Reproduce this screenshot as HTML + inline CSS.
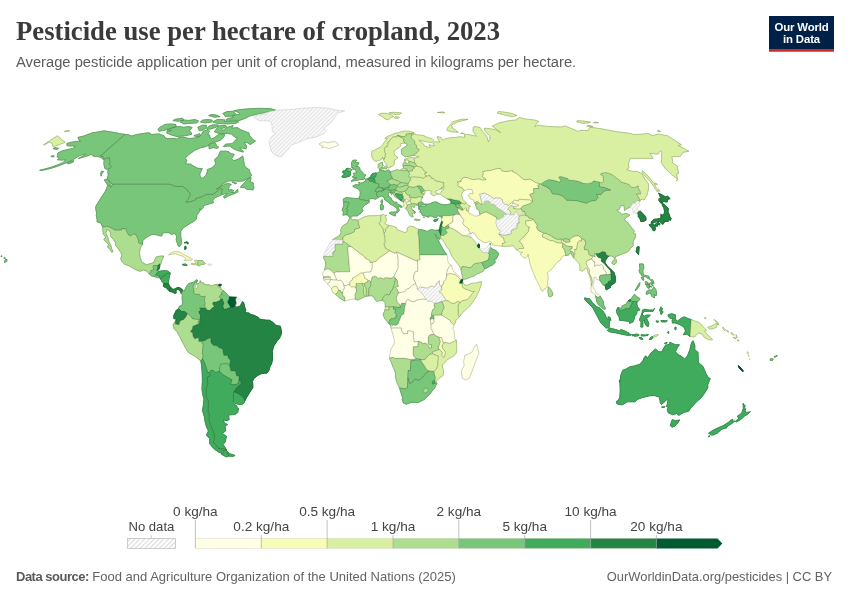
<!DOCTYPE html>
<html><head><meta charset="utf-8"><title>Pesticide use per hectare of cropland, 2023</title>
<style>
html,body{margin:0;padding:0;background:#fff}
body{width:850px;height:600px;position:relative;overflow:hidden;font-family:"Liberation Sans",sans-serif;color:#5b5b5b}
.map{position:absolute;left:0;top:0}
h1{position:absolute;left:16px;top:16px;margin:0;font-family:"Liberation Serif",serif;font-weight:700;font-size:26.7px;line-height:30px;color:#3a3a3a;white-space:nowrap}
.sub{position:absolute;left:16px;top:52.6px;font-size:14.73px;line-height:18px;color:#5b5b5b;white-space:nowrap}
.logo{position:absolute;left:769px;top:16px;width:65px;height:36px;color:#fff;font-weight:700;font-size:11.4px;line-height:12.1px;text-align:center;letter-spacing:-.15px}
.logo span{display:block;padding-top:5.2px}
.foot{position:absolute;top:568.8px;font-size:13px;line-height:16px;color:#636363;white-space:nowrap}.foot b{letter-spacing:-.5px;color:#5a5a5a}
.lg{position:absolute;font-size:13px;line-height:15px;color:#3c3c3c;white-space:nowrap;transform:translateX(-50%)}
</style></head><body>
<svg class="map" width="850" height="600" viewBox="0 0 850 600">
<defs><pattern id="h" patternUnits="userSpaceOnUse" width="2.83" height="2.83" patternTransform="rotate(-45)"><rect width="2.83" height="2.83" fill="#fff"/><rect width="2.83" height="1.3" fill="#e3e3e3"/></pattern></defs>
<g stroke-linejoin="round"><path d="M111.8,184.0L168.5,184.0L172.5,185.1L176.0,186.4L178.9,186.6L182.2,186.1L187.2,189.7L187.4,190.7L189.0,191.8L190.4,194.3L188.3,199.5L185.8,202.1L190.5,201.6L195.3,200.0L195.6,198.5L201.9,196.7L206.3,194.3L213.0,194.3L216.4,192.0L220.0,188.2L222.6,188.9L221.4,192.5L222.3,194.6L218.7,196.1L215.1,197.7L212.8,200.3L213.5,202.7L210.0,203.7L205.3,205.0L203.8,206.0L202.7,208.4L200.4,210.2L199.9,208.4L199.6,211.5L196.8,215.2L196.8,215.5L196.5,218.9L194.1,221.2L190.3,223.4L186.9,225.5L182.9,228.1L180.7,231.5L180.8,236.3L181.5,241.0L181.1,244.7L179.6,246.5L178.3,246.3L177.4,243.6L176.1,239.7L176.8,236.3L174.8,233.6L171.3,234.4L169.0,232.6L164.5,232.8L162.2,233.1L162.0,236.0L159.4,235.7L156.2,234.7L152.2,234.4L149.3,235.7L145.4,238.1L142.8,240.7L142.4,244.4L138.6,243.1L138.2,239.9L136.0,234.7L133.0,234.1L130.7,236.3L128.2,234.7L125.5,228.9L121.7,228.9L121.3,230.2L115.1,230.2L108.1,226.5L102.6,227.0L100.9,223.1L97.0,221.8L97.0,219.1L96.3,215.7L96.5,213.1L95.7,208.6L95.8,206.3L98.4,202.1L101.6,196.9L105.4,191.2L107.6,185.6L110.7,185.8L110.4,187.9L112.3,184.3ZM125.0,134.4L119.4,133.5L114.3,132.5L110.3,131.8L104.4,130.8L98.6,131.8L91.9,132.9L84.4,135.8L77.9,137.4L78.8,139.2L79.0,140.3L80.9,141.4L76.5,141.4L70.9,142.3L66.7,143.5L67.1,145.8L72.1,146.0L75.4,146.2L72.8,148.4L67.7,149.5L62.6,150.7L58.0,152.9L57.5,154.7L57.3,157.1L59.3,157.9L57.5,159.8L62.5,160.1L65.8,159.6L62.8,162.8L56.8,165.2L50.5,167.4L45.0,168.9L39.6,170.4L43.7,170.1L50.1,168.6L56.2,166.7L62.7,164.2L69.1,161.8L73.9,159.1L79.8,155.5L85.4,153.8L83.8,155.5L78.4,158.4L83.5,157.1L87.6,155.9L91.3,154.3L92.5,155.7L94.2,156.6L97.9,156.6L100.9,157.4L103.0,159.1L104.2,160.8L103.8,163.3L104.2,165.9L104.8,168.4L106.9,169.4L109.9,168.2L111.5,166.4L109.6,164.7L110.2,161.5L109.6,159.1L109.4,157.4L104.0,159.1L103.5,156.6L100.6,155.9ZM67.2,163.3L69.8,163.5L73.2,162.0L73.7,160.6L70.3,161.5ZM53.0,148.6L56.8,149.5L58.7,148.4L54.8,147.6ZM50.8,156.6L53.5,156.9L54.2,155.7L51.9,155.9ZM4.5,262.6L7.0,261.3L7.0,259.4L5.1,259.7ZM3.8,258.4L5.5,258.1L4.6,257.3ZM0.9,256.5L2.0,256.5L1.6,255.5ZM-2.1,254.9L-1.2,254.7L-1.4,254.0Z" fill="#78c679" stroke="#78c679" stroke-width="1"/>
<path d="M125.0,134.4L128.1,134.6L131.6,136.0L136.6,134.6L142.9,133.5L149.0,132.7L151.7,134.6L155.8,134.0L159.2,134.0L164.1,135.8L165.3,138.0L167.4,138.5L173.7,138.3L177.1,139.2L178.8,137.4L183.2,137.1L188.9,138.5L194.4,138.0L198.4,137.4L201.5,134.6L203.1,131.4L207.9,129.5L209.4,131.4L207.7,134.2L209.6,135.1L209.9,136.9L211.6,139.2L214.5,137.6L218.5,134.4L224.6,134.2L223.9,136.9L220.3,140.3L215.7,141.9L212.2,141.9L210.1,144.8L205.3,146.7L200.0,147.9L194.5,150.5L189.1,154.3L184.9,158.4L187.0,160.1L185.4,164.0L190.2,164.0L193.0,165.7L197.3,168.2L202.3,168.6L199.8,173.9L200.5,178.2L203.2,178.0L206.0,175.2L207.4,171.4L207.3,169.6L212.2,167.7L215.7,164.0L214.6,159.6L218.1,156.6L220.4,151.2L225.9,151.2L229.1,151.9L230.8,153.8L234.3,154.3L231.7,158.6L233.8,160.8L238.4,159.1L242.7,155.9L243.9,161.5L244.3,165.2L246.1,167.7L249.2,169.6L250.1,172.7L251.7,175.2L249.4,177.7L243.2,181.0L238.1,181.2L233.2,180.7L228.1,181.0L222.9,184.0L218.5,187.9L215.8,189.4L222.4,185.6L227.1,183.5L231.4,184.3L229.2,186.6L228.7,189.2L228.7,191.2L231.4,192.3L234.5,192.5L237.6,189.2L238.1,191.8L234.1,193.8L229.4,195.4L224.4,198.2L223.5,196.4L227.5,193.6L224.7,193.8L222.3,194.6L221.4,192.5L222.6,188.9L220.0,188.2L216.4,192.0L213.0,194.3L206.3,194.3L201.9,196.7L195.6,198.5L195.3,200.0L190.5,201.6L185.8,202.1L188.3,199.5L190.4,194.3L189.0,191.8L187.4,190.7L187.2,189.7L182.2,186.1L178.9,186.6L176.0,186.4L172.5,185.1L168.5,184.0L111.8,184.0L110.4,181.5L107.3,179.0L108.2,175.2L107.8,171.9L108.1,169.6L109.9,168.2L111.5,166.4L109.6,164.7L110.2,161.5L109.6,159.1L109.4,157.4L104.0,159.1L103.5,156.6L100.6,155.9ZM110.0,185.6L107.3,184.8L106.1,182.8L104.1,180.0L106.1,179.2L109.0,180.7L110.3,183.3ZM101.1,176.2L100.7,173.4L101.6,171.2L103.7,171.4L101.7,173.9ZM240.6,187.4L244.3,187.6L247.2,189.4L250.9,189.7L252.9,190.0L254.1,187.6L253.1,185.3L253.3,183.0L250.1,181.7L251.2,177.7L248.6,178.2L246.3,180.7L243.3,184.0L241.0,186.1ZM231.9,182.0L235.6,183.8L236.8,183.3L233.8,182.0ZM229.5,190.0L232.6,191.8L233.8,190.7L230.7,189.4ZM208.8,144.1L209.2,148.8L213.6,147.6L216.7,148.4L218.7,147.2L216.6,145.8L215.1,142.8L212.3,143.0ZM243.6,152.1L238.0,150.7L233.6,148.8L229.8,146.0L223.3,146.5L225.6,144.1L232.1,143.7L234.3,141.4L237.3,138.0L234.6,136.9L231.4,134.0L227.5,133.5L220.8,133.5L217.2,132.9L214.3,131.8L216.2,129.3L218.5,125.9L225.2,125.4L226.7,126.5L221.5,128.8L222.3,130.8L226.7,127.6L233.1,125.6L231.8,128.2L237.2,127.6L241.1,129.9L245.0,131.4L248.9,132.9L249.3,135.1L252.3,138.9L255.5,141.0L250.1,144.6L247.5,142.8L243.9,142.1L246.7,146.0L246.2,148.8L242.4,148.1L239.5,147.9L242.6,150.5ZM166.8,133.1L171.5,135.1L177.0,136.5L184.5,135.8L191.6,134.4L191.5,132.7L189.1,131.0L192.2,127.6L189.0,126.5L183.2,127.3L178.8,126.3L171.2,128.0L167.0,130.1L171.5,130.5L166.9,131.6ZM158.0,129.5L159.2,131.2L164.3,130.3L170.4,128.6L175.9,126.7L176.0,124.6L171.2,123.9L165.1,124.4L159.5,127.6ZM197.8,127.3L199.3,130.8L203.4,129.9L206.4,127.6L206.3,125.2L202.3,125.2ZM206.7,128.6L209.7,129.3L216.5,127.1L218.4,125.0L213.1,124.8L209.4,125.9ZM193.8,135.8L197.3,136.7L200.6,135.8L199.7,133.7ZM180.2,121.9L183.8,123.9L190.8,123.3L196.8,122.9L198.6,120.9L195.0,119.6L188.6,120.4L184.5,120.0ZM200.4,121.9L205.4,122.9L212.1,121.9L212.1,120.0L207.3,119.6L202.9,120.0ZM172.9,120.5L177.9,121.3L183.8,120.0L182.5,118.2L175.7,119.2ZM212.9,121.9L217.4,123.5L226.5,123.9L235.6,123.5L238.6,121.9L235.5,121.1L224.2,121.5L224.6,119.8L217.4,119.4ZM225.7,120.2L233.4,120.2L239.2,120.5L245.1,118.4L249.6,116.1L257.3,114.1L268.0,111.9L275.5,110.0L271.1,108.8L260.5,108.3L248.9,108.8L239.6,109.6L233.7,110.8L238.8,112.4L239.7,114.1L232.4,115.5L233.3,117.4L227.5,118.6ZM222.9,113.5L225.4,116.5L232.5,116.1L235.6,113.9L233.1,111.3L227.0,111.6ZM208.7,115.5L214.0,117.2L219.9,116.7L216.6,115.1L211.5,114.5Z" fill="#78c679" stroke="#78c679" stroke-width="1"/>
<path d="M102.6,227.0L108.1,226.5L115.1,230.2L121.3,230.2L121.7,228.9L125.5,228.9L128.2,234.7L130.7,236.3L133.0,234.1L136.0,234.7L138.2,239.9L138.6,243.1L142.4,244.4L140.3,248.1L139.4,253.4L140.2,257.3L141.6,261.8L144.3,263.6L146.5,264.7L151.3,263.4L153.6,262.6L155.3,258.6L156.2,257.1L160.3,256.0L163.7,256.0L161.9,260.5L160.8,264.4L159.7,263.9L157.7,265.5L153.5,265.7L153.0,267.3L154.1,270.0L151.3,270.2L149.5,274.2L146.2,270.7L143.5,270.0L139.9,271.3L135.5,269.7L132.3,267.8L128.5,265.5L124.7,264.4L121.7,261.3L120.7,258.6L121.9,255.7L120.9,252.6L118.2,248.6L115.5,245.2L115.3,242.3L113.3,239.4L110.5,236.3L110.1,231.5L107.2,229.1L105.8,233.1L107.5,236.5L108.9,241.5L110.9,245.5L111.7,248.9L113.1,251.5L111.8,252.3L110.1,249.4L107.7,247.3L108.5,244.2L105.2,241.3L103.9,239.4L105.8,237.0L103.2,234.1L103.0,231.0Z" fill="#addd8e" stroke="#addd8e" stroke-width="1"/>
<path d="M159.7,263.9L157.7,265.5L156.8,270.7L157.5,270.7L159.0,269.2L159.8,266.5Z" fill="#238443" stroke="#238443" stroke-width="1"/>
<path d="M149.5,274.2L151.3,270.2L154.1,270.0L153.0,267.3L153.5,265.7L157.7,265.5L156.8,270.7L157.5,270.7L159.0,271.3L156.5,273.4L156.0,274.7L154.1,276.4L151.6,276.0Z" fill="#78c679" stroke="#78c679" stroke-width="1"/>
<path d="M154.1,276.4L156.0,274.7L157.9,275.7L159.5,276.0L159.3,277.6L157.7,277.8L155.9,277.1Z" fill="#78c679" stroke="#78c679" stroke-width="1"/>
<path d="M159.0,271.3L156.5,273.4L156.0,274.7L157.9,275.7L159.5,276.0L159.3,277.6L160.2,278.4L161.1,278.4L162.0,276.3L164.3,276.0L166.4,273.6L170.3,273.1L169.1,272.1L167.6,270.9L164.2,270.7L160.7,271.0Z" fill="#41ab5d" stroke="#41ab5d" stroke-width="1"/>
<path d="M160.2,278.4L161.1,278.4L162.0,276.3L164.3,276.0L166.4,273.6L170.3,273.1L169.3,277.1L168.8,280.2L168.3,283.6L166.0,283.6L163.7,283.4L162.0,281.5Z" fill="#41ab5d" stroke="#41ab5d" stroke-width="1"/>
<path d="M163.7,283.4L166.0,283.6L168.3,283.6L169.8,286.3L170.7,287.5L169.8,289.4L169.7,291.4L168.2,290.0L165.8,287.3L164.8,287.3L163.3,286.3Z" fill="#238443" stroke="#238443" stroke-width="1"/>
<path d="M170.7,287.5L173.1,289.4L175.5,288.6L177.8,287.3L180.1,287.9L182.6,289.7L182.3,291.8L181.3,293.6L180.0,290.7L177.8,289.2L175.8,290.7L176.4,292.9L174.3,293.6L173.0,292.3L169.7,291.4L169.8,289.4Z" fill="#238443" stroke="#238443" stroke-width="1"/>
<path d="M168.6,254.9L171.0,252.8L174.6,251.7L179.1,251.8L182.3,253.6L185.5,255.5L188.7,257.1L192.5,259.4L190.6,260.2L184.4,260.3L185.8,258.4L183.1,256.3L178.7,254.9L175.4,253.6L171.9,254.3Z" fill="#f7fcb9" stroke="#f7fcb9" stroke-width="1"/>
<path d="M182.4,264.4L185.6,263.9L187.3,265.2L185.0,265.7L182.5,264.9Z" fill="#41ab5d" stroke="#41ab5d" stroke-width="1"/>
<path d="M191.3,264.4L195.9,264.8L197.6,265.1L198.1,260.7L195.2,260.2L194.2,260.7L195.5,261.8L196.2,263.6L193.7,263.6L191.4,263.5Z" fill="#d9f0a3" stroke="#d9f0a3" stroke-width="1"/>
<path d="M197.6,265.1L198.1,260.7L202.0,260.5L203.8,261.8L205.4,263.6L204.0,264.2L201.2,264.4L199.2,266.0Z" fill="#addd8e" stroke="#addd8e" stroke-width="1"/>
<path d="M184.8,246.5L186.0,246.3L186.1,248.9L184.7,249.4ZM184.1,242.8L186.8,241.8L188.4,242.8L187.7,244.2L187.3,242.8Z" fill="#238443" stroke="#238443" stroke-width="1"/>
<path d="M218.8,286.1L218.9,284.4L221.2,284.2L220.9,286.0Z" fill="#005a32" stroke="#005a32" stroke-width="1"/>
<path d="M182.6,289.7L183.9,291.5L185.5,288.4L187.3,285.0L189.0,283.4L190.9,282.9L193.3,282.3L195.2,280.7L196.4,279.8L197.6,280.2L197.2,281.5L194.6,283.4L193.0,286.8L194.0,290.2L194.1,293.1L195.4,294.2L199.4,294.2L200.9,296.5L205.4,296.3L204.6,298.6L204.5,301.5L205.6,303.6L204.4,305.2L206.0,308.1L206.5,309.4L204.2,308.1L199.7,308.1L201.1,310.0L199.2,311.2L199.2,313.1L200.6,315.2L199.6,323.7L197.7,322.6L199.1,319.7L192.5,318.9L190.6,316.0L186.8,313.0L184.5,311.5L181.7,311.5L178.7,308.9L179.5,306.0L181.8,305.8L182.6,302.3L182.0,298.1L182.4,295.0L181.3,293.6L182.3,291.8Z" fill="#78c679" stroke="#78c679" stroke-width="1"/>
<path d="M197.2,281.5L196.6,282.3L196.4,283.9L197.8,283.6L199.7,282.6L200.3,280.5L200.9,282.3L203.9,283.1L204.2,284.7L208.9,284.7L211.6,286.0L213.2,285.2L216.3,284.4L218.9,284.4L216.9,285.5L217.8,286.8L220.8,287.6L221.2,290.0L223.5,290.7L221.3,292.9L222.2,294.2L220.1,295.2L219.5,296.9L221.1,298.9L219.2,301.0L216.2,302.1L213.4,302.3L212.6,303.9L214.7,306.5L213.0,307.6L209.7,310.5L207.9,310.6L206.5,309.4L206.0,308.1L204.4,305.2L205.6,303.6L204.5,301.5L204.6,298.6L205.4,296.3L200.9,296.5L199.4,294.2L195.4,294.2L194.1,293.1L194.0,290.2L193.0,286.8L194.6,283.4L197.2,281.5Z" fill="#addd8e" stroke="#addd8e" stroke-width="1"/>
<path d="M223.5,290.7L226.4,293.4L228.7,296.0L229.4,296.9L229.0,299.4L227.6,302.1L228.9,303.9L230.8,307.6L228.4,308.1L226.1,309.2L223.7,308.9L222.8,306.3L223.6,303.6L223.6,302.1L222.5,300.5L222.7,299.2L221.1,298.9L219.5,296.9L220.1,295.2L222.2,294.2L221.3,292.9L223.5,290.7Z" fill="#78c679" stroke="#78c679" stroke-width="1"/>
<path d="M229.4,296.9L232.3,297.1L236.8,297.3L235.8,299.7L236.6,303.1L235.3,306.4L232.2,307.6L230.8,307.6L228.9,303.9L227.6,302.1L229.0,299.4L229.4,296.9Z" fill="#005a32" stroke="#005a32" stroke-width="1"/>
<path d="M242.1,301.7L243.6,302.3L244.8,307.3L245.9,310.2L244.9,312.6L249.4,313.1L250.5,314.4L254.0,315.2L258.7,317.6L259.2,319.2L263.4,319.7L266.9,320.2L269.3,320.1L272.8,322.3L275.8,325.2L280.4,326.3L281.5,331.3L281.4,333.9L279.6,338.1L276.7,341.6L273.4,346.8L272.4,351.6L272.6,359.2L271.5,364.2L270.2,366.0L268.9,370.5L266.8,373.2L264.1,373.2L260.7,373.9L257.2,375.8L253.6,378.9L252.5,381.6L252.9,385.3L252.8,387.9L250.5,391.1L248.7,394.2L246.7,397.4L244.5,401.5L243.8,398.2L240.9,395.5L238.4,393.9L235.4,392.4L233.6,392.1L236.6,387.6L238.6,385.8L241.1,384.1L241.1,381.6L238.8,380.0L239.0,376.0L236.5,375.8L235.4,371.3L230.6,370.8L230.0,367.1L229.3,365.6L230.4,360.5L228.1,358.1L227.9,355.5L223.7,355.5L222.6,348.9L219.5,348.1L216.6,345.8L213.4,345.5L211.1,342.9L210.6,338.1L207.8,338.7L204.7,340.8L201.3,341.4L198.7,341.6L198.5,337.6L194.8,338.9L193.1,336.6L192.2,332.1L190.4,332.3L191.0,330.8L192.3,328.7L192.7,326.3L197.3,324.2L199.6,323.7L200.6,315.2L199.2,313.1L199.2,311.2L201.1,310.0L199.7,308.1L204.2,308.1L206.5,309.4L207.9,310.6L209.7,310.5L213.0,307.6L214.7,306.5L212.6,303.9L213.4,302.3L216.2,302.1L219.2,301.0L221.1,298.9L222.7,299.2L222.5,300.5L223.6,302.1L223.6,303.6L222.8,306.3L223.7,308.9L226.1,309.2L228.4,308.1L230.8,307.6L232.2,307.6L235.3,306.4L237.1,306.8L239.9,306.0Z" fill="#238443" stroke="#238443" stroke-width="1"/>
<path d="M186.8,313.0L187.1,315.1L186.2,316.5L183.9,319.4L181.1,320.5L179.8,321.6L179.1,324.7L177.3,324.4L175.2,324.2L175.3,321.6L176.5,319.2L173.9,318.7L173.8,315.2L175.6,311.8L175.9,310.5L178.7,308.9L181.7,311.5L184.5,311.5Z" fill="#238443" stroke="#238443" stroke-width="1"/>
<path d="M175.3,321.6L173.1,324.4L173.9,328.4L176.9,331.6L179.9,337.1L183.6,344.2L186.0,348.9L188.9,352.9L195.5,356.6L198.3,358.9L200.8,360.9L202.6,358.7L203.2,355.2L202.4,353.7L202.6,351.0L203.0,346.3L203.4,345.5L201.3,341.4L198.7,341.6L198.5,337.6L194.8,338.9L193.1,336.6L192.2,332.1L190.4,332.3L191.0,330.8L192.3,328.7L192.7,326.3L197.3,324.2L199.6,323.7L197.7,322.6L199.1,319.7L192.5,318.9L190.6,316.0L186.8,313.0L187.1,315.1L186.2,316.5L183.9,319.4L181.1,320.5L179.8,321.6L179.1,324.7L177.3,324.4L175.2,324.2Z" fill="#addd8e" stroke="#addd8e" stroke-width="1"/>
<path d="M202.6,358.7L204.4,362.6L205.7,366.3L206.7,369.2L207.7,372.6L209.3,372.6L211.1,370.0L213.7,370.8L215.7,372.6L219.4,371.2L219.9,366.6L220.8,364.2L226.9,363.4L229.3,365.6L230.4,360.5L228.1,358.1L227.9,355.5L223.7,355.5L222.6,348.9L219.5,348.1L216.6,345.8L213.4,345.5L211.1,342.9L210.6,338.1L207.8,338.7L204.7,340.8L201.3,341.4L203.4,345.5L203.0,346.3L202.6,351.0L202.4,353.7L203.2,355.2Z" fill="#78c679" stroke="#78c679" stroke-width="1"/>
<path d="M219.4,371.2L223.7,375.3L228.5,377.9L231.9,379.7L230.3,384.3L233.9,384.7L236.2,384.5L238.6,382.6L238.8,380.0L239.0,376.0L236.5,375.8L235.4,371.3L230.6,370.8L230.0,367.1L229.3,365.6L226.9,363.4L220.8,364.2L219.9,366.6Z" fill="#78c679" stroke="#78c679" stroke-width="1"/>
<path d="M233.6,392.1L233.3,395.5L233.3,398.2L233.5,401.8L235.1,403.3L238.9,404.5L241.7,404.6L243.9,403.2L244.5,401.5L243.8,398.2L240.9,395.5L238.4,393.9L235.4,392.4Z" fill="#41ab5d" stroke="#41ab5d" stroke-width="1"/>
<path d="M209.3,372.6L210.1,375.8L207.1,377.1L207.8,383.7L206.2,387.6L206.0,392.9L206.0,396.8L208.0,400.3L208.3,403.4L208.1,407.4L207.9,411.3L209.4,415.2L208.8,419.2L210.3,424.4L211.7,428.3L214.0,433.4L214.2,438.6L213.2,442.4L216.6,445.7L218.9,448.8L222.9,448.8L226.4,449.5L223.1,444.5L225.2,441.9L226.5,436.3L222.3,433.4L225.6,430.9L225.6,429.6L225.1,425.7L227.7,424.6L224.3,423.1L223.4,419.9L227.9,420.7L229.2,419.4L228.5,415.0L234.9,414.5L237.7,412.6L238.6,408.4L237.2,408.2L237.0,406.1L233.9,403.7L233.5,401.8L233.3,398.2L233.3,395.5L233.6,392.1L236.6,387.6L238.6,385.8L241.1,384.1L241.1,381.6L238.8,380.0L238.6,382.6L236.2,384.5L233.9,384.7L230.3,384.3L231.9,379.7L228.5,377.9L223.7,375.3L219.4,371.2L215.7,372.6L213.7,370.8L211.1,370.0ZM226.4,450.4L227.7,452.0L230.0,453.8L235.1,455.4L233.0,456.4L228.8,456.1Z" fill="#41ab5d" stroke="#41ab5d" stroke-width="1"/>
<path d="M200.8,360.9L201.6,365.3L202.2,374.5L202.4,381.0L201.9,388.9L202.7,394.2L203.9,399.5L203.2,406.1L202.4,410.5L204.3,416.6L205.1,421.8L206.3,426.5L208.4,430.9L206.3,435.2L209.7,438.6L209.6,443.7L213.9,448.8L218.4,452.0L222.4,453.5L222.0,450.8L224.4,450.0L226.4,449.5L222.9,448.8L218.9,448.8L216.6,445.7L213.2,442.4L214.2,438.6L214.0,433.4L211.7,428.3L210.3,424.4L208.8,419.2L209.4,415.2L207.9,411.3L208.1,407.4L208.3,403.4L208.0,400.3L206.0,396.8L206.0,392.9L206.2,387.6L207.8,383.7L207.1,377.1L210.1,375.8L209.3,372.6L207.7,372.6L206.7,369.2L205.7,366.3L204.4,362.6L202.6,358.7ZM226.4,450.4L228.8,456.1L226.5,457.0L222.7,455.1L221.2,454.0L223.6,452.8L223.5,451.0L224.9,450.3Z" fill="#41ab5d" stroke="#41ab5d" stroke-width="1"/>
<path d="M319.3,143.7L324.1,141.6L327.4,142.6L334.6,141.4L337.0,143.0L338.6,144.8L335.7,146.5L329.2,148.6L324.8,147.6L321.8,147.6L323.3,146.2L319.9,145.0Z" fill="#ffffe5" stroke="#ffffe5" stroke-width="1"/>
<path d="M342.5,177.4L345.5,177.4L350.0,175.9L350.5,173.2L350.3,171.3L348.2,171.2L346.7,170.1L348.3,168.8L348.1,168.2L345.9,168.9L345.7,170.6L342.9,170.9L342.8,172.9L344.7,173.7L343.2,175.2L341.8,176.2Z" fill="#41ab5d" stroke="#41ab5d" stroke-width="1"/>
<path d="M350.3,171.3L351.7,170.4L351.2,169.1L350.4,168.4L348.3,168.8L346.7,170.1L348.2,171.2ZM351.0,181.2L355.4,180.7L359.5,179.7L363.1,179.5L365.3,178.5L363.9,177.7L365.9,174.9L363.1,173.9L362.7,172.4L360.2,169.9L359.4,167.4L358.6,166.7L356.1,166.4L357.7,165.2L359.1,162.8L354.9,162.5L356.7,160.1L353.1,160.1L351.4,162.8L351.7,165.2L351.8,167.9L353.2,167.4L352.7,169.4L355.7,169.1L355.8,170.9L356.6,172.9L353.6,173.2L353.8,174.4L354.3,175.7L352.1,176.9L355.5,178.0L357.1,177.7L353.9,178.7Z" fill="#78c679" stroke="#78c679" stroke-width="1"/>
<path d="M358.7,198.5L360.0,195.4L360.2,192.8L360.0,191.2L358.0,188.7L353.3,186.9L352.9,185.6L356.4,184.6L359.2,185.1L358.8,182.2L360.3,183.0L362.7,182.8L365.5,181.0L365.7,179.2L367.6,178.7L369.0,180.5L371.0,181.5L372.2,181.2L374.3,182.6L375.4,182.9L379.2,184.0L378.1,187.6L376.9,188.2L375.1,190.7L375.2,191.4L376.6,191.5L377.1,192.0L376.5,194.1L377.2,196.1L378.3,197.4L375.6,199.3L373.0,198.5L370.9,198.2L369.1,199.3L369.1,201.0L366.1,200.8L364.0,200.0L361.4,200.0ZM380.7,201.1L382.4,199.5L382.7,201.9L382.1,203.7L381.3,203.2Z" fill="#78c679" stroke="#78c679" stroke-width="1"/>
<path d="M358.7,198.5L354.5,198.4L350.3,198.0L345.9,197.6L343.1,199.3L343.6,202.4L345.1,202.0L348.5,202.3L349.3,203.2L347.7,204.7L347.7,206.8L347.4,208.1L346.3,208.4L347.4,210.2L346.7,211.8L347.3,212.6L346.4,214.7L348.5,215.7L349.4,217.3L350.2,217.8L352.7,216.0L357.7,215.9L359.0,214.2L361.0,213.5L362.9,210.6L361.9,208.6L364.4,205.3L367.2,203.7L369.3,202.4L369.1,201.0L366.1,200.8L364.0,200.0L361.4,200.0Z" fill="#78c679" stroke="#78c679" stroke-width="1"/>
<path d="M346.4,214.7L347.3,212.6L346.7,211.8L347.4,210.2L346.3,208.4L347.4,208.1L347.7,206.8L347.7,204.7L349.3,203.2L348.5,202.3L345.1,202.0L343.6,202.4L343.9,205.0L342.0,210.6L343.4,211.5L343.4,212.8L342.9,215.2Z" fill="#78c679" stroke="#78c679" stroke-width="1"/>
<path d="M374.3,182.6L372.2,181.2L371.0,181.5L369.0,180.5L367.6,178.7L369.2,178.0L371.1,178.0L372.5,177.7L374.2,178.6L373.9,179.5L374.6,179.6L375.4,180.6L374.9,181.1L374.2,181.9Z" fill="#41ab5d" stroke="#41ab5d" stroke-width="1"/>
<path d="M374.3,182.6L374.2,181.9L374.9,181.1L375.7,182.0L375.4,182.9Z" fill="#78c679" stroke="#78c679" stroke-width="1"/>
<path d="M369.2,178.0L370.5,176.6L371.8,174.0L373.2,173.4L376.1,172.8L376.7,173.3L376.5,174.8L375.8,175.2L376.5,175.8L375.9,176.7L374.5,176.8L374.9,178.0L374.5,179.0L374.6,179.6L373.9,179.5L374.2,178.6L372.5,177.7L371.1,178.0Z" fill="#41ab5d" stroke="#41ab5d" stroke-width="1"/>
<path d="M376.7,173.3L378.5,172.4L379.4,171.7L380.0,171.2L379.4,169.1L380.9,169.4L382.3,170.4L384.0,170.4L383.9,171.5L386.2,170.9L388.7,169.8L390.4,171.7L390.9,173.4L390.5,174.3L391.8,176.2L392.5,178.5L392.3,179.3L391.2,178.8L388.7,180.3L386.9,180.7L387.8,181.7L388.9,183.3L390.7,184.6L389.9,185.6L388.7,186.2L389.3,187.9L387.6,187.5L385.2,188.2L383.5,188.4L382.1,187.8L380.2,187.3L378.1,187.6L379.2,184.0L375.4,182.9L375.7,182.0L374.9,181.1L375.4,180.6L374.6,179.6L374.5,179.0L374.9,178.0L374.5,176.8L375.9,176.7L376.5,175.8L375.8,175.2L376.5,174.8Z" fill="#78c679" stroke="#78c679" stroke-width="1"/>
<path d="M378.1,187.6L380.2,187.3L382.1,187.8L382.3,189.1L384.1,189.4L383.5,191.1L381.8,190.7L381.2,192.1L380.0,190.6L378.8,191.9L377.1,192.0L376.6,191.5L375.2,191.4L375.1,190.7L376.9,188.2Z" fill="#78c679" stroke="#78c679" stroke-width="1"/>
<path d="M382.1,187.8L383.5,188.4L385.2,188.2L387.6,187.5L389.3,187.9L388.7,186.2L389.9,185.6L390.7,184.6L392.5,185.1L393.1,184.0L395.4,184.7L397.1,185.1L397.7,186.6L396.5,188.2L395.8,189.5L393.5,190.2L390.9,190.4L388.1,190.0L387.6,189.1L385.5,189.3L384.1,189.4L382.3,189.1Z" fill="#78c679" stroke="#78c679" stroke-width="1"/>
<path d="M378.3,197.4L381.2,195.9L384.0,197.2L384.7,199.8L387.4,201.6L388.7,202.9L390.3,204.2L392.7,205.3L394.7,206.8L396.3,207.6L397.3,210.0L396.5,212.6L397.4,212.7L398.5,211.5L399.5,210.0L398.0,208.1L398.7,206.2L401.2,207.5L402.3,207.1L401.1,205.6L396.6,203.6L397.0,202.4L394.4,202.1L392.2,200.3L391.1,198.0L388.9,196.8L388.2,194.6L388.2,193.3L389.8,192.4L391.2,192.8L390.8,191.8L390.9,190.4L388.1,190.0L387.6,189.1L385.5,189.3L384.1,189.4L383.5,191.1L381.8,190.7L381.2,192.1L380.0,190.6L378.8,191.9L377.1,192.0L376.5,194.1L377.2,196.1ZM389.5,212.7L391.3,212.1L396.3,211.9L395.4,214.4L395.6,216.0L393.7,215.6L389.6,213.6ZM380.0,205.0L382.1,204.1L383.5,206.0L383.2,209.4L381.9,210.0L380.6,209.7L380.5,206.6Z" fill="#78c679" stroke="#78c679" stroke-width="1"/>
<path d="M379.4,169.1L378.2,167.5L378.1,165.0L378.9,163.7L382.7,162.1L382.3,165.0L383.5,165.5L382.2,166.7L381.1,167.9L380.9,169.4ZM384.0,167.2L385.7,166.2L386.9,167.2L386.3,169.1L384.3,168.4ZM381.5,167.7L383.3,167.7L383.3,168.8L382.0,168.6Z" fill="#addd8e" stroke="#addd8e" stroke-width="1"/>
<path d="M383.4,158.8L382.3,156.9L381.9,159.1L379.5,160.3L375.8,161.5L373.0,159.6L371.8,156.2L371.7,153.1L371.8,151.4L375.2,149.8L377.8,148.4L380.4,147.2L382.5,145.0L384.1,142.6L385.4,140.5L387.4,138.7L384.8,138.3L388.0,136.2L390.4,135.3L394.4,133.5L398.4,132.7L401.4,131.6L405.1,131.1L408.8,131.2L414.2,132.7L411.1,133.3L414.3,134.0L413.1,134.6L411.6,135.7L411.5,134.2L409.4,133.4L406.2,134.2L406.0,135.3L404.7,136.7L401.6,136.5L398.0,135.3L397.3,135.6L396.8,137.1L393.4,136.9L392.1,137.8L390.8,139.2L389.4,141.4L387.9,142.3L388.3,144.1L386.9,145.8L387.7,146.7L385.2,147.2L384.3,148.6L384.8,151.9L385.7,154.0L385.1,155.5L385.8,156.4L384.5,157.4L384.5,159.1ZM378.6,114.5L382.7,117.0L385.3,119.0L388.5,119.8L390.4,118.0L393.8,116.5L390.4,114.5L385.7,113.3L381.4,113.3ZM389.2,112.8L394.8,114.5L399.1,114.3L401.6,113.0L395.6,112.4L391.3,112.4ZM394.2,118.0L398.1,118.4L399.3,117.2L395.3,116.7Z" fill="#d9f0a3" stroke="#d9f0a3" stroke-width="1"/>
<path d="M383.4,158.8L383.9,160.8L385.1,162.3L386.4,164.2L387.0,166.2L387.7,167.9L390.2,167.7L389.9,166.7L392.6,166.1L394.0,164.7L394.2,161.8L394.4,160.1L396.2,159.3L397.6,157.1L394.5,155.0L394.0,152.6L394.3,151.0L396.8,148.8L399.3,147.6L400.8,145.8L400.0,144.1L401.8,143.5L404.9,143.0L403.7,141.4L403.7,139.2L402.6,138.0L400.0,136.9L397.3,135.6L396.8,137.1L393.4,136.9L392.1,137.8L390.8,139.2L389.4,141.4L387.9,142.3L388.3,144.1L386.9,145.8L387.7,146.7L385.2,147.2L384.3,148.6L384.8,151.9L385.7,154.0L385.1,155.5L385.8,156.4L384.5,157.4L384.5,159.1Z" fill="#d9f0a3" stroke="#d9f0a3" stroke-width="1"/>
<path d="M404.9,143.0L407.5,144.8L406.4,146.2L403.8,147.6L401.3,149.3L401.4,152.1L402.1,154.7L403.7,155.7L405.4,157.0L409.0,156.2L414.0,155.3L416.7,153.1L419.5,149.8L416.3,147.6L416.7,145.3L414.7,143.2L415.0,141.4L412.4,138.7L411.3,137.6L411.6,135.7L411.5,134.2L409.4,133.4L406.2,134.2L406.0,135.3L404.7,136.7L401.6,136.5L398.0,135.3L397.3,135.6L400.0,136.9L402.6,138.0L403.7,139.2L403.7,141.4Z" fill="#addd8e" stroke="#addd8e" stroke-width="1"/>
<path d="M415.1,158.0L410.7,157.6L408.7,157.9L406.6,158.6L406.8,159.8L408.9,160.8L408.7,161.9L410.5,161.4L413.0,162.6L414.6,162.6L414.4,160.3L414.1,159.3ZM403.9,160.8L405.1,160.1L406.3,160.2L405.8,160.9L404.6,161.5ZM404.3,159.3L405.6,159.1L405.5,159.7Z" fill="#d9f0a3" stroke="#d9f0a3" stroke-width="1"/>
<path d="M408.7,161.9L409.1,163.4L408.6,163.9L406.9,164.0L405.5,162.1L403.7,162.8L402.8,164.5L403.1,166.3L404.8,165.5L408.7,165.7L410.7,165.9L414.0,167.2L416.8,166.1L415.3,163.0L414.6,162.6L413.0,162.6L410.5,161.4Z" fill="#addd8e" stroke="#addd8e" stroke-width="1"/>
<path d="M403.1,166.3L403.4,167.4L403.8,168.3L406.5,168.8L407.1,170.5L408.7,171.5L412.5,170.9L412.8,169.1L414.6,168.2L414.0,167.2L410.7,165.9L408.7,165.7L404.8,165.5Z" fill="#addd8e" stroke="#addd8e" stroke-width="1"/>
<path d="M400.9,170.3L401.5,169.0L403.8,168.3L406.5,168.8L407.1,170.5Z" fill="#d9f0a3" stroke="#d9f0a3" stroke-width="1"/>
<path d="M390.4,171.7L393.9,170.8L397.6,169.4L398.9,170.3L400.9,170.3L407.1,170.5L408.7,171.5L409.9,174.4L408.7,175.8L409.8,177.4L411.0,179.5L409.1,182.0L408.4,183.8L405.2,183.0L403.4,183.5L402.1,182.5L400.8,182.7L398.9,181.5L396.6,180.5L395.2,180.0L392.6,179.0L392.3,179.3L392.5,178.5L391.8,176.2L390.5,174.3L390.9,173.4Z" fill="#addd8e" stroke="#addd8e" stroke-width="1"/>
<path d="M392.3,179.3L391.2,178.8L388.7,180.3L386.9,180.7L387.8,181.7L388.9,183.3L390.7,184.6L392.5,185.1L393.1,184.0L395.4,184.7L397.1,185.1L399.0,184.2L400.8,182.7L398.9,181.5L396.6,180.5L395.2,180.0L392.6,179.0Z" fill="#addd8e" stroke="#addd8e" stroke-width="1"/>
<path d="M397.1,185.1L397.7,186.6L399.2,187.3L401.1,187.1L403.3,186.2L406.2,185.2L407.8,185.6L408.4,183.8L405.2,183.0L403.4,183.5L402.1,182.5L400.8,182.7L399.0,184.2Z" fill="#addd8e" stroke="#addd8e" stroke-width="1"/>
<path d="M397.7,186.6L396.5,188.2L395.8,189.5L396.8,190.5L398.5,191.9L401.7,192.0L404.5,191.4L406.6,190.2L407.8,187.9L409.5,186.7L407.8,185.6L406.2,185.2L403.3,186.2L401.1,187.1L399.2,187.3Z" fill="#addd8e" stroke="#addd8e" stroke-width="1"/>
<path d="M391.2,192.8L390.8,191.8L390.9,190.4L393.5,190.2L395.8,189.5L396.8,190.5L395.0,191.2L394.4,193.2L392.9,193.0L390.9,193.1Z" fill="#78c679" stroke="#78c679" stroke-width="1"/>
<path d="M390.9,193.1L390.9,194.1L391.6,194.8L392.3,193.6L393.7,194.3L394.4,196.4L397.1,198.2L399.7,199.8L401.6,201.0L401.6,200.7L399.8,199.5L398.9,198.4L397.7,197.4L396.5,196.4L395.5,194.8L395.5,193.8L397.8,193.7L399.8,194.2L402.3,194.7L403.0,193.8L402.1,193.0L401.7,192.0L398.5,191.9L396.8,190.5L395.0,191.2L394.4,193.2L392.9,193.0Z" fill="#addd8e" stroke="#addd8e" stroke-width="1"/>
<path d="M401.6,200.7L399.8,199.5L398.9,198.4L397.7,197.4L396.5,196.4L395.5,194.8L395.5,193.8L397.8,193.7L399.8,194.2L402.3,194.7L403.1,196.1L403.7,197.1L403.0,198.2L402.0,199.0Z" fill="#41ab5d" stroke="#41ab5d" stroke-width="1"/>
<path d="M401.6,201.0L403.7,202.5L404.1,200.8L405.0,200.7L405.6,199.9L403.9,199.0L403.0,198.2L402.0,199.0L401.6,200.7Z" fill="#78c679" stroke="#78c679" stroke-width="1"/>
<path d="M401.7,192.0L404.5,191.4L406.3,193.6L407.3,194.8L409.5,195.1L410.1,196.4L409.5,197.4L411.1,199.0L409.9,201.3L408.3,201.5L408.6,200.3L406.4,198.9L405.6,199.9L403.9,199.0L403.0,198.2L403.7,197.1L403.1,196.1L402.3,194.7L403.0,193.8L402.1,193.0Z" fill="#d9f0a3" stroke="#d9f0a3" stroke-width="1"/>
<path d="M403.7,202.5L403.9,204.0L403.9,206.3L405.6,208.1L406.8,207.1L407.4,205.1L406.3,204.0L406.3,202.5L405.0,200.7L404.1,200.8Z" fill="#f7fcb9" stroke="#f7fcb9" stroke-width="1"/>
<path d="M406.3,202.5L408.3,201.5L409.9,201.3L411.5,202.8L411.5,203.8L409.5,204.3L407.4,205.1L406.3,204.0Z" fill="#f7fcb9" stroke="#f7fcb9" stroke-width="1"/>
<path d="M405.6,208.1L407.2,210.2L408.2,211.7L408.8,213.4L409.8,215.6L411.7,216.8L413.2,216.7L412.1,213.9L412.9,212.7L414.7,213.5L414.5,211.5L412.2,210.2L411.9,208.9L411.1,207.3L411.4,206.0L412.7,206.7L413.5,207.5L414.9,206.9L413.9,205.5L414.7,204.9L418.2,205.3L418.3,205.4L418.6,202.9L416.5,204.1L414.3,203.3L411.5,203.8L409.5,204.3L407.4,205.1L406.8,207.1ZM414.1,219.7L415.6,219.0L419.2,219.7L420.3,219.9L417.1,220.6ZM412.8,210.2L415.0,212.1L415.9,212.6L413.5,210.5ZM423.3,217.0L424.1,216.8L424.1,218.1ZM418.6,209.4L419.7,209.4L419.1,210.1Z" fill="#addd8e" stroke="#addd8e" stroke-width="1"/>
<path d="M422.0,202.1L421.2,200.3L421.4,199.0L422.7,197.6L419.2,196.5L416.0,197.8L410.9,197.4L410.1,196.4L409.5,197.4L411.1,199.0L409.9,201.3L411.5,202.8L411.5,203.8L414.3,203.3L416.5,204.1L418.6,202.9L419.9,201.9Z" fill="#d9f0a3" stroke="#d9f0a3" stroke-width="1"/>
<path d="M422.7,197.6L422.6,196.1L424.4,193.8L421.3,193.2L420.7,190.2L418.6,187.6L417.0,186.0L413.9,187.3L410.1,186.6L409.5,186.7L407.8,187.9L406.6,190.2L404.5,191.4L406.3,193.6L407.3,194.8L409.5,195.1L410.1,196.4L410.9,197.4L416.0,197.8L419.2,196.5Z" fill="#addd8e" stroke="#addd8e" stroke-width="1"/>
<path d="M421.3,193.2L422.8,191.8L424.9,190.7L422.6,188.0L422.2,186.7L419.4,185.5L417.0,186.0L418.6,187.6L420.7,190.2Z" fill="#78c679" stroke="#78c679" stroke-width="1"/>
<path d="M424.4,193.8L426.1,190.5L428.3,190.2L432.1,191.5L430.3,193.4L432.7,195.4L434.2,195.8L436.5,194.3L438.7,194.1L435.8,192.8L435.2,191.5L438.0,190.0L441.3,188.9L441.3,187.6L444.2,187.0L443.7,182.5L439.5,181.6L435.2,180.5L433.7,178.5L431.3,178.2L430.5,175.7L428.5,175.6L425.9,176.2L423.8,178.2L420.5,177.4L416.4,176.9L412.4,176.7L409.8,177.4L411.0,179.5L409.1,182.0L408.4,183.8L407.8,185.6L409.5,186.7L410.1,186.6L413.9,187.3L417.0,186.0L419.4,185.5L422.2,186.7L422.6,188.0L424.9,190.7L422.8,191.8L421.3,193.2Z" fill="#d9f0a3" stroke="#d9f0a3" stroke-width="1"/>
<path d="M425.9,176.2L424.7,173.4L427.0,172.8L423.1,169.9L422.2,167.4L416.8,166.1L414.0,167.2L414.6,168.2L412.8,169.1L412.5,170.9L408.7,171.5L409.9,174.4L408.7,175.8L409.8,177.4L412.4,176.7L416.4,176.9L420.5,177.4L423.8,178.2Z" fill="#d9f0a3" stroke="#d9f0a3" stroke-width="1"/>
<path d="M418.3,205.4L418.8,207.2L421.3,205.0L424.3,204.7L424.6,204.1L422.0,202.1L419.9,201.9L418.6,202.9Z" fill="#78c679" stroke="#78c679" stroke-width="1"/>
<path d="M357.7,220.2L355.9,219.7L352.6,219.9L350.7,218.1L349.6,218.4L347.5,223.1L345.7,224.1L343.5,225.2L341.9,227.0L340.7,229.7L341.0,232.6L339.8,235.2L337.6,236.8L333.4,239.0L332.7,239.8L343.0,239.8L343.0,237.0L346.6,234.7L350.2,233.9L354.5,231.8L354.5,229.4L359.6,228.1L359.8,227.0L358.7,224.4L358.5,222.0Z" fill="#addd8e" stroke="#addd8e" stroke-width="1"/>
<path d="M323.5,257.8L325.3,261.3L325.7,265.2L324.5,270.3L327.9,268.8L330.7,270.2L332.7,272.1L334.2,273.8L336.0,271.5L337.8,272.1L340.8,271.8L349.8,271.8L347.7,246.8L351.5,246.8L342.9,240.7L342.9,244.2L335.3,244.2L335.2,250.9L332.9,252.0L332.8,256.4L323.8,256.4Z" fill="#addd8e" stroke="#addd8e" stroke-width="1"/>
<path d="M334.2,273.8L336.0,271.5L337.8,272.1L340.8,271.8L349.8,271.8L347.7,246.8L351.5,246.8L365.1,257.1L365.2,258.1L369.8,260.5L370.1,262.6L372.3,262.2L372.3,268.1L370.6,272.1L365.5,272.3L363.0,273.2L360.9,273.0L357.9,275.2L355.6,276.8L352.5,278.1L352.3,280.2L350.2,281.5L349.7,285.1L348.1,284.7L346.5,285.5L343.9,285.7L343.0,282.9L341.0,280.2L338.6,280.5L336.1,280.0L336.1,278.5L334.5,274.8Z" fill="#ffffe5" stroke="#ffffe5" stroke-width="1"/>
<path d="M324.5,270.3L322.1,273.9L323.6,276.3L323.7,278.2L323.8,280.1L327.8,279.3L330.8,279.3L334.0,280.2L336.1,280.0L336.1,278.5L334.5,274.8L334.2,273.8L332.7,272.1L330.7,270.2L327.9,268.8Z" fill="#ffffe5" stroke="#ffffe5" stroke-width="1"/>
<path d="M323.6,276.8L327.8,276.3L330.6,277.1L330.6,277.8L327.8,277.6L323.6,278.1Z" fill="#addd8e" stroke="#addd8e" stroke-width="1"/>
<path d="M323.8,280.1L325.4,281.5L327.7,283.8L330.0,281.9L330.8,279.3L327.8,279.3Z" fill="#ffffe5" stroke="#ffffe5" stroke-width="1"/>
<path d="M327.7,283.8L328.8,285.5L330.7,287.6L331.6,288.8L333.5,286.7L336.5,286.3L337.9,288.6L338.6,290.2L340.4,290.5L340.9,292.3L342.7,292.6L343.4,290.2L344.6,287.9L343.9,285.7L343.0,282.9L341.0,280.2L338.6,280.5L336.1,280.0L334.0,280.2L330.8,279.3L330.0,281.9Z" fill="#ffffe5" stroke="#ffffe5" stroke-width="1"/>
<path d="M331.6,288.8L331.8,290.2L333.4,293.1L335.7,294.4L337.8,292.1L338.6,290.2L337.9,288.6L336.5,286.3L333.5,286.7Z" fill="#f7fcb9" stroke="#f7fcb9" stroke-width="1"/>
<path d="M335.7,294.4L337.4,296.0L341.5,299.4L345.0,301.1L344.8,297.1L342.9,295.5L342.7,292.6L340.9,292.3L340.4,290.5L338.6,290.2L337.8,292.1Z" fill="#addd8e" stroke="#addd8e" stroke-width="1"/>
<path d="M345.0,301.1L348.5,300.0L353.2,298.8L355.3,299.2L355.1,294.7L356.7,291.0L356.0,287.6L353.7,286.5L351.6,287.1L349.7,285.1L348.1,284.7L346.5,285.5L343.9,285.7L344.6,287.9L343.4,290.2L342.7,292.6L342.9,295.5L344.8,297.1Z" fill="#ffffe5" stroke="#ffffe5" stroke-width="1"/>
<path d="M355.3,299.2L357.8,300.1L362.0,298.1L365.3,296.5L363.9,294.2L363.7,290.2L363.4,286.3L362.3,283.4L356.0,283.6L356.0,287.6L356.7,291.0L355.1,294.7Z" fill="#addd8e" stroke="#addd8e" stroke-width="1"/>
<path d="M349.7,285.1L350.2,281.5L352.3,280.2L352.5,278.1L355.6,276.8L357.9,275.2L360.9,273.0L363.0,273.2L364.7,276.8L364.8,278.4L367.4,279.2L368.1,281.3L364.6,283.6L362.3,283.4L356.0,283.6L356.0,287.6L353.7,286.5L351.6,287.1Z" fill="#f7fcb9" stroke="#f7fcb9" stroke-width="1"/>
<path d="M365.3,296.5L366.3,296.2L366.2,288.9L364.4,285.2L364.6,283.6L362.3,283.4L363.4,286.3L363.7,290.2L363.9,294.2Z" fill="#d9f0a3" stroke="#d9f0a3" stroke-width="1"/>
<path d="M366.3,296.2L368.8,295.9L368.9,288.9L370.9,285.7L370.8,281.8L369.0,280.0L368.1,281.3L364.6,283.6L364.4,285.2L366.2,288.9Z" fill="#addd8e" stroke="#addd8e" stroke-width="1"/>
<path d="M368.8,295.9L370.4,295.8L373.0,296.0L374.1,297.9L375.3,300.0L376.7,301.3L379.3,300.9L382.3,300.5L383.2,297.3L385.3,295.2L387.2,294.2L388.8,295.2L390.0,294.2L390.9,291.0L392.3,290.0L394.5,283.6L395.4,280.0L395.1,278.2L394.0,276.5L391.4,278.1L385.6,277.6L383.3,278.8L380.5,277.6L378.5,278.4L375.2,276.0L372.0,277.1L370.8,281.8L370.9,285.7L368.9,288.9Z" fill="#addd8e" stroke="#addd8e" stroke-width="1"/>
<path d="M363.0,273.2L365.5,272.3L370.6,272.1L372.3,268.1L372.3,262.2L375.8,261.4L379.7,257.6L389.7,250.7L394.9,253.1L396.7,252.0L398.2,258.6L398.2,268.1L394.0,276.5L391.4,278.1L385.6,277.6L383.3,278.8L380.5,277.6L378.5,278.4L375.2,276.0L372.0,277.1L370.8,281.8L369.0,280.0L368.1,281.3L367.4,279.2L364.8,278.4L364.7,276.8Z" fill="#ffffe5" stroke="#ffffe5" stroke-width="1"/>
<path d="M394.0,276.5L398.2,268.1L398.2,258.6L396.7,252.0L417.5,261.3L417.9,271.3L415.3,271.8L414.0,275.0L413.4,278.4L415.6,282.6L415.6,283.8L412.9,284.7L409.0,288.6L406.7,289.2L404.4,291.8L398.6,292.9L397.4,289.7L395.0,287.3L398.3,286.3L397.3,282.3L397.4,280.7L396.3,279.2L395.1,278.2Z" fill="#ffffe5" stroke="#ffffe5" stroke-width="1"/>
<path d="M382.3,300.5L385.1,302.1L385.3,306.5L385.3,306.8L389.0,306.8L393.5,306.8L396.3,307.1L400.3,308.1L400.3,306.8L400.0,304.7L397.5,302.3L396.5,299.4L396.7,296.8L398.6,292.9L397.4,289.7L395.0,287.3L398.3,286.3L397.3,282.3L397.4,280.7L396.3,279.2L395.1,278.2L395.4,280.0L394.5,283.6L392.3,290.0L390.9,291.0L390.0,294.2L388.8,295.2L387.2,294.2L385.3,295.2L383.2,297.3Z" fill="#addd8e" stroke="#addd8e" stroke-width="1"/>
<path d="M385.3,306.8L384.9,310.0L389.0,310.0L389.0,306.8Z" fill="#d9f0a3" stroke="#d9f0a3" stroke-width="1"/>
<path d="M384.9,310.0L384.4,311.5L383.0,314.4L384.9,318.9L388.4,322.9L390.2,321.8L389.5,320.0L391.6,318.7L392.8,318.9L396.1,317.6L396.3,314.2L394.9,312.6L395.9,309.4L393.5,309.2L393.5,306.8L389.0,306.8L389.0,310.0Z" fill="#addd8e" stroke="#addd8e" stroke-width="1"/>
<path d="M388.4,322.9L390.0,324.7L390.5,325.8L391.9,324.2L393.0,324.7L396.0,325.5L398.2,323.9L400.3,318.4L401.2,315.8L403.8,313.9L404.3,311.3L404.7,307.3L405.9,303.4L403.3,303.1L401.2,303.4L400.3,306.8L400.3,308.1L396.3,307.1L393.5,306.8L393.5,309.2L395.9,309.4L394.9,312.6L396.3,314.2L396.1,317.6L392.8,318.9L391.6,318.7L389.5,320.0L390.2,321.8Z" fill="#78c679" stroke="#78c679" stroke-width="1"/>
<path d="M390.5,325.8L391.9,324.2L393.0,324.7L392.6,325.8L391.6,326.0L390.9,327.7Z" fill="#ffffe5" stroke="#ffffe5" stroke-width="1"/>
<path d="M390.9,327.7L391.6,326.0L392.6,325.8L393.0,324.7L396.0,325.5L398.2,323.9L400.3,318.4L401.2,315.8L403.8,313.9L404.3,311.3L404.7,307.3L405.9,303.4L405.8,301.3L407.7,299.2L410.3,300.8L414.7,301.8L415.9,300.2L418.4,299.7L421.9,298.9L426.3,299.3L427.7,301.0L431.2,301.0L434.5,303.4L434.2,306.3L435.5,306.9L432.9,309.4L432.2,311.3L431.5,313.9L431.5,316.3L430.6,317.1L430.1,319.7L430.7,321.3L431.0,324.3L431.2,328.4L434.0,334.2L429.7,335.0L428.5,337.1L428.3,343.7L429.7,345.2L431.5,344.6L431.4,348.0L429.6,347.9L428.3,345.8L425.6,343.1L422.8,343.9L421.4,342.3L418.2,341.3L414.2,342.1L413.4,337.6L413.2,331.8L410.2,331.0L407.6,331.0L407.6,333.7L403.4,333.9L401.8,331.6L401.2,328.1L392.8,328.1L391.1,328.5Z" fill="#ffffe5" stroke="#ffffe5" stroke-width="1"/>
<path d="M400.3,306.8L400.0,304.7L397.5,302.3L396.5,299.4L396.7,296.8L398.6,292.9L404.4,291.8L406.7,289.2L409.0,288.6L412.9,284.7L415.6,283.8L417.3,286.5L417.3,289.4L418.8,290.2L420.9,292.1L424.0,296.0L426.3,299.3L421.9,298.9L418.4,299.7L415.9,300.2L414.7,301.8L410.3,300.8L407.7,299.2L405.8,301.3L405.9,303.4L403.3,303.1L401.2,303.4Z" fill="#ffffe5" stroke="#ffffe5" stroke-width="1"/>
<path d="M446.7,254.7L447.6,257.3L447.8,261.0L448.6,263.4L451.2,265.2L448.6,267.8L447.6,269.7L446.8,272.8L446.8,275.0L446.1,279.2L443.9,281.5L443.5,283.9L442.1,284.7L441.7,287.7L439.5,284.2L439.4,280.5L437.6,281.8L434.5,286.9L431.0,286.0L427.5,287.9L424.1,287.6L420.1,286.8L417.3,289.4L417.3,286.5L415.6,283.8L415.6,282.6L413.4,278.4L414.0,275.0L415.3,271.8L417.9,271.3L417.5,261.3L417.5,259.9L419.8,259.9L419.6,254.7Z" fill="#ffffe5" stroke="#ffffe5" stroke-width="1"/>
<path d="M418.5,229.3L423.3,230.1L427.3,231.4L429.4,230.2L431.5,229.5L434.5,230.2L438.7,230.2L440.8,234.9L440.0,238.9L439.6,239.5L437.1,237.3L435.5,233.8L435.0,234.7L437.0,238.0L438.8,240.9L439.2,242.2L440.1,243.9L441.7,246.6L443.3,249.7L446.7,254.7L419.6,254.7L418.6,235.7L417.8,233.6L418.5,229.3Z" fill="#78c679" stroke="#78c679" stroke-width="1"/>
<path d="M388.1,225.3L391.8,226.0L396.2,227.3L397.5,229.9L401.6,231.3L405.0,232.8L407.3,231.3L407.0,228.1L410.6,226.0L414.0,226.8L415.8,228.1L418.5,229.3L417.8,233.6L418.6,235.7L419.6,254.7L419.8,259.9L417.5,259.9L417.5,261.3L396.7,252.0L394.9,253.1L389.7,250.7L385.2,248.1L383.8,243.9L384.9,242.8L384.8,238.1L383.9,233.0L385.5,231.3L385.4,228.9L388.0,227.0Z" fill="#d9f0a3" stroke="#d9f0a3" stroke-width="1"/>
<path d="M388.1,225.3L384.8,223.4L386.2,221.1L386.3,218.4L385.4,216.8L386.7,215.1L385.0,215.6L383.9,214.3L381.2,215.3L380.5,217.8L380.8,220.5L379.0,222.8L379.1,223.6L380.4,225.5L382.6,228.1L383.9,233.0L385.5,231.3L385.4,228.9L388.0,227.0Z" fill="#d9f0a3" stroke="#d9f0a3" stroke-width="1"/>
<path d="M357.7,220.2L361.2,218.5L364.7,216.7L369.2,215.7L373.6,215.7L377.5,215.5L379.4,215.5L381.2,215.3L380.5,217.8L380.8,220.5L379.0,222.8L379.1,223.6L380.4,225.5L382.6,228.1L383.9,233.0L384.8,238.1L384.9,242.8L383.8,243.9L385.2,248.1L389.7,250.7L379.7,257.6L375.8,261.4L372.3,262.2L370.1,262.6L369.8,260.5L365.2,258.1L365.1,257.1L351.5,246.8L342.9,240.7L343.0,239.8L343.0,237.0L346.6,234.7L350.2,233.9L354.5,231.8L354.5,229.4L359.6,228.1L359.8,227.0L358.7,224.4L358.5,222.0Z" fill="#d9f0a3" stroke="#d9f0a3" stroke-width="1"/>
<path d="M451.2,265.2L453.6,271.5L456.8,273.9L460.6,277.8L462.3,279.2L460.7,279.8L457.3,276.3L454.9,274.4L452.6,274.2L450.0,273.4L446.8,275.0L446.8,272.8L447.6,269.7L448.6,267.8Z" fill="#ffffe5" stroke="#ffffe5" stroke-width="1"/>
<path d="M462.3,279.2L462.8,281.1L461.3,282.2L462.8,282.4L462.1,283.7L459.5,283.6L459.3,282.3L460.7,279.8Z" fill="#005a32" stroke="#005a32" stroke-width="1"/>
<path d="M462.8,282.4L464.6,285.1L467.0,285.2L471.5,283.4L476.1,282.9L481.4,281.5L481.1,285.2L478.8,291.5L475.5,298.1L469.7,306.3L468.2,307.3L464.0,311.3L461.8,313.4L459.4,316.9L458.1,314.8L458.1,305.2L460.1,302.2L462.7,300.5L467.3,299.4L474.1,291.5L471.8,291.5L464.7,288.9L462.4,287.3L462.1,283.7Z" fill="#d9f0a3" stroke="#d9f0a3" stroke-width="1"/>
<path d="M446.8,275.0L450.0,273.4L452.6,274.2L454.9,274.4L457.3,276.3L460.7,279.8L459.3,282.3L459.5,283.6L462.1,283.7L462.4,287.3L464.7,288.9L471.8,291.5L474.1,291.5L467.3,299.4L462.7,300.5L460.1,302.2L457.6,301.5L454.8,303.4L451.3,303.1L448.5,301.0L446.1,300.5L444.0,296.8L441.6,293.4L439.2,291.8L441.8,290.0L441.7,287.7L442.1,284.7L443.5,283.9L443.9,281.5L446.1,279.2Z" fill="#f7fcb9" stroke="#f7fcb9" stroke-width="1"/>
<path d="M459.4,316.9L456.2,319.7L455.0,323.3L453.8,324.9L450.4,321.8L450.1,320.5L441.6,315.2L441.8,312.1L443.0,309.7L444.1,307.6L442.7,303.4L441.7,301.5L446.1,300.5L448.5,301.0L451.3,303.1L454.8,303.4L457.6,301.5L460.1,302.2L458.1,305.2L458.1,314.8Z" fill="#d9f0a3" stroke="#d9f0a3" stroke-width="1"/>
<path d="M441.7,301.5L442.7,303.4L444.1,307.6L443.0,309.7L441.8,312.1L441.6,315.2L433.6,315.2L431.5,316.3L431.5,313.9L432.2,311.3L432.9,309.4L435.5,306.9L434.2,306.3L434.5,303.4L437.1,303.1L439.4,302.6Z" fill="#addd8e" stroke="#addd8e" stroke-width="1"/>
<path d="M431.5,316.3L433.6,315.2L434.4,318.7L433.6,318.9L432.2,318.8L430.1,319.7L430.6,317.1Z" fill="#78c679" stroke="#78c679" stroke-width="1"/>
<path d="M430.1,319.7L432.2,318.8L433.6,318.9L434.4,321.3L432.4,323.9L431.0,324.3L430.7,321.3Z" fill="#ffffe5" stroke="#ffffe5" stroke-width="1"/>
<path d="M453.8,324.9L452.8,328.4L454.0,330.5L454.3,333.7L454.9,338.9L456.4,340.2L451.8,342.6L449.4,343.4L445.5,342.6L443.5,343.0L442.8,341.6L441.5,337.6L439.0,337.3L434.6,335.2L434.0,334.2L431.2,328.4L431.0,324.3L432.4,323.9L434.4,321.3L433.6,318.9L434.4,318.7L433.6,315.2L441.6,315.2L450.1,320.5L450.4,321.8Z" fill="#ffffe5" stroke="#ffffe5" stroke-width="1"/>
<path d="M443.5,343.0L442.4,345.5L442.5,348.1L445.4,351.8L445.1,354.7L443.8,357.6L441.8,355.5L442.2,352.1L439.3,349.5L438.1,348.4L438.9,345.5L440.2,341.6L439.1,338.9L439.0,337.3L441.5,337.6L442.8,341.6Z" fill="#f7fcb9" stroke="#f7fcb9" stroke-width="1"/>
<path d="M391.1,328.5L393.2,335.8L394.5,341.6L393.5,345.2L391.4,348.1L390.2,352.6L389.5,358.0L393.6,357.4L394.7,358.4L405.1,358.4L410.8,359.7L416.3,358.9L413.2,355.2L413.4,346.8L418.1,346.8L418.2,341.3L414.2,342.1L413.4,337.6L413.2,331.8L410.2,331.0L407.6,331.0L407.6,333.7L403.4,333.9L401.8,331.6L401.2,328.1L392.8,328.1Z" fill="#ffffe5" stroke="#ffffe5" stroke-width="1"/>
<path d="M418.2,341.3L421.4,342.3L422.8,343.9L425.6,343.1L428.3,345.8L429.6,347.9L431.4,348.0L431.5,344.6L429.7,345.2L428.3,343.7L428.5,337.1L429.7,335.0L434.0,334.2L434.6,335.2L439.0,337.3L439.1,338.9L440.2,341.6L438.9,345.5L438.1,348.4L439.3,349.5L432.3,352.1L432.6,353.8L429.1,354.7L424.6,359.9L420.6,359.5L417.7,358.7L416.3,358.9L413.2,355.2L413.4,346.8L418.1,346.8Z" fill="#addd8e" stroke="#addd8e" stroke-width="1"/>
<path d="M389.5,358.0L391.2,362.1L393.2,367.4L395.5,372.9L395.4,377.1L396.9,382.6L399.5,387.9L401.6,388.2L402.9,388.7L405.2,388.8L407.5,387.4L407.9,377.8L408.2,370.5L410.4,370.5L410.8,360.8L416.1,360.0L418.4,360.0L420.6,359.5L417.7,358.7L416.3,358.9L410.8,359.7L405.1,358.4L394.7,358.4L393.6,357.4Z" fill="#addd8e" stroke="#addd8e" stroke-width="1"/>
<path d="M407.9,377.8L408.2,370.5L410.4,370.5L410.8,360.8L416.1,360.0L418.4,360.0L420.6,359.5L422.2,362.6L425.0,366.6L426.5,369.5L429.5,371.0L426.3,372.9L423.7,376.3L421.1,378.4L419.1,380.4L414.7,379.2L411.3,383.3L409.3,383.3Z" fill="#78c679" stroke="#78c679" stroke-width="1"/>
<path d="M420.6,359.5L424.6,359.9L429.1,354.7L432.6,353.8L438.3,356.0L438.4,358.7L437.8,362.6L437.9,365.3L436.6,368.7L433.9,371.6L429.5,371.0L426.5,369.5L425.0,366.6L422.2,362.6Z" fill="#d9f0a3" stroke="#d9f0a3" stroke-width="1"/>
<path d="M456.4,340.2L456.5,345.5L456.8,350.8L456.0,353.4L453.5,356.0L449.9,358.1L447.3,359.7L443.5,363.9L442.4,364.9L442.6,367.9L443.5,370.5L443.3,375.3L438.5,378.9L436.3,380.9L436.8,383.3L435.0,383.3L434.8,380.9L435.2,377.1L434.2,374.5L433.9,371.6L436.6,368.7L437.9,365.3L437.8,362.6L438.4,358.7L438.3,356.0L432.6,353.8L432.3,352.1L439.3,349.5L442.2,352.1L441.8,355.5L443.8,357.6L445.1,354.7L445.4,351.8L442.5,348.1L442.4,345.5L443.5,343.0L445.5,342.6L449.4,343.4L451.8,342.6Z" fill="#d9f0a3" stroke="#d9f0a3" stroke-width="1"/>
<path d="M399.5,387.9L401.6,388.2L402.9,388.7L405.2,388.8L407.5,387.4L407.9,377.8L409.3,383.3L411.3,383.3L414.7,379.2L419.1,380.4L421.1,378.4L423.7,376.3L426.3,372.9L429.5,371.0L433.9,371.6L434.2,374.5L435.2,377.1L434.8,380.9L435.0,383.3L436.8,383.3L434.4,388.4L431.9,391.3L429.4,394.7L424.3,399.5L419.2,402.1L417.2,402.6L411.0,402.4L406.5,404.2L405.0,403.7L403.3,403.0L403.1,402.1L402.2,399.5L402.5,397.6L401.0,392.9L399.5,387.9Z" fill="#78c679" stroke="#78c679" stroke-width="1"/>
<path d="M434.8,380.9L435.0,383.3L432.5,384.2L432.1,382.4L433.2,380.5Z" fill="#41ab5d" stroke="#41ab5d" stroke-width="1"/>
<path d="M423.0,390.5L425.4,388.2L427.4,388.4L428.4,390.3L426.2,392.9L424.0,392.6Z" fill="#addd8e" stroke="#addd8e" stroke-width="1"/>
<path d="M476.7,344.2L479.0,353.4L477.2,357.4L476.1,360.0L473.4,367.9L469.2,378.4L465.6,379.9L462.4,378.4L461.3,371.3L464.2,365.3L463.6,361.3L464.9,355.2L469.3,353.9L473.2,350.8L473.5,348.1L475.8,345.2Z" fill="#ffffe5" stroke="#ffffe5" stroke-width="1"/>
<path d="M424.7,204.2L429.5,204.0L433.3,202.1L436.9,202.0L440.0,204.0L443.8,204.7L448.0,204.7L451.1,203.4L453.8,203.4L455.4,204.5L456.4,207.1L459.0,208.1L458.2,208.9L457.5,210.0L458.4,211.5L460.1,214.7L456.1,214.3L454.8,214.9L449.8,215.7L445.4,215.7L442.5,215.7L442.5,217.3L442.2,218.0L441.2,218.0L441.5,216.3L440.0,216.3L438.0,215.7L436.2,217.4L434.3,217.7L432.4,216.5L429.5,215.6L429.0,217.2L426.0,216.3L424.0,215.7L422.2,215.2L421.5,212.8L419.5,211.8L420.7,211.3L420.1,209.2L418.6,208.6L418.8,207.3L421.1,206.3L424.7,206.3L426.5,205.4L424.7,204.7Z" fill="#78c679" stroke="#78c679" stroke-width="1"/>
<path d="M433.5,220.3L435.0,219.5L438.3,218.8L437.0,220.2L437.4,220.5L435.2,221.5L433.8,221.1Z" fill="#41ab5d" stroke="#41ab5d" stroke-width="1"/>
<path d="M451.1,203.4L451.0,201.7L449.2,199.5L446.9,198.5L451.2,199.0L454.6,199.9L456.8,200.3L459.4,200.8L461.3,202.4L461.2,204.2L458.6,204.0L455.4,204.5L453.8,203.4Z" fill="#41ab5d" stroke="#41ab5d" stroke-width="1"/>
<path d="M455.4,204.5L458.6,204.0L460.1,205.3L461.1,206.8L462.7,208.6L463.0,210.3L461.9,210.3L460.6,208.6L459.0,208.1L456.4,207.1Z" fill="#78c679" stroke="#78c679" stroke-width="1"/>
<path d="M461.3,202.4L462.7,203.3L464.6,204.2L465.9,202.5L467.5,204.7L470.5,206.4L468.8,206.8L468.8,209.2L468.4,211.4L466.3,210.5L466.6,208.9L465.4,208.1L463.0,210.3L462.7,208.6L461.1,206.8L460.1,205.3L458.6,204.0L461.2,204.2ZM459.0,208.1L460.6,208.6L461.9,210.3L460.6,210.0Z" fill="#d9f0a3" stroke="#d9f0a3" stroke-width="1"/>
<path d="M441.2,218.0L441.6,221.4L442.7,221.8L442.1,224.1L441.7,224.9L441.8,226.4L444.2,227.6L448.3,224.7L452.9,222.0L452.9,218.9L452.9,216.5L454.8,214.9L449.8,215.7L445.4,215.7L442.5,215.7L442.5,217.3L442.2,218.0Z" fill="#f7fcb9" stroke="#f7fcb9" stroke-width="1"/>
<path d="M441.6,221.4L440.9,223.4L440.2,225.5L441.7,224.9L442.1,224.1L442.7,221.8Z" fill="#238443" stroke="#238443" stroke-width="1"/>
<path d="M440.2,225.5L439.8,228.2L438.7,230.2L440.8,234.9L440.9,234.9L441.5,231.0L441.6,229.7L441.4,227.3L441.8,226.4L441.7,224.9Z" fill="#238443" stroke="#238443" stroke-width="1"/>
<path d="M441.8,226.4L444.2,227.6L448.3,224.7L449.6,228.0L444.9,229.7L447.5,232.3L446.5,233.6L443.3,235.7L440.9,235.3L441.5,231.0L441.6,229.7L441.4,227.3Z" fill="#78c679" stroke="#78c679" stroke-width="1"/>
<path d="M448.3,224.7L452.9,222.0L452.9,218.9L452.9,216.5L454.8,214.9L456.1,214.3L460.1,214.7L461.9,217.8L464.1,220.2L462.7,223.1L464.4,225.7L469.0,228.9L468.9,231.0L471.3,233.8L470.0,233.8L468.7,233.6L467.0,236.0L462.8,235.7L456.2,230.7L452.4,228.6L449.6,228.0Z" fill="#ffffe5" stroke="#ffffe5" stroke-width="1"/>
<path d="M440.9,235.3L443.3,235.7L446.5,233.6L447.5,232.3L444.9,229.7L449.6,228.0L452.4,228.6L456.2,230.7L462.8,235.7L467.0,236.0L469.1,236.3L469.8,237.6L471.3,237.4L474.2,240.7L476.0,242.6L476.0,244.4L477.9,247.4L479.0,248.0L479.8,248.8L482.4,252.2L488.2,252.8L489.5,254.7L488.5,259.9L481.8,262.6L475.3,263.6L473.3,264.7L470.7,267.8L464.7,266.8L462.3,266.5L461.1,269.4L459.1,265.7L457.1,263.1L454.1,259.2L451.8,256.0L450.2,252.0L449.0,249.2L447.0,247.6L445.0,243.5L441.8,238.9L440.4,238.6Z" fill="#d9f0a3" stroke="#d9f0a3" stroke-width="1"/>
<path d="M479.0,248.0L477.9,247.4L477.7,245.5L478.4,243.8L479.4,244.4L479.6,246.8Z" fill="#005a32" stroke="#005a32" stroke-width="1"/>
<path d="M461.1,269.4L461.6,273.4L462.7,277.6L463.2,279.3L466.7,278.9L470.1,277.3L474.6,275.7L476.0,274.4L480.3,272.6L483.0,271.5L484.8,268.8L481.8,262.6L475.3,263.6L473.3,264.7L470.7,267.8L464.7,266.8L462.3,266.5Z" fill="#addd8e" stroke="#addd8e" stroke-width="1"/>
<path d="M484.8,268.8L487.1,267.8L489.7,266.3L492.1,265.2L495.2,262.6L494.6,259.2L496.4,258.9L498.9,253.4L495.9,250.5L491.4,248.4L490.5,246.9L489.4,248.9L488.2,252.8L489.5,254.7L488.5,259.9L481.8,262.6ZM489.5,244.2L490.1,243.2L490.4,245.2Z" fill="#78c679" stroke="#78c679" stroke-width="1"/>
<path d="M468.4,211.4L469.0,213.6L471.7,214.2L475.0,216.3L478.1,215.6L480.2,215.2L479.8,214.3L484.0,212.3L486.5,211.9L489.6,213.5L492.1,214.8L494.6,216.3L495.9,216.1L496.7,218.9L496.1,222.3L496.2,224.0L498.2,229.7L500.0,229.9L500.5,231.4L498.9,234.0L500.8,236.3L503.8,238.2L504.2,240.9L505.6,242.4L502.4,243.5L502.3,246.3L497.4,245.7L492.3,244.8L491.3,242.0L489.6,241.1L486.4,242.8L483.4,242.2L481.1,240.5L478.3,239.1L476.6,236.5L474.7,233.4L472.1,232.6L471.3,233.8L468.9,231.0L469.0,228.9L464.4,225.7L462.7,223.1L464.1,220.2L461.9,217.8L460.1,214.7L458.4,211.5L457.5,210.0L458.2,208.9L459.0,208.1L460.6,210.0L461.9,210.3L463.0,210.3L465.4,208.1L466.6,208.9L466.3,210.5Z" fill="#f7fcb9" stroke="#f7fcb9" stroke-width="1"/>
<path d="M479.8,214.3L479.0,210.2L476.8,208.9L476.3,207.3L475.3,204.2L477.7,203.7L474.3,202.8L477.1,201.2L480.9,204.0L482.0,204.0L484.3,204.0L483.8,202.4L486.4,200.4L489.9,201.6L490.7,203.7L494.8,204.5L496.7,207.3L501.2,210.1L507.3,214.3L505.3,214.4L503.7,214.9L503.5,217.0L500.7,218.2L499.4,219.8L496.7,218.9L495.9,216.1L494.6,216.3L492.1,214.8L489.6,213.5L486.5,211.9L484.0,212.3Z" fill="#addd8e" stroke="#addd8e" stroke-width="1"/>
<path d="M474.3,202.8L473.6,200.0L470.6,199.0L469.2,196.4L467.9,195.4L469.6,193.6L473.1,193.6L472.0,189.4L467.8,189.2L464.0,190.7L462.0,187.6L459.2,186.9L457.6,185.6L458.2,183.5L457.3,181.7L461.0,181.7L460.7,180.0L464.0,177.2L467.6,177.7L473.3,179.7L478.0,178.7L482.6,180.0L486.1,179.5L482.1,176.4L483.3,174.2L482.7,171.4L487.9,170.6L490.2,170.5L495.4,168.9L500.3,168.2L501.9,170.9L506.7,171.5L512.8,170.4L512.8,171.7L516.3,173.2L523.7,179.5L526.6,179.6L530.1,179.0L535.7,182.5L540.4,183.8L537.8,185.6L539.1,188.4L533.6,188.7L534.0,193.0L529.7,194.6L532.0,198.7L532.8,201.6L529.7,200.0L522.8,199.7L519.2,199.0L518.4,201.1L514.5,200.0L513.3,201.5L512.4,202.0L509.8,203.8L508.4,205.5L507.8,204.5L504.7,204.2L502.8,202.1L502.3,199.5L499.2,197.7L493.2,198.2L490.5,196.0L484.5,192.9L479.6,194.3L482.0,204.0L480.9,204.0L477.1,201.2Z" fill="#f7fcb9" stroke="#f7fcb9" stroke-width="1"/>
<path d="M513.3,201.5L514.5,200.0L518.4,201.1L519.2,199.0L522.8,199.7L529.7,200.0L532.8,201.6L529.8,203.7L526.9,204.7L522.9,206.0L521.3,207.9L521.3,208.8L517.4,209.2L513.3,208.4L513.9,206.8L514.9,206.7L517.0,206.6L518.9,205.1L516.8,204.6L515.2,203.6L512.4,203.4Z" fill="#f7fcb9" stroke="#f7fcb9" stroke-width="1"/>
<path d="M513.9,206.8L513.3,208.4L517.4,209.2L521.3,208.8L522.5,211.3L524.7,211.4L525.6,214.6L521.9,214.0L518.8,216.0L517.2,212.6L515.8,211.4L514.9,212.8L513.6,214.7L510.7,215.2L510.1,214.7L510.8,212.1L507.7,208.6L509.8,206.8L510.9,205.4Z" fill="#d9f0a3" stroke="#d9f0a3" stroke-width="1"/>
<path d="M502.3,246.3L508.8,246.3L513.3,245.6L514.6,247.3L516.0,249.7L517.7,250.2L518.9,248.6L523.9,248.4L522.5,244.9L521.0,242.8L519.4,241.5L521.3,238.9L524.3,236.8L526.0,233.9L527.8,232.6L528.9,230.7L528.4,228.4L530.0,227.6L526.3,225.2L525.4,221.2L531.4,220.5L533.2,219.1L528.9,217.8L528.2,216.3L525.0,215.1L520.7,215.7L518.9,216.7L518.9,220.7L519.4,223.0L517.0,223.1L517.3,225.5L516.6,228.6L513.9,229.3L511.7,230.3L511.1,233.9L506.1,235.1L502.7,235.2L498.9,234.0L500.8,236.3L503.8,238.2L504.2,240.9L505.6,242.4L502.4,243.5Z" fill="#d9f0a3" stroke="#d9f0a3" stroke-width="1"/>
<path d="M517.7,250.2L519.3,252.0L522.7,252.3L520.0,254.2L523.8,257.8L525.0,258.1L527.3,256.5L528.2,254.2L528.4,256.0L529.3,259.9L529.7,262.6L531.3,267.8L533.1,272.1L535.7,278.6L538.3,283.1L539.7,286.5L541.5,290.7L542.8,291.3L544.1,289.2L546.3,288.1L547.8,285.5L547.6,281.5L548.3,278.1L547.4,272.3L549.3,271.0L552.1,268.9L554.1,266.0L557.5,261.8L560.5,260.1L561.5,257.3L563.5,255.7L565.9,255.6L565.0,251.5L563.9,248.6L562.6,247.6L562.7,244.4L562.4,243.1L564.7,244.2L566.2,246.0L572.2,246.5L572.1,248.6L569.9,249.2L570.1,250.7L571.0,252.3L571.5,251.0L572.8,252.0L573.9,254.7L575.1,253.9L574.7,249.4L576.7,249.4L577.2,245.5L577.7,242.6L579.5,240.7L581.5,241.3L581.6,238.4L578.6,235.7L575.7,235.7L572.6,237.0L569.8,239.5L569.0,239.4L570.3,241.9L565.4,242.3L563.1,240.7L562.4,238.8L560.9,239.1L561.7,243.1L559.2,242.8L556.4,242.6L553.4,240.7L550.4,240.6L546.9,238.9L542.5,236.8L542.7,234.1L543.8,233.1L538.7,230.7L537.8,229.7L536.5,227.0L537.5,225.7L533.2,219.1L531.4,220.5L525.4,221.2L526.3,225.2L530.0,227.6L528.4,228.4L528.9,230.7L527.8,232.6L526.0,233.9L524.3,236.8L521.3,238.9L519.4,241.5L521.0,242.8L522.5,244.9L523.9,248.4L518.9,248.6Z" fill="#f7fcb9" stroke="#f7fcb9" stroke-width="1"/>
<path d="M560.9,239.1L561.7,243.1L559.2,242.8L556.4,242.6L553.4,240.7L550.4,240.6L546.9,238.9L542.5,236.8L542.7,234.1L543.8,233.1L546.6,233.5L550.8,235.5L554.4,238.1L556.2,238.9L558.9,239.3Z" fill="#d9f0a3" stroke="#d9f0a3" stroke-width="1"/>
<path d="M569.0,239.4L570.3,241.9L565.4,242.3L563.1,240.7L564.4,238.4L567.4,238.9Z" fill="#addd8e" stroke="#addd8e" stroke-width="1"/>
<path d="M565.9,255.6L568.7,255.1L569.2,253.6L570.9,253.1L572.5,256.0L573.7,258.1L574.2,256.5L573.9,254.7L572.8,252.0L571.5,251.0L571.0,252.3L570.1,250.7L569.9,249.2L572.1,248.6L572.2,246.5L566.2,246.0L564.7,244.2L562.4,243.1L562.7,244.4L562.6,247.6L563.9,248.6L565.0,251.5Z" fill="#addd8e" stroke="#addd8e" stroke-width="1"/>
<path d="M548.3,286.8L550.5,289.0L551.2,290.2L552.9,293.4L552.4,295.8L550.2,296.9L548.7,296.3L548.3,294.2L547.9,291.3L548.2,288.9Z" fill="#addd8e" stroke="#addd8e" stroke-width="1"/>
<path d="M573.7,258.1L577.2,261.3L579.0,263.1L580.1,267.1L579.8,270.5L582.6,271.1L584.2,269.4L585.9,268.1L587.4,269.2L588.2,273.1L589.6,275.7L591.0,281.0L591.4,286.3L592.5,282.1L591.9,278.1L589.3,273.1L589.8,270.2L586.2,263.9L586.7,261.0L589.4,259.9L591.7,259.0L592.6,257.3L593.6,255.9L591.0,255.7L588.9,254.4L588.9,251.8L587.0,249.4L584.5,249.7L584.3,246.8L585.9,244.2L585.1,240.2L581.6,238.4L581.5,241.3L579.5,240.7L577.7,242.6L577.2,245.5L576.7,249.4L574.7,249.4L575.1,253.9L573.9,254.7L574.2,256.5Z" fill="#d9f0a3" stroke="#d9f0a3" stroke-width="1"/>
<path d="M591.7,259.0L593.0,261.3L594.6,261.3L594.8,266.3L597.1,264.7L599.1,265.3L601.5,264.4L603.5,266.8L603.9,269.4L606.3,272.3L606.3,274.7L605.6,274.8L600.6,275.1L599.4,276.8L599.7,279.7L601.0,281.9L599.4,280.2L596.4,279.3L595.9,277.2L593.9,277.3L594.1,281.0L592.8,285.2L593.2,288.1L594.9,290.2L596.2,293.6L598.8,294.6L600.2,296.1L597.9,297.6L595.5,295.6L594.2,293.6L591.1,292.1L590.9,288.9L591.4,286.3L592.5,282.1L591.9,278.1L589.3,273.1L589.8,270.2L586.2,263.9L586.7,261.0L589.4,259.9Z" fill="#ffffe5" stroke="#ffffe5" stroke-width="1"/>
<path d="M591.7,259.0L592.6,257.3L593.6,255.9L595.2,256.8L594.6,253.5L595.5,253.6L598.1,257.3L601.7,258.6L601.0,261.0L604.1,263.6L608.0,268.1L610.4,270.5L611.1,273.9L610.9,274.0L607.5,274.8L605.6,274.8L606.3,274.7L606.3,272.3L603.9,269.4L603.5,266.8L601.5,264.4L599.1,265.3L597.1,264.7L594.8,266.3L594.6,261.3L593.0,261.3Z" fill="#ffffe5" stroke="#ffffe5" stroke-width="1"/>
<path d="M601.0,281.9L603.0,285.0L605.0,285.2L606.3,283.8L608.9,283.6L607.9,282.1L611.5,280.1L610.9,274.0L607.5,274.8L605.6,274.8L600.6,275.1L599.4,276.8L599.7,279.7Z" fill="#78c679" stroke="#78c679" stroke-width="1"/>
<path d="M605.0,285.2L606.1,290.0L610.4,287.6L610.4,285.2L611.6,285.2L615.2,282.6L615.5,278.6L615.3,276.3L613.9,272.3L612.0,270.2L608.8,267.6L607.1,265.5L605.1,262.8L605.2,260.2L606.6,259.2L606.9,257.8L609.3,255.9L606.1,254.7L605.7,252.3L602.5,251.3L599.7,253.1L597.4,253.4L595.5,253.6L598.1,257.3L601.7,258.6L601.0,261.0L604.1,263.6L608.0,268.1L610.4,270.5L611.1,273.9L610.9,274.0L611.5,280.1L607.9,282.1L608.9,283.6L606.3,283.8Z" fill="#238443" stroke="#238443" stroke-width="1"/>
<path d="M595.5,295.6L597.9,297.6L600.2,296.1L603.4,301.5L603.7,305.0L605.6,308.9L603.9,309.2L600.8,306.8L598.6,305.0L596.9,302.1L596.2,298.4ZM618.1,307.3L621.4,308.7L622.2,305.8L625.9,304.2L628.1,300.8L630.7,299.4L632.6,296.8L634.3,294.2L636.5,296.0L637.5,297.3L640.1,298.6L638.8,300.8L637.2,301.6L631.9,301.5L631.9,303.6L630.6,306.0L629.5,308.8L625.6,308.7L623.3,310.0L620.2,310.4L618.8,309.2Z" fill="#78c679" stroke="#78c679" stroke-width="1"/>
<path d="M628.1,300.8L630.7,299.4L631.2,301.0L629.6,302.1Z" fill="#238443" stroke="#238443" stroke-width="1"/>
<path d="M618.1,307.3L618.8,309.2L620.2,310.4L623.3,310.0L625.6,308.7L629.5,308.8L630.6,306.0L631.9,303.6L631.9,301.5L637.2,301.6L636.8,303.9L637.6,306.8L640.0,310.0L637.3,310.5L636.6,313.9L634.9,316.0L634.1,319.2L632.9,322.1L629.6,323.4L629.4,321.6L625.9,321.0L622.9,320.5L619.4,320.2L619.2,317.1L617.0,313.7L616.5,310.0ZM584.4,297.9L589.6,298.8L592.5,302.6L596.6,306.8L599.2,307.6L602.8,311.0L604.6,313.4L606.2,317.6L609.6,320.5L609.1,327.9L606.0,328.1L600.9,323.1L596.7,315.2L592.9,308.1L589.1,303.9L585.0,300.0ZM607.3,330.5L609.5,328.1L614.6,329.2L619.4,330.8L620.9,329.4L624.5,330.8L628.8,332.9L628.4,335.5L622.9,334.5L616.0,332.9L610.2,332.1ZM628.7,333.9L631.5,334.5L630.2,335.8L628.9,334.7ZM632.2,334.5L633.8,334.7L633.2,336.0L632.1,335.8ZM634.0,334.7L636.9,333.9L639.3,335.0L637.9,336.0L634.4,336.3ZM641.0,334.7L644.9,335.0L648.4,334.5L647.9,335.5L643.7,336.0L641.2,335.8ZM638.9,337.6L641.3,337.3L643.0,339.2L641.1,339.5ZM649.2,339.7L650.6,337.3L653.0,336.3L652.9,337.6L651.6,339.2ZM642.4,310.2L644.5,309.2L649.1,310.0L652.6,310.0L654.5,308.4L652.9,311.5L649.4,311.3L644.8,311.4L642.7,312.9L642.4,315.0L644.9,316.3L646.1,315.0L650.3,315.1L648.9,316.8L646.5,317.9L647.6,320.5L648.9,323.4L648.1,326.8L645.8,325.2L644.3,322.1L644.6,319.7L642.9,321.0L642.9,327.1L640.8,327.1L641.0,321.8L639.4,320.0L640.7,316.5L642.0,312.9ZM659.6,310.0L660.9,306.8L662.6,308.7L661.5,311.3L663.2,311.8L661.1,314.7L660.4,312.1ZM660.9,320.5L667.4,320.8L665.5,322.1L661.3,321.8ZM656.2,320.8L659.0,321.3L657.8,322.6L656.2,321.8ZM668.1,314.7L671.6,313.7L675.3,314.7L675.6,319.2L677.2,321.3L680.8,318.4L684.3,316.8L688.4,318.7L691.2,319.4L690.1,336.6L686.8,334.2L683.3,334.7L685.5,331.0L683.9,327.1L679.4,324.4L674.8,322.9L672.4,323.1L672.1,320.0L673.7,318.9L670.3,318.4L668.0,316.3ZM675.0,327.1L676.2,327.3L675.8,330.0L674.7,329.2ZM667.2,332.3L668.9,331.6L668.5,333.7ZM607.8,316.8L610.1,317.3L611.0,320.5L609.2,319.4Z" fill="#41ab5d" stroke="#41ab5d" stroke-width="1"/>
<path d="M653.0,336.3L655.4,335.0L658.4,334.7L656.5,336.3L652.9,337.6Z" fill="#d9f0a3" stroke="#d9f0a3" stroke-width="1"/>
<path d="M691.2,319.4L694.7,321.0L699.3,322.6L702.2,325.8L704.7,328.4L706.5,330.2L704.6,330.8L706.6,333.7L709.4,336.3L712.6,339.7L709.5,340.0L704.4,337.6L702.0,333.9L698.6,332.9L696.1,335.0L694.8,336.8L692.4,336.8L690.1,336.6ZM707.9,327.3L712.0,325.8L715.5,323.7L717.4,323.9L716.5,327.1L712.9,328.9L709.4,328.9ZM714.1,319.4L717.9,322.6L719.0,325.0L718.1,324.4L715.2,320.8ZM722.8,327.1L725.4,329.7L724.6,330.8L722.9,328.4ZM704.3,317.9L706.2,317.9L705.2,318.7Z" fill="#d9f0a3" stroke="#d9f0a3" stroke-width="1"/>
<path d="M726.7,330.2L728.9,331.8L728.2,332.1L726.6,331.0ZM731.2,332.3L734.2,334.7L733.7,335.2L731.1,333.4ZM733.3,337.1L736.0,338.4L734.8,338.7L733.5,337.9ZM736.1,334.7L737.2,337.6L736.5,337.9L736.0,336.0ZM737.2,339.7L739.1,340.8L737.9,341.0Z" fill="#d9f0a3" stroke="#d9f0a3" stroke-width="1"/>
<path d="M747.4,351.6L748.6,352.6L748.0,353.9L747.2,353.4ZM748.3,354.7L749.2,355.8L748.4,356.3ZM749.4,358.9L750.0,359.2L749.5,359.6Z" fill="#f7fcb9" stroke="#f7fcb9" stroke-width="1"/>
<path d="M738.2,365.5L741.0,367.9L743.5,371.3L742.2,371.3L738.8,367.6Z" fill="#005a32" stroke="#005a32" stroke-width="1"/>
<path d="M770.4,358.7L773.3,358.9L772.5,360.5L770.0,360.3ZM774.1,356.8L777.2,355.2L777.0,356.3L774.4,357.4Z" fill="#78c679" stroke="#78c679" stroke-width="1"/>
<path d="M639.5,263.9L643.2,263.9L643.9,267.8L642.9,270.5L643.1,273.1L643.8,275.2L646.4,275.5L649.0,276.3L649.9,279.4L647.9,278.4L645.9,276.8L642.4,276.5L641.2,274.7L641.9,274.2L640.0,273.6L638.9,270.0L639.9,268.9L639.5,266.5ZM646.1,294.2L646.6,291.5L649.3,289.7L652.1,290.2L654.0,286.8L656.1,290.2L656.8,294.2L656.0,296.0L654.5,294.4L654.5,297.9L651.6,296.3L651.0,293.6L649.5,293.1L646.8,294.4ZM650.4,279.7L652.7,279.7L654.1,283.6L652.4,282.9L651.5,281.3ZM650.7,282.6L652.4,283.1L653.2,286.3L652.3,285.7ZM647.6,283.9L649.0,284.2L649.0,288.6L647.0,287.3L646.6,285.2ZM645.3,281.5L647.9,282.3L647.1,285.0L645.4,284.7ZM648.8,283.6L650.1,283.1L649.6,287.6ZM641.1,277.3L643.4,277.6L643.9,280.2L642.5,280.0ZM635.0,290.7L637.0,289.4L639.7,285.5L639.8,282.6L638.8,283.9L636.4,288.1ZM650.0,286.5L651.6,286.3L651.5,287.3Z" fill="#78c679" stroke="#78c679" stroke-width="1"/>
<path d="M637.2,246.8L639.2,246.8L639.1,249.4L638.5,254.7L636.2,252.0L636.6,248.4Z" fill="#238443" stroke="#238443" stroke-width="1"/>
<path d="M609.3,255.9L611.8,256.0L613.4,257.1L614.9,259.2L615.4,256.8L617.9,255.7L621.5,254.2L623.2,253.6L625.8,252.8L628.3,251.3L630.8,248.1L633.4,245.5L632.9,242.8L634.2,239.4L635.7,236.8L635.6,233.9L633.0,232.8L634.6,231.3L632.2,228.4L630.6,226.5L627.9,222.6L624.8,220.7L624.8,218.9L625.9,217.8L629.6,215.5L629.4,214.4L626.4,213.6L621.5,214.4L620.7,213.1L617.1,210.7L616.7,210.0L619.3,209.4L620.1,207.3L621.5,205.3L624.2,205.8L624.5,210.5L627.4,208.4L629.9,207.3L631.9,204.7L632.7,202.8L635.7,203.6L634.9,202.1L637.6,201.0L639.7,201.1L639.7,199.5L638.6,196.9L636.4,194.3L640.6,194.1L640.2,191.0L638.4,188.2L638.3,185.7L634.8,187.4L631.7,187.4L628.8,184.3L624.7,183.0L621.0,182.0L620.1,180.7L612.6,174.9L609.5,173.4L605.8,172.5L601.4,173.2L600.3,174.4L603.2,176.4L603.5,181.5L601.8,182.8L599.0,181.9L599.6,186.9L604.0,187.4L610.5,190.0L606.7,190.2L604.1,191.0L601.0,194.6L596.5,194.3L598.2,197.7L595.6,200.4L590.5,201.0L586.3,203.2L576.5,200.6L567.9,200.2L566.7,200.3L562.8,196.1L558.0,194.3L552.5,193.8L550.3,189.4L546.1,186.6L542.3,185.1L541.3,183.7L540.4,183.8L537.8,185.6L539.1,188.4L533.6,188.7L534.0,193.0L529.7,194.6L532.0,198.7L532.8,201.6L529.8,203.7L526.9,204.7L522.9,206.0L521.3,207.9L521.3,208.8L522.5,211.3L524.7,211.4L525.6,214.6L525.0,215.1L528.2,216.3L528.9,217.8L533.2,219.1L537.5,225.7L536.5,227.0L537.8,229.7L538.7,230.7L543.8,233.1L546.6,233.5L550.8,235.5L554.4,238.1L556.2,238.9L558.9,239.3L560.9,239.1L562.4,238.8L563.1,240.7L564.4,238.4L567.4,238.9L569.0,239.4L569.8,239.5L572.6,237.0L575.7,235.7L578.6,235.7L581.6,238.4L585.1,240.2L585.9,244.2L584.3,246.8L584.5,249.7L587.0,249.4L588.9,251.8L588.9,254.4L591.0,255.7L593.6,255.9L595.2,256.8L594.6,253.5L595.5,253.6L597.4,253.4L599.7,253.1L602.5,251.3L605.7,252.3L606.1,254.7ZM611.9,262.1L613.6,259.9L616.6,259.9L616.2,263.1L614.1,264.7L612.1,263.6Z" fill="#addd8e" stroke="#addd8e" stroke-width="1"/>
<path d="M541.3,183.7L544.2,181.7L548.3,179.5L552.6,180.1L559.8,182.1L560.8,180.2L558.7,177.7L559.8,176.2L567.4,178.2L568.7,180.0L574.5,180.5L579.2,181.5L583.2,183.3L587.9,183.7L591.6,182.8L593.5,180.8L599.0,181.9L599.6,186.9L604.0,187.4L610.5,190.0L606.7,190.2L604.1,191.0L601.0,194.6L596.5,194.3L598.2,197.7L595.6,200.4L590.5,201.0L586.3,203.2L576.5,200.6L567.9,200.2L566.7,200.3L562.8,196.1L558.0,194.3L552.5,193.8L550.3,189.4L546.1,186.6L542.3,185.1Z" fill="#78c679" stroke="#78c679" stroke-width="1"/>
<path d="M637.6,213.2L638.4,215.2L637.9,216.0L640.0,218.9L640.7,221.5L643.3,221.5L646.1,220.2L646.0,217.8L644.5,215.2L640.2,211.0L638.1,211.8Z" fill="#238443" stroke="#238443" stroke-width="1"/>
<path d="M662.9,203.4L665.9,206.0L668.5,208.6L668.0,211.8L669.7,215.5L669.9,217.0L671.3,218.6L670.2,220.7L669.1,219.1L668.2,221.5L666.9,221.5L664.2,221.5L663.6,220.5L664.4,222.3L662.9,224.5L660.4,222.3L660.4,221.4L657.6,221.5L654.7,222.3L651.5,223.2L651.2,222.0L653.8,219.3L656.9,219.0L659.1,218.6L660.7,218.6L660.9,216.0L661.1,213.9L661.4,215.7L664.0,214.2L664.2,212.8L664.7,212.1L663.8,207.9L662.5,205.8L662.2,204.2ZM661.0,203.4L663.1,202.7L660.5,201.3L661.7,201.2L667.2,202.1L667.8,199.5L670.2,198.6L667.5,196.1L665.9,196.9L658.5,193.0L659.8,195.9L660.9,199.0L658.9,198.7L658.8,200.6ZM654.9,225.7L655.4,224.1L657.9,222.2L660.1,223.6L659.5,225.1L657.7,224.4L657.2,226.4ZM651.6,223.4L653.6,224.1L655.2,226.2L655.3,229.9L654.2,231.0L652.7,230.2L651.7,227.6L650.2,226.5L649.2,224.7L650.8,224.1Z" fill="#238443" stroke="#238443" stroke-width="1"/>
<path d="M414.3,134.0L418.2,134.9L423.5,135.5L427.4,137.4L432.2,138.7L434.1,140.7L432.5,142.1L429.0,142.3L423.5,141.2L418.8,140.1L423.3,143.7L424.5,146.0L427.9,147.2L430.6,147.4L429.0,144.8L433.3,145.8L434.6,145.8L432.9,143.5L435.8,141.6L439.6,142.3L438.8,140.3L437.1,136.7L441.1,137.4L443.1,140.3L445.1,138.7L453.1,137.4L454.9,137.6L459.6,136.7L465.0,137.4L464.2,134.0L470.7,135.1L476.4,136.2L473.1,131.4L473.1,127.3L475.0,126.5L480.2,127.6L482.5,131.4L487.0,136.9L488.3,141.9L490.1,139.2L489.7,135.8L485.0,131.4L484.3,128.2L489.5,128.6L495.2,129.7L500.8,132.5L492.3,126.1L499.1,122.9L507.9,120.9L515.9,120.0L519.5,117.6L525.4,119.0L534.3,120.0L538.6,121.3L536.4,123.9L534.6,126.7L538.6,125.2L544.4,126.1L552.3,126.7L560.9,127.1L564.9,125.9L573.3,129.3L577.7,131.4L581.2,130.3L588.1,130.5L589.7,127.3L600.2,128.6L609.2,130.3L616.1,131.6L630.7,133.5L634.0,134.6L643.1,134.0L648.0,133.3L652.5,135.8L658.2,134.0L667.7,135.8L681.5,144.8L678.1,145.5L688.9,151.2L682.8,152.4L680.2,156.6L671.8,156.6L672.7,161.5L672.2,162.8L677.3,165.9L677.7,168.9L678.6,173.4L676.5,173.9L677.6,179.2L672.4,175.2L665.6,168.9L661.3,162.8L661.6,157.9L661.8,152.4L660.6,150.7L657.7,154.3L649.8,153.1L653.1,158.4L645.6,158.4L636.3,158.4L630.6,158.4L628.8,162.3L628.3,165.3L629.2,167.7L626.7,169.6L632.5,171.4L637.4,171.4L642.1,173.9L644.8,179.0L648.6,184.0L648.4,189.2L647.2,194.8L644.0,200.0L641.2,199.3L640.0,201.3L639.7,201.1L639.7,199.5L638.6,196.9L636.4,194.3L640.6,194.1L640.2,191.0L638.4,188.2L638.3,185.7L634.8,187.4L631.7,187.4L628.8,184.3L624.7,183.0L621.0,182.0L620.1,180.7L612.6,174.9L609.5,173.4L605.8,172.5L601.4,173.2L600.3,174.4L603.2,176.4L603.5,181.5L601.8,182.8L599.0,181.9L593.5,180.8L591.6,182.8L587.9,183.7L583.2,183.3L579.2,181.5L574.5,180.5L568.7,180.0L567.4,178.2L559.8,176.2L558.7,177.7L560.8,180.2L559.8,182.1L552.6,180.1L548.3,179.5L544.2,181.7L541.3,183.7L540.4,183.8L535.7,182.5L530.1,179.0L526.6,179.6L523.7,179.5L516.3,173.2L512.8,171.7L512.8,170.4L506.7,171.5L501.9,170.9L500.3,168.2L495.4,168.9L490.2,170.5L487.9,170.6L482.7,171.4L483.3,174.2L482.1,176.4L486.1,179.5L482.6,180.0L478.0,178.7L473.3,179.7L467.6,177.7L464.0,177.2L460.7,180.0L461.0,181.7L457.3,181.7L458.2,183.5L457.6,185.6L459.2,186.9L462.0,187.6L464.0,190.7L462.4,192.5L461.5,194.8L462.9,199.5L465.9,202.5L464.6,204.2L462.7,203.3L461.3,202.4L459.4,200.8L456.8,200.3L454.6,199.9L451.2,199.0L446.9,198.5L442.2,195.9L441.7,195.1L439.3,193.8L441.4,191.8L443.6,188.9L441.3,188.9L441.3,187.6L444.2,187.0L443.7,182.5L439.5,181.6L435.2,180.5L433.7,178.5L431.3,178.2L430.5,175.7L428.5,175.6L425.9,176.2L424.7,173.4L427.0,172.8L423.1,169.9L422.2,167.4L416.8,166.1L415.3,163.0L414.6,162.6L414.4,160.3L414.1,159.3L415.1,158.0L419.0,156.9L416.4,156.2L414.0,155.3L416.7,153.1L419.5,149.8L416.3,147.6L416.7,145.3L414.7,143.2L415.0,141.4L412.4,138.7L411.3,137.6L411.6,135.7L413.1,134.6ZM657.7,192.0L658.1,190.2L660.1,191.2L656.7,188.4L654.3,184.0L657.4,184.3L653.4,182.8L649.4,177.7L646.1,173.9L642.2,170.6L642.4,172.7L645.3,176.4L650.2,181.5L653.8,186.6L656.2,190.2ZM447.2,130.3L451.3,131.8L458.2,132.2L452.6,128.2L451.6,125.0L457.6,121.9L467.9,119.4L461.6,119.2L452.8,121.7L450.0,125.0L447.1,128.6ZM497.3,113.2L503.5,114.7L511.8,116.7L517.0,115.5L512.3,113.5L502.8,111.9L498.0,111.6ZM437.4,112.5L444.9,112.8L442.6,111.9ZM576.8,121.9L583.0,123.3L588.7,122.9L590.4,122.1L582.1,120.9L577.1,120.7ZM586.8,126.1L593.0,126.5L589.1,125.4ZM593.4,122.9L598.5,122.7L595.1,122.1ZM657.2,131.0L658.5,130.3L660.8,131.6L659.2,131.6ZM66.5,130.3L69.8,130.8L67.5,131.6L64.2,131.6ZM57.3,135.8L59.7,137.6L62.5,140.3L65.3,142.3L55.2,146.0L52.8,146.5L52.3,143.7L49.7,141.9L44.4,144.8L43.5,144.8ZM676.6,180.7L677.1,179.7L676.7,181.2ZM460.6,133.5L463.7,133.7L461.7,132.7Z" fill="#d9f0a3" stroke="#d9f0a3" stroke-width="1"/>
<path d="M693.2,340.8L694.8,345.5L694.9,350.2L698.0,352.1L698.2,357.1L698.4,362.1L699.3,363.3L703.1,366.6L703.7,368.1L706.0,373.7L708.6,377.9L710.3,378.4L707.8,384.7L707.8,387.9L703.9,394.2L701.1,397.9L696.7,401.6L691.4,407.4L688.5,411.3L683.8,412.4L678.6,415.5L676.7,413.4L672.7,414.7L668.3,412.9L667.2,410.0L668.2,406.8L666.3,406.3L667.3,404.2L668.0,399.5L668.3,398.2L665.2,401.3L661.5,404.5L660.4,403.4L659.8,399.5L659.2,397.1L654.3,395.5L649.8,395.8L642.4,397.6L637.2,399.5L635.2,401.8L631.7,401.8L627.5,401.8L622.0,404.9L617.8,404.2L616.3,402.9L616.7,401.1L618.5,400.3L619.8,396.8L620.1,391.6L620.1,388.2L619.9,383.7L619.2,381.0L619.8,379.7L620.3,382.1L620.6,375.8L622.0,372.1L623.1,370.0L625.2,369.5L629.8,366.8L634.1,366.0L639.9,364.2L643.4,360.0L644.1,357.4L646.0,355.8L646.9,358.4L649.2,355.5L651.7,352.1L655.7,348.9L658.6,351.8L661.6,351.8L665.5,345.2L669.8,344.2L669.8,342.3L675.3,344.7L679.4,344.7L677.1,348.1L675.5,351.8L678.0,354.5L682.6,357.1L684.5,359.2L687.4,356.0L689.9,349.5L690.7,345.5L692.1,341.6ZM672.4,419.7L675.6,420.7L679.7,419.9L677.8,423.1L674.9,426.2L671.9,427.2L670.3,425.4L670.9,423.6L671.6,421.0ZM661.8,406.8L665.1,406.8L663.4,407.6L661.8,407.4ZM664.8,342.9L667.4,342.6L666.1,343.9L664.7,343.7Z" fill="#41ab5d" stroke="#41ab5d" stroke-width="1"/>
<path d="M743.2,403.2L743.6,404.7L745.3,405.5L743.8,409.5L745.7,408.7L745.0,411.3L746.7,412.4L750.4,411.7L747.5,414.5L744.3,416.0L743.4,417.3L739.3,420.5L736.1,422.0L735.4,421.2L738.8,418.4L737.5,416.6L737.4,416.0L740.0,414.7L741.8,412.6L742.8,410.0L743.4,408.2L743.0,404.7ZM732.8,419.2L732.0,421.0L734.8,421.0L732.5,423.1L728.3,425.7L726.7,427.2L726.9,427.8L722.1,429.1L717.2,433.2L713.3,435.0L710.8,435.0L710.1,434.0L708.6,433.2L713.3,430.1L717.6,428.0L723.0,425.7L725.7,424.1L728.4,422.3L730.7,420.2ZM708.5,436.0L710.0,435.8L708.7,436.8Z" fill="#41ab5d" stroke="#41ab5d" stroke-width="1"/></g>
<g stroke="#2c3a2e" stroke-opacity=".42" stroke-width=".55" stroke-linejoin="round"><path d="M111.8,184.0L168.5,184.0L172.5,185.1L176.0,186.4L178.9,186.6L182.2,186.1L187.2,189.7L187.4,190.7L189.0,191.8L190.4,194.3L188.3,199.5L185.8,202.1L190.5,201.6L195.3,200.0L195.6,198.5L201.9,196.7L206.3,194.3L213.0,194.3L216.4,192.0L220.0,188.2L222.6,188.9L221.4,192.5L222.3,194.6L218.7,196.1L215.1,197.7L212.8,200.3L213.5,202.7L210.0,203.7L205.3,205.0L203.8,206.0L202.7,208.4L200.4,210.2L199.9,208.4L199.6,211.5L196.8,215.2L196.8,215.5L196.5,218.9L194.1,221.2L190.3,223.4L186.9,225.5L182.9,228.1L180.7,231.5L180.8,236.3L181.5,241.0L181.1,244.7L179.6,246.5L178.3,246.3L177.4,243.6L176.1,239.7L176.8,236.3L174.8,233.6L171.3,234.4L169.0,232.6L164.5,232.8L162.2,233.1L162.0,236.0L159.4,235.7L156.2,234.7L152.2,234.4L149.3,235.7L145.4,238.1L142.8,240.7L142.4,244.4L138.6,243.1L138.2,239.9L136.0,234.7L133.0,234.1L130.7,236.3L128.2,234.7L125.5,228.9L121.7,228.9L121.3,230.2L115.1,230.2L108.1,226.5L102.6,227.0L100.9,223.1L97.0,221.8L97.0,219.1L96.3,215.7L96.5,213.1L95.7,208.6L95.8,206.3L98.4,202.1L101.6,196.9L105.4,191.2L107.6,185.6L110.7,185.8L110.4,187.9L112.3,184.3ZM125.0,134.4L119.4,133.5L114.3,132.5L110.3,131.8L104.4,130.8L98.6,131.8L91.9,132.9L84.4,135.8L77.9,137.4L78.8,139.2L79.0,140.3L80.9,141.4L76.5,141.4L70.9,142.3L66.7,143.5L67.1,145.8L72.1,146.0L75.4,146.2L72.8,148.4L67.7,149.5L62.6,150.7L58.0,152.9L57.5,154.7L57.3,157.1L59.3,157.9L57.5,159.8L62.5,160.1L65.8,159.6L62.8,162.8L56.8,165.2L50.5,167.4L45.0,168.9L39.6,170.4L43.7,170.1L50.1,168.6L56.2,166.7L62.7,164.2L69.1,161.8L73.9,159.1L79.8,155.5L85.4,153.8L83.8,155.5L78.4,158.4L83.5,157.1L87.6,155.9L91.3,154.3L92.5,155.7L94.2,156.6L97.9,156.6L100.9,157.4L103.0,159.1L104.2,160.8L103.8,163.3L104.2,165.9L104.8,168.4L106.9,169.4L109.9,168.2L111.5,166.4L109.6,164.7L110.2,161.5L109.6,159.1L109.4,157.4L104.0,159.1L103.5,156.6L100.6,155.9ZM67.2,163.3L69.8,163.5L73.2,162.0L73.7,160.6L70.3,161.5ZM53.0,148.6L56.8,149.5L58.7,148.4L54.8,147.6ZM50.8,156.6L53.5,156.9L54.2,155.7L51.9,155.9ZM4.5,262.6L7.0,261.3L7.0,259.4L5.1,259.7ZM3.8,258.4L5.5,258.1L4.6,257.3ZM0.9,256.5L2.0,256.5L1.6,255.5ZM-2.1,254.9L-1.2,254.7L-1.4,254.0Z" fill="#78c679"/>
<path d="M125.0,134.4L128.1,134.6L131.6,136.0L136.6,134.6L142.9,133.5L149.0,132.7L151.7,134.6L155.8,134.0L159.2,134.0L164.1,135.8L165.3,138.0L167.4,138.5L173.7,138.3L177.1,139.2L178.8,137.4L183.2,137.1L188.9,138.5L194.4,138.0L198.4,137.4L201.5,134.6L203.1,131.4L207.9,129.5L209.4,131.4L207.7,134.2L209.6,135.1L209.9,136.9L211.6,139.2L214.5,137.6L218.5,134.4L224.6,134.2L223.9,136.9L220.3,140.3L215.7,141.9L212.2,141.9L210.1,144.8L205.3,146.7L200.0,147.9L194.5,150.5L189.1,154.3L184.9,158.4L187.0,160.1L185.4,164.0L190.2,164.0L193.0,165.7L197.3,168.2L202.3,168.6L199.8,173.9L200.5,178.2L203.2,178.0L206.0,175.2L207.4,171.4L207.3,169.6L212.2,167.7L215.7,164.0L214.6,159.6L218.1,156.6L220.4,151.2L225.9,151.2L229.1,151.9L230.8,153.8L234.3,154.3L231.7,158.6L233.8,160.8L238.4,159.1L242.7,155.9L243.9,161.5L244.3,165.2L246.1,167.7L249.2,169.6L250.1,172.7L251.7,175.2L249.4,177.7L243.2,181.0L238.1,181.2L233.2,180.7L228.1,181.0L222.9,184.0L218.5,187.9L215.8,189.4L222.4,185.6L227.1,183.5L231.4,184.3L229.2,186.6L228.7,189.2L228.7,191.2L231.4,192.3L234.5,192.5L237.6,189.2L238.1,191.8L234.1,193.8L229.4,195.4L224.4,198.2L223.5,196.4L227.5,193.6L224.7,193.8L222.3,194.6L221.4,192.5L222.6,188.9L220.0,188.2L216.4,192.0L213.0,194.3L206.3,194.3L201.9,196.7L195.6,198.5L195.3,200.0L190.5,201.6L185.8,202.1L188.3,199.5L190.4,194.3L189.0,191.8L187.4,190.7L187.2,189.7L182.2,186.1L178.9,186.6L176.0,186.4L172.5,185.1L168.5,184.0L111.8,184.0L110.4,181.5L107.3,179.0L108.2,175.2L107.8,171.9L108.1,169.6L109.9,168.2L111.5,166.4L109.6,164.7L110.2,161.5L109.6,159.1L109.4,157.4L104.0,159.1L103.5,156.6L100.6,155.9ZM110.0,185.6L107.3,184.8L106.1,182.8L104.1,180.0L106.1,179.2L109.0,180.7L110.3,183.3ZM101.1,176.2L100.7,173.4L101.6,171.2L103.7,171.4L101.7,173.9ZM240.6,187.4L244.3,187.6L247.2,189.4L250.9,189.7L252.9,190.0L254.1,187.6L253.1,185.3L253.3,183.0L250.1,181.7L251.2,177.7L248.6,178.2L246.3,180.7L243.3,184.0L241.0,186.1ZM231.9,182.0L235.6,183.8L236.8,183.3L233.8,182.0ZM229.5,190.0L232.6,191.8L233.8,190.7L230.7,189.4ZM208.8,144.1L209.2,148.8L213.6,147.6L216.7,148.4L218.7,147.2L216.6,145.8L215.1,142.8L212.3,143.0ZM243.6,152.1L238.0,150.7L233.6,148.8L229.8,146.0L223.3,146.5L225.6,144.1L232.1,143.7L234.3,141.4L237.3,138.0L234.6,136.9L231.4,134.0L227.5,133.5L220.8,133.5L217.2,132.9L214.3,131.8L216.2,129.3L218.5,125.9L225.2,125.4L226.7,126.5L221.5,128.8L222.3,130.8L226.7,127.6L233.1,125.6L231.8,128.2L237.2,127.6L241.1,129.9L245.0,131.4L248.9,132.9L249.3,135.1L252.3,138.9L255.5,141.0L250.1,144.6L247.5,142.8L243.9,142.1L246.7,146.0L246.2,148.8L242.4,148.1L239.5,147.9L242.6,150.5ZM166.8,133.1L171.5,135.1L177.0,136.5L184.5,135.8L191.6,134.4L191.5,132.7L189.1,131.0L192.2,127.6L189.0,126.5L183.2,127.3L178.8,126.3L171.2,128.0L167.0,130.1L171.5,130.5L166.9,131.6ZM158.0,129.5L159.2,131.2L164.3,130.3L170.4,128.6L175.9,126.7L176.0,124.6L171.2,123.9L165.1,124.4L159.5,127.6ZM197.8,127.3L199.3,130.8L203.4,129.9L206.4,127.6L206.3,125.2L202.3,125.2ZM206.7,128.6L209.7,129.3L216.5,127.1L218.4,125.0L213.1,124.8L209.4,125.9ZM193.8,135.8L197.3,136.7L200.6,135.8L199.7,133.7ZM180.2,121.9L183.8,123.9L190.8,123.3L196.8,122.9L198.6,120.9L195.0,119.6L188.6,120.4L184.5,120.0ZM200.4,121.9L205.4,122.9L212.1,121.9L212.1,120.0L207.3,119.6L202.9,120.0ZM172.9,120.5L177.9,121.3L183.8,120.0L182.5,118.2L175.7,119.2ZM212.9,121.9L217.4,123.5L226.5,123.9L235.6,123.5L238.6,121.9L235.5,121.1L224.2,121.5L224.6,119.8L217.4,119.4ZM225.7,120.2L233.4,120.2L239.2,120.5L245.1,118.4L249.6,116.1L257.3,114.1L268.0,111.9L275.5,110.0L271.1,108.8L260.5,108.3L248.9,108.8L239.6,109.6L233.7,110.8L238.8,112.4L239.7,114.1L232.4,115.5L233.3,117.4L227.5,118.6ZM222.9,113.5L225.4,116.5L232.5,116.1L235.6,113.9L233.1,111.3L227.0,111.6ZM208.7,115.5L214.0,117.2L219.9,116.7L216.6,115.1L211.5,114.5Z" fill="#78c679"/>
<path d="M253.5,116.7L257.1,119.4L260.4,120.9L269.7,120.9L271.4,122.9L272.2,127.1L272.3,131.4L275.1,134.0L271.3,136.9L269.2,141.4L269.9,146.0L271.4,151.2L273.9,154.3L277.9,156.2L281.5,156.6L284.5,153.1L288.5,149.1L291.6,144.8L297.5,143.0L305.6,139.2L316.5,136.9L323.9,133.5L326.3,130.3L323.5,128.2L328.3,125.0L332.3,120.9L334.8,117.0L337.9,113.2L344.8,110.8L335.8,110.0L326.8,108.0L316.0,107.5L301.9,108.2L289.9,109.6L278.3,110.0L271.5,111.3L265.8,112.7L266.0,114.1L256.0,115.5Z" fill="url(#h)" stroke="#c8c8c8" stroke-opacity="1"/>
<path d="M102.6,227.0L108.1,226.5L115.1,230.2L121.3,230.2L121.7,228.9L125.5,228.9L128.2,234.7L130.7,236.3L133.0,234.1L136.0,234.7L138.2,239.9L138.6,243.1L142.4,244.4L140.3,248.1L139.4,253.4L140.2,257.3L141.6,261.8L144.3,263.6L146.5,264.7L151.3,263.4L153.6,262.6L155.3,258.6L156.2,257.1L160.3,256.0L163.7,256.0L161.9,260.5L160.8,264.4L159.7,263.9L157.7,265.5L153.5,265.7L153.0,267.3L154.1,270.0L151.3,270.2L149.5,274.2L146.2,270.7L143.5,270.0L139.9,271.3L135.5,269.7L132.3,267.8L128.5,265.5L124.7,264.4L121.7,261.3L120.7,258.6L121.9,255.7L120.9,252.6L118.2,248.6L115.5,245.2L115.3,242.3L113.3,239.4L110.5,236.3L110.1,231.5L107.2,229.1L105.8,233.1L107.5,236.5L108.9,241.5L110.9,245.5L111.7,248.9L113.1,251.5L111.8,252.3L110.1,249.4L107.7,247.3L108.5,244.2L105.2,241.3L103.9,239.4L105.8,237.0L103.2,234.1L103.0,231.0Z" fill="#addd8e"/>
<path d="M159.7,263.9L157.7,265.5L156.8,270.7L157.5,270.7L159.0,269.2L159.8,266.5Z" fill="#238443"/>
<path d="M149.5,274.2L151.3,270.2L154.1,270.0L153.0,267.3L153.5,265.7L157.7,265.5L156.8,270.7L157.5,270.7L159.0,271.3L156.5,273.4L156.0,274.7L154.1,276.4L151.6,276.0Z" fill="#78c679"/>
<path d="M154.1,276.4L156.0,274.7L157.9,275.7L159.5,276.0L159.3,277.6L157.7,277.8L155.9,277.1Z" fill="#78c679"/>
<path d="M159.0,271.3L156.5,273.4L156.0,274.7L157.9,275.7L159.5,276.0L159.3,277.6L160.2,278.4L161.1,278.4L162.0,276.3L164.3,276.0L166.4,273.6L170.3,273.1L169.1,272.1L167.6,270.9L164.2,270.7L160.7,271.0Z" fill="#41ab5d"/>
<path d="M160.2,278.4L161.1,278.4L162.0,276.3L164.3,276.0L166.4,273.6L170.3,273.1L169.3,277.1L168.8,280.2L168.3,283.6L166.0,283.6L163.7,283.4L162.0,281.5Z" fill="#41ab5d"/>
<path d="M163.7,283.4L166.0,283.6L168.3,283.6L169.8,286.3L170.7,287.5L169.8,289.4L169.7,291.4L168.2,290.0L165.8,287.3L164.8,287.3L163.3,286.3Z" fill="#238443"/>
<path d="M170.7,287.5L173.1,289.4L175.5,288.6L177.8,287.3L180.1,287.9L182.6,289.7L182.3,291.8L181.3,293.6L180.0,290.7L177.8,289.2L175.8,290.7L176.4,292.9L174.3,293.6L173.0,292.3L169.7,291.4L169.8,289.4Z" fill="#238443"/>
<path d="M168.6,254.9L171.0,252.8L174.6,251.7L179.1,251.8L182.3,253.6L185.5,255.5L188.7,257.1L192.5,259.4L190.6,260.2L184.4,260.3L185.8,258.4L183.1,256.3L178.7,254.9L175.4,253.6L171.9,254.3Z" fill="#f7fcb9"/>
<path d="M182.4,264.4L185.6,263.9L187.3,265.2L185.0,265.7L182.5,264.9Z" fill="#41ab5d"/>
<path d="M191.3,264.4L195.9,264.8L197.6,265.1L198.1,260.7L195.2,260.2L194.2,260.7L195.5,261.8L196.2,263.6L193.7,263.6L191.4,263.5Z" fill="#d9f0a3"/>
<path d="M197.6,265.1L198.1,260.7L202.0,260.5L203.8,261.8L205.4,263.6L204.0,264.2L201.2,264.4L199.2,266.0Z" fill="#addd8e"/>
<path d="M208.0,265.2L208.1,263.9L211.8,264.2L211.5,265.2Z" fill="url(#h)" stroke="#c8c8c8" stroke-opacity="1"/>
<path d="M184.8,246.5L186.0,246.3L186.1,248.9L184.7,249.4ZM184.1,242.8L186.8,241.8L188.4,242.8L187.7,244.2L187.3,242.8Z" fill="#238443"/>
<path d="M218.8,286.1L218.9,284.4L221.2,284.2L220.9,286.0Z" fill="#005a32"/>
<path d="M182.6,289.7L183.9,291.5L185.5,288.4L187.3,285.0L189.0,283.4L190.9,282.9L193.3,282.3L195.2,280.7L196.4,279.8L197.6,280.2L197.2,281.5L194.6,283.4L193.0,286.8L194.0,290.2L194.1,293.1L195.4,294.2L199.4,294.2L200.9,296.5L205.4,296.3L204.6,298.6L204.5,301.5L205.6,303.6L204.4,305.2L206.0,308.1L206.5,309.4L204.2,308.1L199.7,308.1L201.1,310.0L199.2,311.2L199.2,313.1L200.6,315.2L199.6,323.7L197.7,322.6L199.1,319.7L192.5,318.9L190.6,316.0L186.8,313.0L184.5,311.5L181.7,311.5L178.7,308.9L179.5,306.0L181.8,305.8L182.6,302.3L182.0,298.1L182.4,295.0L181.3,293.6L182.3,291.8Z" fill="#78c679"/>
<path d="M197.2,281.5L196.6,282.3L196.4,283.9L197.8,283.6L199.7,282.6L200.3,280.5L200.9,282.3L203.9,283.1L204.2,284.7L208.9,284.7L211.6,286.0L213.2,285.2L216.3,284.4L218.9,284.4L216.9,285.5L217.8,286.8L220.8,287.6L221.2,290.0L223.5,290.7L221.3,292.9L222.2,294.2L220.1,295.2L219.5,296.9L221.1,298.9L219.2,301.0L216.2,302.1L213.4,302.3L212.6,303.9L214.7,306.5L213.0,307.6L209.7,310.5L207.9,310.6L206.5,309.4L206.0,308.1L204.4,305.2L205.6,303.6L204.5,301.5L204.6,298.6L205.4,296.3L200.9,296.5L199.4,294.2L195.4,294.2L194.1,293.1L194.0,290.2L193.0,286.8L194.6,283.4L197.2,281.5Z" fill="#addd8e"/>
<path d="M196.4,284.2L197.5,284.7L197.6,287.1L196.4,288.6L195.2,287.6L195.6,285.5Z" fill="#fff"/>
<path d="M223.5,290.7L226.4,293.4L228.7,296.0L229.4,296.9L229.0,299.4L227.6,302.1L228.9,303.9L230.8,307.6L228.4,308.1L226.1,309.2L223.7,308.9L222.8,306.3L223.6,303.6L223.6,302.1L222.5,300.5L222.7,299.2L221.1,298.9L219.5,296.9L220.1,295.2L222.2,294.2L221.3,292.9L223.5,290.7Z" fill="#78c679"/>
<path d="M229.4,296.9L232.3,297.1L236.8,297.3L235.8,299.7L236.6,303.1L235.3,306.4L232.2,307.6L230.8,307.6L228.9,303.9L227.6,302.1L229.0,299.4L229.4,296.9Z" fill="#005a32"/>
<path d="M236.8,297.3L239.3,298.4L242.1,301.7L239.9,306.0L237.1,306.8L235.3,306.4L236.6,303.1L235.8,299.7L236.8,297.3Z" fill="url(#h)" stroke="#c8c8c8" stroke-opacity="1"/>
<path d="M242.1,301.7L243.6,302.3L244.8,307.3L245.9,310.2L244.9,312.6L249.4,313.1L250.5,314.4L254.0,315.2L258.7,317.6L259.2,319.2L263.4,319.7L266.9,320.2L269.3,320.1L272.8,322.3L275.8,325.2L280.4,326.3L281.5,331.3L281.4,333.9L279.6,338.1L276.7,341.6L273.4,346.8L272.4,351.6L272.6,359.2L271.5,364.2L270.2,366.0L268.9,370.5L266.8,373.2L264.1,373.2L260.7,373.9L257.2,375.8L253.6,378.9L252.5,381.6L252.9,385.3L252.8,387.9L250.5,391.1L248.7,394.2L246.7,397.4L244.5,401.5L243.8,398.2L240.9,395.5L238.4,393.9L235.4,392.4L233.6,392.1L236.6,387.6L238.6,385.8L241.1,384.1L241.1,381.6L238.8,380.0L239.0,376.0L236.5,375.8L235.4,371.3L230.6,370.8L230.0,367.1L229.3,365.6L230.4,360.5L228.1,358.1L227.9,355.5L223.7,355.5L222.6,348.9L219.5,348.1L216.6,345.8L213.4,345.5L211.1,342.9L210.6,338.1L207.8,338.7L204.7,340.8L201.3,341.4L198.7,341.6L198.5,337.6L194.8,338.9L193.1,336.6L192.2,332.1L190.4,332.3L191.0,330.8L192.3,328.7L192.7,326.3L197.3,324.2L199.6,323.7L200.6,315.2L199.2,313.1L199.2,311.2L201.1,310.0L199.7,308.1L204.2,308.1L206.5,309.4L207.9,310.6L209.7,310.5L213.0,307.6L214.7,306.5L212.6,303.9L213.4,302.3L216.2,302.1L219.2,301.0L221.1,298.9L222.7,299.2L222.5,300.5L223.6,302.1L223.6,303.6L222.8,306.3L223.7,308.9L226.1,309.2L228.4,308.1L230.8,307.6L232.2,307.6L235.3,306.4L237.1,306.8L239.9,306.0Z" fill="#238443"/>
<path d="M186.8,313.0L187.1,315.1L186.2,316.5L183.9,319.4L181.1,320.5L179.8,321.6L179.1,324.7L177.3,324.4L175.2,324.2L175.3,321.6L176.5,319.2L173.9,318.7L173.8,315.2L175.6,311.8L175.9,310.5L178.7,308.9L181.7,311.5L184.5,311.5Z" fill="#238443"/>
<path d="M175.3,321.6L173.1,324.4L173.9,328.4L176.9,331.6L179.9,337.1L183.6,344.2L186.0,348.9L188.9,352.9L195.5,356.6L198.3,358.9L200.8,360.9L202.6,358.7L203.2,355.2L202.4,353.7L202.6,351.0L203.0,346.3L203.4,345.5L201.3,341.4L198.7,341.6L198.5,337.6L194.8,338.9L193.1,336.6L192.2,332.1L190.4,332.3L191.0,330.8L192.3,328.7L192.7,326.3L197.3,324.2L199.6,323.7L197.7,322.6L199.1,319.7L192.5,318.9L190.6,316.0L186.8,313.0L187.1,315.1L186.2,316.5L183.9,319.4L181.1,320.5L179.8,321.6L179.1,324.7L177.3,324.4L175.2,324.2Z" fill="#addd8e"/>
<path d="M202.6,358.7L204.4,362.6L205.7,366.3L206.7,369.2L207.7,372.6L209.3,372.6L211.1,370.0L213.7,370.8L215.7,372.6L219.4,371.2L219.9,366.6L220.8,364.2L226.9,363.4L229.3,365.6L230.4,360.5L228.1,358.1L227.9,355.5L223.7,355.5L222.6,348.9L219.5,348.1L216.6,345.8L213.4,345.5L211.1,342.9L210.6,338.1L207.8,338.7L204.7,340.8L201.3,341.4L203.4,345.5L203.0,346.3L202.6,351.0L202.4,353.7L203.2,355.2Z" fill="#78c679"/>
<path d="M219.4,371.2L223.7,375.3L228.5,377.9L231.9,379.7L230.3,384.3L233.9,384.7L236.2,384.5L238.6,382.6L238.8,380.0L239.0,376.0L236.5,375.8L235.4,371.3L230.6,370.8L230.0,367.1L229.3,365.6L226.9,363.4L220.8,364.2L219.9,366.6Z" fill="#78c679"/>
<path d="M233.6,392.1L233.3,395.5L233.3,398.2L233.5,401.8L235.1,403.3L238.9,404.5L241.7,404.6L243.9,403.2L244.5,401.5L243.8,398.2L240.9,395.5L238.4,393.9L235.4,392.4Z" fill="#41ab5d"/>
<path d="M209.3,372.6L210.1,375.8L207.1,377.1L207.8,383.7L206.2,387.6L206.0,392.9L206.0,396.8L208.0,400.3L208.3,403.4L208.1,407.4L207.9,411.3L209.4,415.2L208.8,419.2L210.3,424.4L211.7,428.3L214.0,433.4L214.2,438.6L213.2,442.4L216.6,445.7L218.9,448.8L222.9,448.8L226.4,449.5L223.1,444.5L225.2,441.9L226.5,436.3L222.3,433.4L225.6,430.9L225.6,429.6L225.1,425.7L227.7,424.6L224.3,423.1L223.4,419.9L227.9,420.7L229.2,419.4L228.5,415.0L234.9,414.5L237.7,412.6L238.6,408.4L237.2,408.2L237.0,406.1L233.9,403.7L233.5,401.8L233.3,398.2L233.3,395.5L233.6,392.1L236.6,387.6L238.6,385.8L241.1,384.1L241.1,381.6L238.8,380.0L238.6,382.6L236.2,384.5L233.9,384.7L230.3,384.3L231.9,379.7L228.5,377.9L223.7,375.3L219.4,371.2L215.7,372.6L213.7,370.8L211.1,370.0ZM226.4,450.4L227.7,452.0L230.0,453.8L235.1,455.4L233.0,456.4L228.8,456.1Z" fill="#41ab5d"/>
<path d="M200.8,360.9L201.6,365.3L202.2,374.5L202.4,381.0L201.9,388.9L202.7,394.2L203.9,399.5L203.2,406.1L202.4,410.5L204.3,416.6L205.1,421.8L206.3,426.5L208.4,430.9L206.3,435.2L209.7,438.6L209.6,443.7L213.9,448.8L218.4,452.0L222.4,453.5L222.0,450.8L224.4,450.0L226.4,449.5L222.9,448.8L218.9,448.8L216.6,445.7L213.2,442.4L214.2,438.6L214.0,433.4L211.7,428.3L210.3,424.4L208.8,419.2L209.4,415.2L207.9,411.3L208.1,407.4L208.3,403.4L208.0,400.3L206.0,396.8L206.0,392.9L206.2,387.6L207.8,383.7L207.1,377.1L210.1,375.8L209.3,372.6L207.7,372.6L206.7,369.2L205.7,366.3L204.4,362.6L202.6,358.7ZM226.4,450.4L228.8,456.1L226.5,457.0L222.7,455.1L221.2,454.0L223.6,452.8L223.5,451.0L224.9,450.3Z" fill="#41ab5d"/>
<path d="M319.3,143.7L324.1,141.6L327.4,142.6L334.6,141.4L337.0,143.0L338.6,144.8L335.7,146.5L329.2,148.6L324.8,147.6L321.8,147.6L323.3,146.2L319.9,145.0Z" fill="#ffffe5"/>
<path d="M342.5,177.4L345.5,177.4L350.0,175.9L350.5,173.2L350.3,171.3L348.2,171.2L346.7,170.1L348.3,168.8L348.1,168.2L345.9,168.9L345.7,170.6L342.9,170.9L342.8,172.9L344.7,173.7L343.2,175.2L341.8,176.2Z" fill="#41ab5d"/>
<path d="M350.3,171.3L351.7,170.4L351.2,169.1L350.4,168.4L348.3,168.8L346.7,170.1L348.2,171.2ZM351.0,181.2L355.4,180.7L359.5,179.7L363.1,179.5L365.3,178.5L363.9,177.7L365.9,174.9L363.1,173.9L362.7,172.4L360.2,169.9L359.4,167.4L358.6,166.7L356.1,166.4L357.7,165.2L359.1,162.8L354.9,162.5L356.7,160.1L353.1,160.1L351.4,162.8L351.7,165.2L351.8,167.9L353.2,167.4L352.7,169.4L355.7,169.1L355.8,170.9L356.6,172.9L353.6,173.2L353.8,174.4L354.3,175.7L352.1,176.9L355.5,178.0L357.1,177.7L353.9,178.7Z" fill="#78c679"/>
<path d="M358.7,198.5L360.0,195.4L360.2,192.8L360.0,191.2L358.0,188.7L353.3,186.9L352.9,185.6L356.4,184.6L359.2,185.1L358.8,182.2L360.3,183.0L362.7,182.8L365.5,181.0L365.7,179.2L367.6,178.7L369.0,180.5L371.0,181.5L372.2,181.2L374.3,182.6L375.4,182.9L379.2,184.0L378.1,187.6L376.9,188.2L375.1,190.7L375.2,191.4L376.6,191.5L377.1,192.0L376.5,194.1L377.2,196.1L378.3,197.4L375.6,199.3L373.0,198.5L370.9,198.2L369.1,199.3L369.1,201.0L366.1,200.8L364.0,200.0L361.4,200.0ZM380.7,201.1L382.4,199.5L382.7,201.9L382.1,203.7L381.3,203.2Z" fill="#78c679"/>
<path d="M358.7,198.5L354.5,198.4L350.3,198.0L345.9,197.6L343.1,199.3L343.6,202.4L345.1,202.0L348.5,202.3L349.3,203.2L347.7,204.7L347.7,206.8L347.4,208.1L346.3,208.4L347.4,210.2L346.7,211.8L347.3,212.6L346.4,214.7L348.5,215.7L349.4,217.3L350.2,217.8L352.7,216.0L357.7,215.9L359.0,214.2L361.0,213.5L362.9,210.6L361.9,208.6L364.4,205.3L367.2,203.7L369.3,202.4L369.1,201.0L366.1,200.8L364.0,200.0L361.4,200.0Z" fill="#78c679"/>
<path d="M346.4,214.7L347.3,212.6L346.7,211.8L347.4,210.2L346.3,208.4L347.4,208.1L347.7,206.8L347.7,204.7L349.3,203.2L348.5,202.3L345.1,202.0L343.6,202.4L343.9,205.0L342.0,210.6L343.4,211.5L343.4,212.8L342.9,215.2Z" fill="#78c679"/>
<path d="M374.3,182.6L372.2,181.2L371.0,181.5L369.0,180.5L367.6,178.7L369.2,178.0L371.1,178.0L372.5,177.7L374.2,178.6L373.9,179.5L374.6,179.6L375.4,180.6L374.9,181.1L374.2,181.9Z" fill="#41ab5d"/>
<path d="M374.3,182.6L374.2,181.9L374.9,181.1L375.7,182.0L375.4,182.9Z" fill="#78c679"/>
<path d="M369.2,178.0L370.5,176.6L371.8,174.0L373.2,173.4L376.1,172.8L376.7,173.3L376.5,174.8L375.8,175.2L376.5,175.8L375.9,176.7L374.5,176.8L374.9,178.0L374.5,179.0L374.6,179.6L373.9,179.5L374.2,178.6L372.5,177.7L371.1,178.0Z" fill="#41ab5d"/>
<path d="M376.7,173.3L378.5,172.4L379.4,171.7L380.0,171.2L379.4,169.1L380.9,169.4L382.3,170.4L384.0,170.4L383.9,171.5L386.2,170.9L388.7,169.8L390.4,171.7L390.9,173.4L390.5,174.3L391.8,176.2L392.5,178.5L392.3,179.3L391.2,178.8L388.7,180.3L386.9,180.7L387.8,181.7L388.9,183.3L390.7,184.6L389.9,185.6L388.7,186.2L389.3,187.9L387.6,187.5L385.2,188.2L383.5,188.4L382.1,187.8L380.2,187.3L378.1,187.6L379.2,184.0L375.4,182.9L375.7,182.0L374.9,181.1L375.4,180.6L374.6,179.6L374.5,179.0L374.9,178.0L374.5,176.8L375.9,176.7L376.5,175.8L375.8,175.2L376.5,174.8Z" fill="#78c679"/>
<path d="M378.1,187.6L380.2,187.3L382.1,187.8L382.3,189.1L384.1,189.4L383.5,191.1L381.8,190.7L381.2,192.1L380.0,190.6L378.8,191.9L377.1,192.0L376.6,191.5L375.2,191.4L375.1,190.7L376.9,188.2Z" fill="#78c679"/>
<path d="M382.1,187.8L383.5,188.4L385.2,188.2L387.6,187.5L389.3,187.9L388.7,186.2L389.9,185.6L390.7,184.6L392.5,185.1L393.1,184.0L395.4,184.7L397.1,185.1L397.7,186.6L396.5,188.2L395.8,189.5L393.5,190.2L390.9,190.4L388.1,190.0L387.6,189.1L385.5,189.3L384.1,189.4L382.3,189.1Z" fill="#78c679"/>
<path d="M378.3,197.4L381.2,195.9L384.0,197.2L384.7,199.8L387.4,201.6L388.7,202.9L390.3,204.2L392.7,205.3L394.7,206.8L396.3,207.6L397.3,210.0L396.5,212.6L397.4,212.7L398.5,211.5L399.5,210.0L398.0,208.1L398.7,206.2L401.2,207.5L402.3,207.1L401.1,205.6L396.6,203.6L397.0,202.4L394.4,202.1L392.2,200.3L391.1,198.0L388.9,196.8L388.2,194.6L388.2,193.3L389.8,192.4L391.2,192.8L390.8,191.8L390.9,190.4L388.1,190.0L387.6,189.1L385.5,189.3L384.1,189.4L383.5,191.1L381.8,190.7L381.2,192.1L380.0,190.6L378.8,191.9L377.1,192.0L376.5,194.1L377.2,196.1ZM389.5,212.7L391.3,212.1L396.3,211.9L395.4,214.4L395.6,216.0L393.7,215.6L389.6,213.6ZM380.0,205.0L382.1,204.1L383.5,206.0L383.2,209.4L381.9,210.0L380.6,209.7L380.5,206.6Z" fill="#78c679"/>
<path d="M379.4,169.1L378.2,167.5L378.1,165.0L378.9,163.7L382.7,162.1L382.3,165.0L383.5,165.5L382.2,166.7L381.1,167.9L380.9,169.4ZM384.0,167.2L385.7,166.2L386.9,167.2L386.3,169.1L384.3,168.4ZM381.5,167.7L383.3,167.7L383.3,168.8L382.0,168.6Z" fill="#addd8e"/>
<path d="M383.4,158.8L382.3,156.9L381.9,159.1L379.5,160.3L375.8,161.5L373.0,159.6L371.8,156.2L371.7,153.1L371.8,151.4L375.2,149.8L377.8,148.4L380.4,147.2L382.5,145.0L384.1,142.6L385.4,140.5L387.4,138.7L384.8,138.3L388.0,136.2L390.4,135.3L394.4,133.5L398.4,132.7L401.4,131.6L405.1,131.1L408.8,131.2L414.2,132.7L411.1,133.3L414.3,134.0L413.1,134.6L411.6,135.7L411.5,134.2L409.4,133.4L406.2,134.2L406.0,135.3L404.7,136.7L401.6,136.5L398.0,135.3L397.3,135.6L396.8,137.1L393.4,136.9L392.1,137.8L390.8,139.2L389.4,141.4L387.9,142.3L388.3,144.1L386.9,145.8L387.7,146.7L385.2,147.2L384.3,148.6L384.8,151.9L385.7,154.0L385.1,155.5L385.8,156.4L384.5,157.4L384.5,159.1ZM378.6,114.5L382.7,117.0L385.3,119.0L388.5,119.8L390.4,118.0L393.8,116.5L390.4,114.5L385.7,113.3L381.4,113.3ZM389.2,112.8L394.8,114.5L399.1,114.3L401.6,113.0L395.6,112.4L391.3,112.4ZM394.2,118.0L398.1,118.4L399.3,117.2L395.3,116.7Z" fill="#d9f0a3"/>
<path d="M383.4,158.8L383.9,160.8L385.1,162.3L386.4,164.2L387.0,166.2L387.7,167.9L390.2,167.7L389.9,166.7L392.6,166.1L394.0,164.7L394.2,161.8L394.4,160.1L396.2,159.3L397.6,157.1L394.5,155.0L394.0,152.6L394.3,151.0L396.8,148.8L399.3,147.6L400.8,145.8L400.0,144.1L401.8,143.5L404.9,143.0L403.7,141.4L403.7,139.2L402.6,138.0L400.0,136.9L397.3,135.6L396.8,137.1L393.4,136.9L392.1,137.8L390.8,139.2L389.4,141.4L387.9,142.3L388.3,144.1L386.9,145.8L387.7,146.7L385.2,147.2L384.3,148.6L384.8,151.9L385.7,154.0L385.1,155.5L385.8,156.4L384.5,157.4L384.5,159.1Z" fill="#d9f0a3"/>
<path d="M404.9,143.0L407.5,144.8L406.4,146.2L403.8,147.6L401.3,149.3L401.4,152.1L402.1,154.7L403.7,155.7L405.4,157.0L409.0,156.2L414.0,155.3L416.7,153.1L419.5,149.8L416.3,147.6L416.7,145.3L414.7,143.2L415.0,141.4L412.4,138.7L411.3,137.6L411.6,135.7L411.5,134.2L409.4,133.4L406.2,134.2L406.0,135.3L404.7,136.7L401.6,136.5L398.0,135.3L397.3,135.6L400.0,136.9L402.6,138.0L403.7,139.2L403.7,141.4Z" fill="#addd8e"/>
<path d="M415.1,158.0L410.7,157.6L408.7,157.9L406.6,158.6L406.8,159.8L408.9,160.8L408.7,161.9L410.5,161.4L413.0,162.6L414.6,162.6L414.4,160.3L414.1,159.3ZM403.9,160.8L405.1,160.1L406.3,160.2L405.8,160.9L404.6,161.5ZM404.3,159.3L405.6,159.1L405.5,159.7Z" fill="#d9f0a3"/>
<path d="M408.7,161.9L409.1,163.4L408.6,163.9L406.9,164.0L405.5,162.1L403.7,162.8L402.8,164.5L403.1,166.3L404.8,165.5L408.7,165.7L410.7,165.9L414.0,167.2L416.8,166.1L415.3,163.0L414.6,162.6L413.0,162.6L410.5,161.4Z" fill="#addd8e"/>
<path d="M403.1,166.3L403.4,167.4L403.8,168.3L406.5,168.8L407.1,170.5L408.7,171.5L412.5,170.9L412.8,169.1L414.6,168.2L414.0,167.2L410.7,165.9L408.7,165.7L404.8,165.5Z" fill="#addd8e"/>
<path d="M400.9,170.3L401.5,169.0L403.8,168.3L406.5,168.8L407.1,170.5Z" fill="#d9f0a3"/>
<path d="M390.4,171.7L393.9,170.8L397.6,169.4L398.9,170.3L400.9,170.3L407.1,170.5L408.7,171.5L409.9,174.4L408.7,175.8L409.8,177.4L411.0,179.5L409.1,182.0L408.4,183.8L405.2,183.0L403.4,183.5L402.1,182.5L400.8,182.7L398.9,181.5L396.6,180.5L395.2,180.0L392.6,179.0L392.3,179.3L392.5,178.5L391.8,176.2L390.5,174.3L390.9,173.4Z" fill="#addd8e"/>
<path d="M392.3,179.3L391.2,178.8L388.7,180.3L386.9,180.7L387.8,181.7L388.9,183.3L390.7,184.6L392.5,185.1L393.1,184.0L395.4,184.7L397.1,185.1L399.0,184.2L400.8,182.7L398.9,181.5L396.6,180.5L395.2,180.0L392.6,179.0Z" fill="#addd8e"/>
<path d="M397.1,185.1L397.7,186.6L399.2,187.3L401.1,187.1L403.3,186.2L406.2,185.2L407.8,185.6L408.4,183.8L405.2,183.0L403.4,183.5L402.1,182.5L400.8,182.7L399.0,184.2Z" fill="#addd8e"/>
<path d="M397.7,186.6L396.5,188.2L395.8,189.5L396.8,190.5L398.5,191.9L401.7,192.0L404.5,191.4L406.6,190.2L407.8,187.9L409.5,186.7L407.8,185.6L406.2,185.2L403.3,186.2L401.1,187.1L399.2,187.3Z" fill="#addd8e"/>
<path d="M391.2,192.8L390.8,191.8L390.9,190.4L393.5,190.2L395.8,189.5L396.8,190.5L395.0,191.2L394.4,193.2L392.9,193.0L390.9,193.1Z" fill="#78c679"/>
<path d="M390.9,193.1L390.9,194.1L391.6,194.8L392.3,193.6L393.7,194.3L394.4,196.4L397.1,198.2L399.7,199.8L401.6,201.0L401.6,200.7L399.8,199.5L398.9,198.4L397.7,197.4L396.5,196.4L395.5,194.8L395.5,193.8L397.8,193.7L399.8,194.2L402.3,194.7L403.0,193.8L402.1,193.0L401.7,192.0L398.5,191.9L396.8,190.5L395.0,191.2L394.4,193.2L392.9,193.0Z" fill="#addd8e"/>
<path d="M401.6,200.7L399.8,199.5L398.9,198.4L397.7,197.4L396.5,196.4L395.5,194.8L395.5,193.8L397.8,193.7L399.8,194.2L402.3,194.7L403.1,196.1L403.7,197.1L403.0,198.2L402.0,199.0Z" fill="#41ab5d"/>
<path d="M401.6,201.0L403.7,202.5L404.1,200.8L405.0,200.7L405.6,199.9L403.9,199.0L403.0,198.2L402.0,199.0L401.6,200.7Z" fill="#78c679"/>
<path d="M401.7,192.0L404.5,191.4L406.3,193.6L407.3,194.8L409.5,195.1L410.1,196.4L409.5,197.4L411.1,199.0L409.9,201.3L408.3,201.5L408.6,200.3L406.4,198.9L405.6,199.9L403.9,199.0L403.0,198.2L403.7,197.1L403.1,196.1L402.3,194.7L403.0,193.8L402.1,193.0Z" fill="#d9f0a3"/>
<path d="M405.0,200.7L405.6,199.9L406.4,198.9L408.6,200.3L408.3,201.5L406.3,202.5Z" fill="url(#h)" stroke="#c8c8c8" stroke-opacity="1"/>
<path d="M403.7,202.5L403.9,204.0L403.9,206.3L405.6,208.1L406.8,207.1L407.4,205.1L406.3,204.0L406.3,202.5L405.0,200.7L404.1,200.8Z" fill="#f7fcb9"/>
<path d="M406.3,202.5L408.3,201.5L409.9,201.3L411.5,202.8L411.5,203.8L409.5,204.3L407.4,205.1L406.3,204.0Z" fill="#f7fcb9"/>
<path d="M405.6,208.1L407.2,210.2L408.2,211.7L408.8,213.4L409.8,215.6L411.7,216.8L413.2,216.7L412.1,213.9L412.9,212.7L414.7,213.5L414.5,211.5L412.2,210.2L411.9,208.9L411.1,207.3L411.4,206.0L412.7,206.7L413.5,207.5L414.9,206.9L413.9,205.5L414.7,204.9L418.2,205.3L418.3,205.4L418.6,202.9L416.5,204.1L414.3,203.3L411.5,203.8L409.5,204.3L407.4,205.1L406.8,207.1ZM414.1,219.7L415.6,219.0L419.2,219.7L420.3,219.9L417.1,220.6ZM412.8,210.2L415.0,212.1L415.9,212.6L413.5,210.5ZM423.3,217.0L424.1,216.8L424.1,218.1ZM418.6,209.4L419.7,209.4L419.1,210.1Z" fill="#addd8e"/>
<path d="M422.0,202.1L421.2,200.3L421.4,199.0L422.7,197.6L419.2,196.5L416.0,197.8L410.9,197.4L410.1,196.4L409.5,197.4L411.1,199.0L409.9,201.3L411.5,202.8L411.5,203.8L414.3,203.3L416.5,204.1L418.6,202.9L419.9,201.9Z" fill="#d9f0a3"/>
<path d="M422.7,197.6L422.6,196.1L424.4,193.8L421.3,193.2L420.7,190.2L418.6,187.6L417.0,186.0L413.9,187.3L410.1,186.6L409.5,186.7L407.8,187.9L406.6,190.2L404.5,191.4L406.3,193.6L407.3,194.8L409.5,195.1L410.1,196.4L410.9,197.4L416.0,197.8L419.2,196.5Z" fill="#addd8e"/>
<path d="M421.3,193.2L422.8,191.8L424.9,190.7L422.6,188.0L422.2,186.7L419.4,185.5L417.0,186.0L418.6,187.6L420.7,190.2Z" fill="#78c679"/>
<path d="M424.4,193.8L426.1,190.5L428.3,190.2L432.1,191.5L430.3,193.4L432.7,195.4L434.2,195.8L436.5,194.3L438.7,194.1L435.8,192.8L435.2,191.5L438.0,190.0L441.3,188.9L441.3,187.6L444.2,187.0L443.7,182.5L439.5,181.6L435.2,180.5L433.7,178.5L431.3,178.2L430.5,175.7L428.5,175.6L425.9,176.2L423.8,178.2L420.5,177.4L416.4,176.9L412.4,176.7L409.8,177.4L411.0,179.5L409.1,182.0L408.4,183.8L407.8,185.6L409.5,186.7L410.1,186.6L413.9,187.3L417.0,186.0L419.4,185.5L422.2,186.7L422.6,188.0L424.9,190.7L422.8,191.8L421.3,193.2Z" fill="#d9f0a3"/>
<path d="M425.9,176.2L424.7,173.4L427.0,172.8L423.1,169.9L422.2,167.4L416.8,166.1L414.0,167.2L414.6,168.2L412.8,169.1L412.5,170.9L408.7,171.5L409.9,174.4L408.7,175.8L409.8,177.4L412.4,176.7L416.4,176.9L420.5,177.4L423.8,178.2Z" fill="#d9f0a3"/>
<path d="M418.3,205.4L418.8,207.2L421.3,205.0L424.3,204.7L424.6,204.1L422.0,202.1L419.9,201.9L418.6,202.9Z" fill="#78c679"/>
<path d="M357.7,220.2L355.9,219.7L352.6,219.9L350.7,218.1L349.6,218.4L347.5,223.1L345.7,224.1L343.5,225.2L341.9,227.0L340.7,229.7L341.0,232.6L339.8,235.2L337.6,236.8L333.4,239.0L332.7,239.8L343.0,239.8L343.0,237.0L346.6,234.7L350.2,233.9L354.5,231.8L354.5,229.4L359.6,228.1L359.8,227.0L358.7,224.4L358.5,222.0Z" fill="#addd8e"/>
<path d="M332.7,239.8L329.7,243.4L326.1,250.2L323.9,254.7L323.5,257.8L323.8,256.4L332.8,256.4L332.9,252.0L335.2,250.9L335.3,244.2L342.9,244.2L342.9,240.7L343.0,239.8Z" fill="url(#h)" stroke="#c8c8c8" stroke-opacity="1"/>
<path d="M323.5,257.8L325.3,261.3L325.7,265.2L324.5,270.3L327.9,268.8L330.7,270.2L332.7,272.1L334.2,273.8L336.0,271.5L337.8,272.1L340.8,271.8L349.8,271.8L347.7,246.8L351.5,246.8L342.9,240.7L342.9,244.2L335.3,244.2L335.2,250.9L332.9,252.0L332.8,256.4L323.8,256.4Z" fill="#addd8e"/>
<path d="M334.2,273.8L336.0,271.5L337.8,272.1L340.8,271.8L349.8,271.8L347.7,246.8L351.5,246.8L365.1,257.1L365.2,258.1L369.8,260.5L370.1,262.6L372.3,262.2L372.3,268.1L370.6,272.1L365.5,272.3L363.0,273.2L360.9,273.0L357.9,275.2L355.6,276.8L352.5,278.1L352.3,280.2L350.2,281.5L349.7,285.1L348.1,284.7L346.5,285.5L343.9,285.7L343.0,282.9L341.0,280.2L338.6,280.5L336.1,280.0L336.1,278.5L334.5,274.8Z" fill="#ffffe5"/>
<path d="M324.5,270.3L322.1,273.9L323.6,276.3L323.7,278.2L323.8,280.1L327.8,279.3L330.8,279.3L334.0,280.2L336.1,280.0L336.1,278.5L334.5,274.8L334.2,273.8L332.7,272.1L330.7,270.2L327.9,268.8Z" fill="#ffffe5"/>
<path d="M323.6,276.8L327.8,276.3L330.6,277.1L330.6,277.8L327.8,277.6L323.6,278.1Z" fill="#addd8e"/>
<path d="M323.8,280.1L325.4,281.5L327.7,283.8L330.0,281.9L330.8,279.3L327.8,279.3Z" fill="#ffffe5"/>
<path d="M327.7,283.8L328.8,285.5L330.7,287.6L331.6,288.8L333.5,286.7L336.5,286.3L337.9,288.6L338.6,290.2L340.4,290.5L340.9,292.3L342.7,292.6L343.4,290.2L344.6,287.9L343.9,285.7L343.0,282.9L341.0,280.2L338.6,280.5L336.1,280.0L334.0,280.2L330.8,279.3L330.0,281.9Z" fill="#ffffe5"/>
<path d="M331.6,288.8L331.8,290.2L333.4,293.1L335.7,294.4L337.8,292.1L338.6,290.2L337.9,288.6L336.5,286.3L333.5,286.7Z" fill="#f7fcb9"/>
<path d="M335.7,294.4L337.4,296.0L341.5,299.4L345.0,301.1L344.8,297.1L342.9,295.5L342.7,292.6L340.9,292.3L340.4,290.5L338.6,290.2L337.8,292.1Z" fill="#addd8e"/>
<path d="M345.0,301.1L348.5,300.0L353.2,298.8L355.3,299.2L355.1,294.7L356.7,291.0L356.0,287.6L353.7,286.5L351.6,287.1L349.7,285.1L348.1,284.7L346.5,285.5L343.9,285.7L344.6,287.9L343.4,290.2L342.7,292.6L342.9,295.5L344.8,297.1Z" fill="#ffffe5"/>
<path d="M355.3,299.2L357.8,300.1L362.0,298.1L365.3,296.5L363.9,294.2L363.7,290.2L363.4,286.3L362.3,283.4L356.0,283.6L356.0,287.6L356.7,291.0L355.1,294.7Z" fill="#addd8e"/>
<path d="M349.7,285.1L350.2,281.5L352.3,280.2L352.5,278.1L355.6,276.8L357.9,275.2L360.9,273.0L363.0,273.2L364.7,276.8L364.8,278.4L367.4,279.2L368.1,281.3L364.6,283.6L362.3,283.4L356.0,283.6L356.0,287.6L353.7,286.5L351.6,287.1Z" fill="#f7fcb9"/>
<path d="M365.3,296.5L366.3,296.2L366.2,288.9L364.4,285.2L364.6,283.6L362.3,283.4L363.4,286.3L363.7,290.2L363.9,294.2Z" fill="#d9f0a3"/>
<path d="M366.3,296.2L368.8,295.9L368.9,288.9L370.9,285.7L370.8,281.8L369.0,280.0L368.1,281.3L364.6,283.6L364.4,285.2L366.2,288.9Z" fill="#addd8e"/>
<path d="M368.8,295.9L370.4,295.8L373.0,296.0L374.1,297.9L375.3,300.0L376.7,301.3L379.3,300.9L382.3,300.5L383.2,297.3L385.3,295.2L387.2,294.2L388.8,295.2L390.0,294.2L390.9,291.0L392.3,290.0L394.5,283.6L395.4,280.0L395.1,278.2L394.0,276.5L391.4,278.1L385.6,277.6L383.3,278.8L380.5,277.6L378.5,278.4L375.2,276.0L372.0,277.1L370.8,281.8L370.9,285.7L368.9,288.9Z" fill="#addd8e"/>
<path d="M363.0,273.2L365.5,272.3L370.6,272.1L372.3,268.1L372.3,262.2L375.8,261.4L379.7,257.6L389.7,250.7L394.9,253.1L396.7,252.0L398.2,258.6L398.2,268.1L394.0,276.5L391.4,278.1L385.6,277.6L383.3,278.8L380.5,277.6L378.5,278.4L375.2,276.0L372.0,277.1L370.8,281.8L369.0,280.0L368.1,281.3L367.4,279.2L364.8,278.4L364.7,276.8Z" fill="#ffffe5"/>
<path d="M394.0,276.5L398.2,268.1L398.2,258.6L396.7,252.0L417.5,261.3L417.9,271.3L415.3,271.8L414.0,275.0L413.4,278.4L415.6,282.6L415.6,283.8L412.9,284.7L409.0,288.6L406.7,289.2L404.4,291.8L398.6,292.9L397.4,289.7L395.0,287.3L398.3,286.3L397.3,282.3L397.4,280.7L396.3,279.2L395.1,278.2Z" fill="#ffffe5"/>
<path d="M382.3,300.5L385.1,302.1L385.3,306.5L385.3,306.8L389.0,306.8L393.5,306.8L396.3,307.1L400.3,308.1L400.3,306.8L400.0,304.7L397.5,302.3L396.5,299.4L396.7,296.8L398.6,292.9L397.4,289.7L395.0,287.3L398.3,286.3L397.3,282.3L397.4,280.7L396.3,279.2L395.1,278.2L395.4,280.0L394.5,283.6L392.3,290.0L390.9,291.0L390.0,294.2L388.8,295.2L387.2,294.2L385.3,295.2L383.2,297.3Z" fill="#addd8e"/>
<path d="M385.3,306.8L384.9,310.0L389.0,310.0L389.0,306.8Z" fill="#d9f0a3"/>
<path d="M384.9,310.0L384.4,311.5L383.0,314.4L384.9,318.9L388.4,322.9L390.2,321.8L389.5,320.0L391.6,318.7L392.8,318.9L396.1,317.6L396.3,314.2L394.9,312.6L395.9,309.4L393.5,309.2L393.5,306.8L389.0,306.8L389.0,310.0Z" fill="#addd8e"/>
<path d="M388.4,322.9L390.0,324.7L390.5,325.8L391.9,324.2L393.0,324.7L396.0,325.5L398.2,323.9L400.3,318.4L401.2,315.8L403.8,313.9L404.3,311.3L404.7,307.3L405.9,303.4L403.3,303.1L401.2,303.4L400.3,306.8L400.3,308.1L396.3,307.1L393.5,306.8L393.5,309.2L395.9,309.4L394.9,312.6L396.3,314.2L396.1,317.6L392.8,318.9L391.6,318.7L389.5,320.0L390.2,321.8Z" fill="#78c679"/>
<path d="M390.5,325.8L391.9,324.2L393.0,324.7L392.6,325.8L391.6,326.0L390.9,327.7Z" fill="#ffffe5"/>
<path d="M390.9,327.7L391.6,326.0L392.6,325.8L393.0,324.7L396.0,325.5L398.2,323.9L400.3,318.4L401.2,315.8L403.8,313.9L404.3,311.3L404.7,307.3L405.9,303.4L405.8,301.3L407.7,299.2L410.3,300.8L414.7,301.8L415.9,300.2L418.4,299.7L421.9,298.9L426.3,299.3L427.7,301.0L431.2,301.0L434.5,303.4L434.2,306.3L435.5,306.9L432.9,309.4L432.2,311.3L431.5,313.9L431.5,316.3L430.6,317.1L430.1,319.7L430.7,321.3L431.0,324.3L431.2,328.4L434.0,334.2L429.7,335.0L428.5,337.1L428.3,343.7L429.7,345.2L431.5,344.6L431.4,348.0L429.6,347.9L428.3,345.8L425.6,343.1L422.8,343.9L421.4,342.3L418.2,341.3L414.2,342.1L413.4,337.6L413.2,331.8L410.2,331.0L407.6,331.0L407.6,333.7L403.4,333.9L401.8,331.6L401.2,328.1L392.8,328.1L391.1,328.5Z" fill="#ffffe5"/>
<path d="M400.3,306.8L400.0,304.7L397.5,302.3L396.5,299.4L396.7,296.8L398.6,292.9L404.4,291.8L406.7,289.2L409.0,288.6L412.9,284.7L415.6,283.8L417.3,286.5L417.3,289.4L418.8,290.2L420.9,292.1L424.0,296.0L426.3,299.3L421.9,298.9L418.4,299.7L415.9,300.2L414.7,301.8L410.3,300.8L407.7,299.2L405.8,301.3L405.9,303.4L403.3,303.1L401.2,303.4Z" fill="#ffffe5"/>
<path d="M417.3,289.4L420.1,286.8L424.1,287.6L427.5,287.9L431.0,286.0L434.5,286.9L437.6,281.8L439.4,280.5L439.5,284.2L441.7,287.7L441.8,290.0L439.2,291.8L441.6,293.4L444.0,296.8L446.1,300.5L441.7,301.5L439.4,302.6L437.1,303.1L434.5,303.4L431.2,301.0L427.7,301.0L426.3,299.3L424.0,296.0L420.9,292.1L418.8,290.2Z" fill="url(#h)" stroke="#c8c8c8" stroke-opacity="1"/>
<path d="M446.7,254.7L447.6,257.3L447.8,261.0L448.6,263.4L451.2,265.2L448.6,267.8L447.6,269.7L446.8,272.8L446.8,275.0L446.1,279.2L443.9,281.5L443.5,283.9L442.1,284.7L441.7,287.7L439.5,284.2L439.4,280.5L437.6,281.8L434.5,286.9L431.0,286.0L427.5,287.9L424.1,287.6L420.1,286.8L417.3,289.4L417.3,286.5L415.6,283.8L415.6,282.6L413.4,278.4L414.0,275.0L415.3,271.8L417.9,271.3L417.5,261.3L417.5,259.9L419.8,259.9L419.6,254.7Z" fill="#ffffe5"/>
<path d="M418.5,229.3L423.3,230.1L427.3,231.4L429.4,230.2L431.5,229.5L434.5,230.2L438.7,230.2L440.8,234.9L440.0,238.9L439.6,239.5L437.1,237.3L435.5,233.8L435.0,234.7L437.0,238.0L438.8,240.9L439.2,242.2L440.1,243.9L441.7,246.6L443.3,249.7L446.7,254.7L419.6,254.7L418.6,235.7L417.8,233.6L418.5,229.3Z" fill="#78c679"/>
<path d="M388.1,225.3L391.8,226.0L396.2,227.3L397.5,229.9L401.6,231.3L405.0,232.8L407.3,231.3L407.0,228.1L410.6,226.0L414.0,226.8L415.8,228.1L418.5,229.3L417.8,233.6L418.6,235.7L419.6,254.7L419.8,259.9L417.5,259.9L417.5,261.3L396.7,252.0L394.9,253.1L389.7,250.7L385.2,248.1L383.8,243.9L384.9,242.8L384.8,238.1L383.9,233.0L385.5,231.3L385.4,228.9L388.0,227.0Z" fill="#d9f0a3"/>
<path d="M388.1,225.3L384.8,223.4L386.2,221.1L386.3,218.4L385.4,216.8L386.7,215.1L385.0,215.6L383.9,214.3L381.2,215.3L380.5,217.8L380.8,220.5L379.0,222.8L379.1,223.6L380.4,225.5L382.6,228.1L383.9,233.0L385.5,231.3L385.4,228.9L388.0,227.0Z" fill="#d9f0a3"/>
<path d="M357.7,220.2L361.2,218.5L364.7,216.7L369.2,215.7L373.6,215.7L377.5,215.5L379.4,215.5L381.2,215.3L380.5,217.8L380.8,220.5L379.0,222.8L379.1,223.6L380.4,225.5L382.6,228.1L383.9,233.0L384.8,238.1L384.9,242.8L383.8,243.9L385.2,248.1L389.7,250.7L379.7,257.6L375.8,261.4L372.3,262.2L370.1,262.6L369.8,260.5L365.2,258.1L365.1,257.1L351.5,246.8L342.9,240.7L343.0,239.8L343.0,237.0L346.6,234.7L350.2,233.9L354.5,231.8L354.5,229.4L359.6,228.1L359.8,227.0L358.7,224.4L358.5,222.0Z" fill="#d9f0a3"/>
<path d="M451.2,265.2L453.6,271.5L456.8,273.9L460.6,277.8L462.3,279.2L460.7,279.8L457.3,276.3L454.9,274.4L452.6,274.2L450.0,273.4L446.8,275.0L446.8,272.8L447.6,269.7L448.6,267.8Z" fill="#ffffe5"/>
<path d="M462.3,279.2L462.8,281.1L461.3,282.2L462.8,282.4L462.1,283.7L459.5,283.6L459.3,282.3L460.7,279.8Z" fill="#005a32"/>
<path d="M462.8,282.4L464.6,285.1L467.0,285.2L471.5,283.4L476.1,282.9L481.4,281.5L481.1,285.2L478.8,291.5L475.5,298.1L469.7,306.3L468.2,307.3L464.0,311.3L461.8,313.4L459.4,316.9L458.1,314.8L458.1,305.2L460.1,302.2L462.7,300.5L467.3,299.4L474.1,291.5L471.8,291.5L464.7,288.9L462.4,287.3L462.1,283.7Z" fill="#d9f0a3"/>
<path d="M446.8,275.0L450.0,273.4L452.6,274.2L454.9,274.4L457.3,276.3L460.7,279.8L459.3,282.3L459.5,283.6L462.1,283.7L462.4,287.3L464.7,288.9L471.8,291.5L474.1,291.5L467.3,299.4L462.7,300.5L460.1,302.2L457.6,301.5L454.8,303.4L451.3,303.1L448.5,301.0L446.1,300.5L444.0,296.8L441.6,293.4L439.2,291.8L441.8,290.0L441.7,287.7L442.1,284.7L443.5,283.9L443.9,281.5L446.1,279.2Z" fill="#f7fcb9"/>
<path d="M459.4,316.9L456.2,319.7L455.0,323.3L453.8,324.9L450.4,321.8L450.1,320.5L441.6,315.2L441.8,312.1L443.0,309.7L444.1,307.6L442.7,303.4L441.7,301.5L446.1,300.5L448.5,301.0L451.3,303.1L454.8,303.4L457.6,301.5L460.1,302.2L458.1,305.2L458.1,314.8Z" fill="#d9f0a3"/>
<path d="M441.7,301.5L442.7,303.4L444.1,307.6L443.0,309.7L441.8,312.1L441.6,315.2L433.6,315.2L431.5,316.3L431.5,313.9L432.2,311.3L432.9,309.4L435.5,306.9L434.2,306.3L434.5,303.4L437.1,303.1L439.4,302.6Z" fill="#addd8e"/>
<path d="M431.5,316.3L433.6,315.2L434.4,318.7L433.6,318.9L432.2,318.8L430.1,319.7L430.6,317.1Z" fill="#78c679"/>
<path d="M430.1,319.7L432.2,318.8L433.6,318.9L434.4,321.3L432.4,323.9L431.0,324.3L430.7,321.3Z" fill="#ffffe5"/>
<path d="M453.8,324.9L452.8,328.4L454.0,330.5L454.3,333.7L454.9,338.9L456.4,340.2L451.8,342.6L449.4,343.4L445.5,342.6L443.5,343.0L442.8,341.6L441.5,337.6L439.0,337.3L434.6,335.2L434.0,334.2L431.2,328.4L431.0,324.3L432.4,323.9L434.4,321.3L433.6,318.9L434.4,318.7L433.6,315.2L441.6,315.2L450.1,320.5L450.4,321.8Z" fill="#ffffe5"/>
<path d="M443.5,343.0L442.4,345.5L442.5,348.1L445.4,351.8L445.1,354.7L443.8,357.6L441.8,355.5L442.2,352.1L439.3,349.5L438.1,348.4L438.9,345.5L440.2,341.6L439.1,338.9L439.0,337.3L441.5,337.6L442.8,341.6Z" fill="#f7fcb9"/>
<path d="M391.1,328.5L393.2,335.8L394.5,341.6L393.5,345.2L391.4,348.1L390.2,352.6L389.5,358.0L393.6,357.4L394.7,358.4L405.1,358.4L410.8,359.7L416.3,358.9L413.2,355.2L413.4,346.8L418.1,346.8L418.2,341.3L414.2,342.1L413.4,337.6L413.2,331.8L410.2,331.0L407.6,331.0L407.6,333.7L403.4,333.9L401.8,331.6L401.2,328.1L392.8,328.1Z" fill="#ffffe5"/>
<path d="M418.2,341.3L421.4,342.3L422.8,343.9L425.6,343.1L428.3,345.8L429.6,347.9L431.4,348.0L431.5,344.6L429.7,345.2L428.3,343.7L428.5,337.1L429.7,335.0L434.0,334.2L434.6,335.2L439.0,337.3L439.1,338.9L440.2,341.6L438.9,345.5L438.1,348.4L439.3,349.5L432.3,352.1L432.6,353.8L429.1,354.7L424.6,359.9L420.6,359.5L417.7,358.7L416.3,358.9L413.2,355.2L413.4,346.8L418.1,346.8Z" fill="#addd8e"/>
<path d="M389.5,358.0L391.2,362.1L393.2,367.4L395.5,372.9L395.4,377.1L396.9,382.6L399.5,387.9L401.6,388.2L402.9,388.7L405.2,388.8L407.5,387.4L407.9,377.8L408.2,370.5L410.4,370.5L410.8,360.8L416.1,360.0L418.4,360.0L420.6,359.5L417.7,358.7L416.3,358.9L410.8,359.7L405.1,358.4L394.7,358.4L393.6,357.4Z" fill="#addd8e"/>
<path d="M407.9,377.8L408.2,370.5L410.4,370.5L410.8,360.8L416.1,360.0L418.4,360.0L420.6,359.5L422.2,362.6L425.0,366.6L426.5,369.5L429.5,371.0L426.3,372.9L423.7,376.3L421.1,378.4L419.1,380.4L414.7,379.2L411.3,383.3L409.3,383.3Z" fill="#78c679"/>
<path d="M420.6,359.5L424.6,359.9L429.1,354.7L432.6,353.8L438.3,356.0L438.4,358.7L437.8,362.6L437.9,365.3L436.6,368.7L433.9,371.6L429.5,371.0L426.5,369.5L425.0,366.6L422.2,362.6Z" fill="#d9f0a3"/>
<path d="M456.4,340.2L456.5,345.5L456.8,350.8L456.0,353.4L453.5,356.0L449.9,358.1L447.3,359.7L443.5,363.9L442.4,364.9L442.6,367.9L443.5,370.5L443.3,375.3L438.5,378.9L436.3,380.9L436.8,383.3L435.0,383.3L434.8,380.9L435.2,377.1L434.2,374.5L433.9,371.6L436.6,368.7L437.9,365.3L437.8,362.6L438.4,358.7L438.3,356.0L432.6,353.8L432.3,352.1L439.3,349.5L442.2,352.1L441.8,355.5L443.8,357.6L445.1,354.7L445.4,351.8L442.5,348.1L442.4,345.5L443.5,343.0L445.5,342.6L449.4,343.4L451.8,342.6Z" fill="#d9f0a3"/>
<path d="M399.5,387.9L401.6,388.2L402.9,388.7L405.2,388.8L407.5,387.4L407.9,377.8L409.3,383.3L411.3,383.3L414.7,379.2L419.1,380.4L421.1,378.4L423.7,376.3L426.3,372.9L429.5,371.0L433.9,371.6L434.2,374.5L435.2,377.1L434.8,380.9L435.0,383.3L436.8,383.3L434.4,388.4L431.9,391.3L429.4,394.7L424.3,399.5L419.2,402.1L417.2,402.6L411.0,402.4L406.5,404.2L405.0,403.7L403.3,403.0L403.1,402.1L402.2,399.5L402.5,397.6L401.0,392.9L399.5,387.9Z" fill="#78c679"/>
<path d="M434.8,380.9L435.0,383.3L432.5,384.2L432.1,382.4L433.2,380.5Z" fill="#41ab5d"/>
<path d="M423.0,390.5L425.4,388.2L427.4,388.4L428.4,390.3L426.2,392.9L424.0,392.6Z" fill="#addd8e"/>
<path d="M476.7,344.2L479.0,353.4L477.2,357.4L476.1,360.0L473.4,367.9L469.2,378.4L465.6,379.9L462.4,378.4L461.3,371.3L464.2,365.3L463.6,361.3L464.9,355.2L469.3,353.9L473.2,350.8L473.5,348.1L475.8,345.2Z" fill="#ffffe5"/>
<path d="M424.7,204.2L429.5,204.0L433.3,202.1L436.9,202.0L440.0,204.0L443.8,204.7L448.0,204.7L451.1,203.4L453.8,203.4L455.4,204.5L456.4,207.1L459.0,208.1L458.2,208.9L457.5,210.0L458.4,211.5L460.1,214.7L456.1,214.3L454.8,214.9L449.8,215.7L445.4,215.7L442.5,215.7L442.5,217.3L442.2,218.0L441.2,218.0L441.5,216.3L440.0,216.3L438.0,215.7L436.2,217.4L434.3,217.7L432.4,216.5L429.5,215.6L429.0,217.2L426.0,216.3L424.0,215.7L422.2,215.2L421.5,212.8L419.5,211.8L420.7,211.3L420.1,209.2L418.6,208.6L418.8,207.3L421.1,206.3L424.7,206.3L426.5,205.4L424.7,204.7Z" fill="#78c679"/>
<path d="M433.5,220.3L435.0,219.5L438.3,218.8L437.0,220.2L437.4,220.5L435.2,221.5L433.8,221.1Z" fill="#41ab5d"/>
<path d="M451.1,203.4L451.0,201.7L449.2,199.5L446.9,198.5L451.2,199.0L454.6,199.9L456.8,200.3L459.4,200.8L461.3,202.4L461.2,204.2L458.6,204.0L455.4,204.5L453.8,203.4Z" fill="#41ab5d"/>
<path d="M455.4,204.5L458.6,204.0L460.1,205.3L461.1,206.8L462.7,208.6L463.0,210.3L461.9,210.3L460.6,208.6L459.0,208.1L456.4,207.1Z" fill="#78c679"/>
<path d="M461.3,202.4L462.7,203.3L464.6,204.2L465.9,202.5L467.5,204.7L470.5,206.4L468.8,206.8L468.8,209.2L468.4,211.4L466.3,210.5L466.6,208.9L465.4,208.1L463.0,210.3L462.7,208.6L461.1,206.8L460.1,205.3L458.6,204.0L461.2,204.2ZM459.0,208.1L460.6,208.6L461.9,210.3L460.6,210.0Z" fill="#d9f0a3"/>
<path d="M441.2,218.0L441.6,221.4L442.7,221.8L442.1,224.1L441.7,224.9L441.8,226.4L444.2,227.6L448.3,224.7L452.9,222.0L452.9,218.9L452.9,216.5L454.8,214.9L449.8,215.7L445.4,215.7L442.5,215.7L442.5,217.3L442.2,218.0Z" fill="#f7fcb9"/>
<path d="M441.6,221.4L440.9,223.4L440.2,225.5L441.7,224.9L442.1,224.1L442.7,221.8Z" fill="#238443"/>
<path d="M440.2,225.5L439.8,228.2L438.7,230.2L440.8,234.9L440.9,234.9L441.5,231.0L441.6,229.7L441.4,227.3L441.8,226.4L441.7,224.9Z" fill="#238443"/>
<path d="M441.8,226.4L444.2,227.6L448.3,224.7L449.6,228.0L444.9,229.7L447.5,232.3L446.5,233.6L443.3,235.7L440.9,235.3L441.5,231.0L441.6,229.7L441.4,227.3Z" fill="#78c679"/>
<path d="M448.3,224.7L452.9,222.0L452.9,218.9L452.9,216.5L454.8,214.9L456.1,214.3L460.1,214.7L461.9,217.8L464.1,220.2L462.7,223.1L464.4,225.7L469.0,228.9L468.9,231.0L471.3,233.8L470.0,233.8L468.7,233.6L467.0,236.0L462.8,235.7L456.2,230.7L452.4,228.6L449.6,228.0Z" fill="#ffffe5"/>
<path d="M467.0,236.0L468.7,233.6L470.0,233.8L471.3,237.4L469.8,237.6L469.1,236.3Z" fill="url(#h)" stroke="#c8c8c8" stroke-opacity="1"/>
<path d="M440.9,235.3L443.3,235.7L446.5,233.6L447.5,232.3L444.9,229.7L449.6,228.0L452.4,228.6L456.2,230.7L462.8,235.7L467.0,236.0L469.1,236.3L469.8,237.6L471.3,237.4L474.2,240.7L476.0,242.6L476.0,244.4L477.9,247.4L479.0,248.0L479.8,248.8L482.4,252.2L488.2,252.8L489.5,254.7L488.5,259.9L481.8,262.6L475.3,263.6L473.3,264.7L470.7,267.8L464.7,266.8L462.3,266.5L461.1,269.4L459.1,265.7L457.1,263.1L454.1,259.2L451.8,256.0L450.2,252.0L449.0,249.2L447.0,247.6L445.0,243.5L441.8,238.9L440.4,238.6Z" fill="#d9f0a3"/>
<path d="M479.0,248.0L477.9,247.4L477.7,245.5L478.4,243.8L479.4,244.4L479.6,246.8Z" fill="#005a32"/>
<path d="M461.1,269.4L461.6,273.4L462.7,277.6L463.2,279.3L466.7,278.9L470.1,277.3L474.6,275.7L476.0,274.4L480.3,272.6L483.0,271.5L484.8,268.8L481.8,262.6L475.3,263.6L473.3,264.7L470.7,267.8L464.7,266.8L462.3,266.5Z" fill="#addd8e"/>
<path d="M484.8,268.8L487.1,267.8L489.7,266.3L492.1,265.2L495.2,262.6L494.6,259.2L496.4,258.9L498.9,253.4L495.9,250.5L491.4,248.4L490.5,246.9L489.4,248.9L488.2,252.8L489.5,254.7L488.5,259.9L481.8,262.6ZM489.5,244.2L490.1,243.2L490.4,245.2Z" fill="#78c679"/>
<path d="M488.2,252.8L482.4,252.2L479.8,248.8L482.1,248.9L484.4,249.2L486.1,248.2L487.9,246.1L489.4,244.0L490.2,245.2L490.4,246.5L490.5,246.9L489.4,248.9Z" fill="url(#h)" stroke="#c8c8c8" stroke-opacity="1"/>
<path d="M468.4,211.4L469.0,213.6L471.7,214.2L475.0,216.3L478.1,215.6L480.2,215.2L479.8,214.3L484.0,212.3L486.5,211.9L489.6,213.5L492.1,214.8L494.6,216.3L495.9,216.1L496.7,218.9L496.1,222.3L496.2,224.0L498.2,229.7L500.0,229.9L500.5,231.4L498.9,234.0L500.8,236.3L503.8,238.2L504.2,240.9L505.6,242.4L502.4,243.5L502.3,246.3L497.4,245.7L492.3,244.8L491.3,242.0L489.6,241.1L486.4,242.8L483.4,242.2L481.1,240.5L478.3,239.1L476.6,236.5L474.7,233.4L472.1,232.6L471.3,233.8L468.9,231.0L469.0,228.9L464.4,225.7L462.7,223.1L464.1,220.2L461.9,217.8L460.1,214.7L458.4,211.5L457.5,210.0L458.2,208.9L459.0,208.1L460.6,210.0L461.9,210.3L463.0,210.3L465.4,208.1L466.6,208.9L466.3,210.5Z" fill="#f7fcb9"/>
<path d="M479.8,214.3L479.0,210.2L476.8,208.9L476.3,207.3L475.3,204.2L477.7,203.7L474.3,202.8L477.1,201.2L480.9,204.0L482.0,204.0L484.3,204.0L483.8,202.4L486.4,200.4L489.9,201.6L490.7,203.7L494.8,204.5L496.7,207.3L501.2,210.1L507.3,214.3L505.3,214.4L503.7,214.9L503.5,217.0L500.7,218.2L499.4,219.8L496.7,218.9L495.9,216.1L494.6,216.3L492.1,214.8L489.6,213.5L486.5,211.9L484.0,212.3Z" fill="#addd8e"/>
<path d="M482.0,204.0L479.6,194.3L484.5,192.9L490.5,196.0L493.2,198.2L499.2,197.7L502.3,199.5L502.8,202.1L504.7,204.2L507.8,204.5L508.4,205.5L509.8,203.8L512.4,202.0L513.3,201.5L512.4,203.4L515.2,203.6L516.8,204.6L518.9,205.1L517.0,206.6L514.9,206.7L513.9,206.8L510.9,205.4L509.8,206.8L507.7,208.6L510.8,212.1L510.1,214.7L507.3,214.3L501.2,210.1L496.7,207.3L494.8,204.5L490.7,203.7L489.9,201.6L486.4,200.4L483.8,202.4L484.3,204.0Z" fill="url(#h)" stroke="#c8c8c8" stroke-opacity="1"/>
<path d="M474.3,202.8L473.6,200.0L470.6,199.0L469.2,196.4L467.9,195.4L469.6,193.6L473.1,193.6L472.0,189.4L467.8,189.2L464.0,190.7L462.0,187.6L459.2,186.9L457.6,185.6L458.2,183.5L457.3,181.7L461.0,181.7L460.7,180.0L464.0,177.2L467.6,177.7L473.3,179.7L478.0,178.7L482.6,180.0L486.1,179.5L482.1,176.4L483.3,174.2L482.7,171.4L487.9,170.6L490.2,170.5L495.4,168.9L500.3,168.2L501.9,170.9L506.7,171.5L512.8,170.4L512.8,171.7L516.3,173.2L523.7,179.5L526.6,179.6L530.1,179.0L535.7,182.5L540.4,183.8L537.8,185.6L539.1,188.4L533.6,188.7L534.0,193.0L529.7,194.6L532.0,198.7L532.8,201.6L529.7,200.0L522.8,199.7L519.2,199.0L518.4,201.1L514.5,200.0L513.3,201.5L512.4,202.0L509.8,203.8L508.4,205.5L507.8,204.5L504.7,204.2L502.8,202.1L502.3,199.5L499.2,197.7L493.2,198.2L490.5,196.0L484.5,192.9L479.6,194.3L482.0,204.0L480.9,204.0L477.1,201.2Z" fill="#f7fcb9"/>
<path d="M513.3,201.5L514.5,200.0L518.4,201.1L519.2,199.0L522.8,199.7L529.7,200.0L532.8,201.6L529.8,203.7L526.9,204.7L522.9,206.0L521.3,207.9L521.3,208.8L517.4,209.2L513.3,208.4L513.9,206.8L514.9,206.7L517.0,206.6L518.9,205.1L516.8,204.6L515.2,203.6L512.4,203.4Z" fill="#f7fcb9"/>
<path d="M513.9,206.8L513.3,208.4L517.4,209.2L521.3,208.8L522.5,211.3L524.7,211.4L525.6,214.6L521.9,214.0L518.8,216.0L517.2,212.6L515.8,211.4L514.9,212.8L513.6,214.7L510.7,215.2L510.1,214.7L510.8,212.1L507.7,208.6L509.8,206.8L510.9,205.4Z" fill="#d9f0a3"/>
<path d="M496.7,218.9L499.4,219.8L500.7,218.2L503.5,217.0L503.7,214.9L505.3,214.4L507.3,214.3L510.1,214.7L510.7,215.2L513.6,214.7L514.9,212.8L515.8,211.4L517.2,212.6L518.8,216.0L521.9,214.0L525.6,214.6L525.0,215.1L520.7,215.7L518.9,216.7L518.9,220.7L519.4,223.0L517.0,223.1L517.3,225.5L516.6,228.6L513.9,229.3L511.7,230.3L511.1,233.9L506.1,235.1L502.7,235.2L498.9,234.0L500.5,231.4L500.0,229.9L498.2,229.7L496.2,224.0L496.1,222.3Z" fill="url(#h)" stroke="#c8c8c8" stroke-opacity="1"/>
<path d="M502.3,246.3L508.8,246.3L513.3,245.6L514.6,247.3L516.0,249.7L517.7,250.2L518.9,248.6L523.9,248.4L522.5,244.9L521.0,242.8L519.4,241.5L521.3,238.9L524.3,236.8L526.0,233.9L527.8,232.6L528.9,230.7L528.4,228.4L530.0,227.6L526.3,225.2L525.4,221.2L531.4,220.5L533.2,219.1L528.9,217.8L528.2,216.3L525.0,215.1L520.7,215.7L518.9,216.7L518.9,220.7L519.4,223.0L517.0,223.1L517.3,225.5L516.6,228.6L513.9,229.3L511.7,230.3L511.1,233.9L506.1,235.1L502.7,235.2L498.9,234.0L500.8,236.3L503.8,238.2L504.2,240.9L505.6,242.4L502.4,243.5Z" fill="#d9f0a3"/>
<path d="M517.7,250.2L519.3,252.0L522.7,252.3L520.0,254.2L523.8,257.8L525.0,258.1L527.3,256.5L528.2,254.2L528.4,256.0L529.3,259.9L529.7,262.6L531.3,267.8L533.1,272.1L535.7,278.6L538.3,283.1L539.7,286.5L541.5,290.7L542.8,291.3L544.1,289.2L546.3,288.1L547.8,285.5L547.6,281.5L548.3,278.1L547.4,272.3L549.3,271.0L552.1,268.9L554.1,266.0L557.5,261.8L560.5,260.1L561.5,257.3L563.5,255.7L565.9,255.6L565.0,251.5L563.9,248.6L562.6,247.6L562.7,244.4L562.4,243.1L564.7,244.2L566.2,246.0L572.2,246.5L572.1,248.6L569.9,249.2L570.1,250.7L571.0,252.3L571.5,251.0L572.8,252.0L573.9,254.7L575.1,253.9L574.7,249.4L576.7,249.4L577.2,245.5L577.7,242.6L579.5,240.7L581.5,241.3L581.6,238.4L578.6,235.7L575.7,235.7L572.6,237.0L569.8,239.5L569.0,239.4L570.3,241.9L565.4,242.3L563.1,240.7L562.4,238.8L560.9,239.1L561.7,243.1L559.2,242.8L556.4,242.6L553.4,240.7L550.4,240.6L546.9,238.9L542.5,236.8L542.7,234.1L543.8,233.1L538.7,230.7L537.8,229.7L536.5,227.0L537.5,225.7L533.2,219.1L531.4,220.5L525.4,221.2L526.3,225.2L530.0,227.6L528.4,228.4L528.9,230.7L527.8,232.6L526.0,233.9L524.3,236.8L521.3,238.9L519.4,241.5L521.0,242.8L522.5,244.9L523.9,248.4L518.9,248.6Z" fill="#f7fcb9"/>
<path d="M560.9,239.1L561.7,243.1L559.2,242.8L556.4,242.6L553.4,240.7L550.4,240.6L546.9,238.9L542.5,236.8L542.7,234.1L543.8,233.1L546.6,233.5L550.8,235.5L554.4,238.1L556.2,238.9L558.9,239.3Z" fill="#d9f0a3"/>
<path d="M569.0,239.4L570.3,241.9L565.4,242.3L563.1,240.7L564.4,238.4L567.4,238.9Z" fill="#addd8e"/>
<path d="M565.9,255.6L568.7,255.1L569.2,253.6L570.9,253.1L572.5,256.0L573.7,258.1L574.2,256.5L573.9,254.7L572.8,252.0L571.5,251.0L571.0,252.3L570.1,250.7L569.9,249.2L572.1,248.6L572.2,246.5L566.2,246.0L564.7,244.2L562.4,243.1L562.7,244.4L562.6,247.6L563.9,248.6L565.0,251.5Z" fill="#addd8e"/>
<path d="M548.3,286.8L550.5,289.0L551.2,290.2L552.9,293.4L552.4,295.8L550.2,296.9L548.7,296.3L548.3,294.2L547.9,291.3L548.2,288.9Z" fill="#addd8e"/>
<path d="M573.7,258.1L577.2,261.3L579.0,263.1L580.1,267.1L579.8,270.5L582.6,271.1L584.2,269.4L585.9,268.1L587.4,269.2L588.2,273.1L589.6,275.7L591.0,281.0L591.4,286.3L592.5,282.1L591.9,278.1L589.3,273.1L589.8,270.2L586.2,263.9L586.7,261.0L589.4,259.9L591.7,259.0L592.6,257.3L593.6,255.9L591.0,255.7L588.9,254.4L588.9,251.8L587.0,249.4L584.5,249.7L584.3,246.8L585.9,244.2L585.1,240.2L581.6,238.4L581.5,241.3L579.5,240.7L577.7,242.6L577.2,245.5L576.7,249.4L574.7,249.4L575.1,253.9L573.9,254.7L574.2,256.5Z" fill="#d9f0a3"/>
<path d="M591.7,259.0L593.0,261.3L594.6,261.3L594.8,266.3L597.1,264.7L599.1,265.3L601.5,264.4L603.5,266.8L603.9,269.4L606.3,272.3L606.3,274.7L605.6,274.8L600.6,275.1L599.4,276.8L599.7,279.7L601.0,281.9L599.4,280.2L596.4,279.3L595.9,277.2L593.9,277.3L594.1,281.0L592.8,285.2L593.2,288.1L594.9,290.2L596.2,293.6L598.8,294.6L600.2,296.1L597.9,297.6L595.5,295.6L594.2,293.6L591.1,292.1L590.9,288.9L591.4,286.3L592.5,282.1L591.9,278.1L589.3,273.1L589.8,270.2L586.2,263.9L586.7,261.0L589.4,259.9Z" fill="#ffffe5"/>
<path d="M591.7,259.0L592.6,257.3L593.6,255.9L595.2,256.8L594.6,253.5L595.5,253.6L598.1,257.3L601.7,258.6L601.0,261.0L604.1,263.6L608.0,268.1L610.4,270.5L611.1,273.9L610.9,274.0L607.5,274.8L605.6,274.8L606.3,274.7L606.3,272.3L603.9,269.4L603.5,266.8L601.5,264.4L599.1,265.3L597.1,264.7L594.8,266.3L594.6,261.3L593.0,261.3Z" fill="#ffffe5"/>
<path d="M601.0,281.9L603.0,285.0L605.0,285.2L606.3,283.8L608.9,283.6L607.9,282.1L611.5,280.1L610.9,274.0L607.5,274.8L605.6,274.8L600.6,275.1L599.4,276.8L599.7,279.7Z" fill="#78c679"/>
<path d="M605.0,285.2L606.1,290.0L610.4,287.6L610.4,285.2L611.6,285.2L615.2,282.6L615.5,278.6L615.3,276.3L613.9,272.3L612.0,270.2L608.8,267.6L607.1,265.5L605.1,262.8L605.2,260.2L606.6,259.2L606.9,257.8L609.3,255.9L606.1,254.7L605.7,252.3L602.5,251.3L599.7,253.1L597.4,253.4L595.5,253.6L598.1,257.3L601.7,258.6L601.0,261.0L604.1,263.6L608.0,268.1L610.4,270.5L611.1,273.9L610.9,274.0L611.5,280.1L607.9,282.1L608.9,283.6L606.3,283.8Z" fill="#238443"/>
<path d="M595.5,295.6L597.9,297.6L600.2,296.1L603.4,301.5L603.7,305.0L605.6,308.9L603.9,309.2L600.8,306.8L598.6,305.0L596.9,302.1L596.2,298.4ZM618.1,307.3L621.4,308.7L622.2,305.8L625.9,304.2L628.1,300.8L630.7,299.4L632.6,296.8L634.3,294.2L636.5,296.0L637.5,297.3L640.1,298.6L638.8,300.8L637.2,301.6L631.9,301.5L631.9,303.6L630.6,306.0L629.5,308.8L625.6,308.7L623.3,310.0L620.2,310.4L618.8,309.2Z" fill="#78c679"/>
<path d="M628.1,300.8L630.7,299.4L631.2,301.0L629.6,302.1Z" fill="#238443"/>
<path d="M618.1,307.3L618.8,309.2L620.2,310.4L623.3,310.0L625.6,308.7L629.5,308.8L630.6,306.0L631.9,303.6L631.9,301.5L637.2,301.6L636.8,303.9L637.6,306.8L640.0,310.0L637.3,310.5L636.6,313.9L634.9,316.0L634.1,319.2L632.9,322.1L629.6,323.4L629.4,321.6L625.9,321.0L622.9,320.5L619.4,320.2L619.2,317.1L617.0,313.7L616.5,310.0ZM584.4,297.9L589.6,298.8L592.5,302.6L596.6,306.8L599.2,307.6L602.8,311.0L604.6,313.4L606.2,317.6L609.6,320.5L609.1,327.9L606.0,328.1L600.9,323.1L596.7,315.2L592.9,308.1L589.1,303.9L585.0,300.0ZM607.3,330.5L609.5,328.1L614.6,329.2L619.4,330.8L620.9,329.4L624.5,330.8L628.8,332.9L628.4,335.5L622.9,334.5L616.0,332.9L610.2,332.1ZM628.7,333.9L631.5,334.5L630.2,335.8L628.9,334.7ZM632.2,334.5L633.8,334.7L633.2,336.0L632.1,335.8ZM634.0,334.7L636.9,333.9L639.3,335.0L637.9,336.0L634.4,336.3ZM641.0,334.7L644.9,335.0L648.4,334.5L647.9,335.5L643.7,336.0L641.2,335.8ZM638.9,337.6L641.3,337.3L643.0,339.2L641.1,339.5ZM649.2,339.7L650.6,337.3L653.0,336.3L652.9,337.6L651.6,339.2ZM642.4,310.2L644.5,309.2L649.1,310.0L652.6,310.0L654.5,308.4L652.9,311.5L649.4,311.3L644.8,311.4L642.7,312.9L642.4,315.0L644.9,316.3L646.1,315.0L650.3,315.1L648.9,316.8L646.5,317.9L647.6,320.5L648.9,323.4L648.1,326.8L645.8,325.2L644.3,322.1L644.6,319.7L642.9,321.0L642.9,327.1L640.8,327.1L641.0,321.8L639.4,320.0L640.7,316.5L642.0,312.9ZM659.6,310.0L660.9,306.8L662.6,308.7L661.5,311.3L663.2,311.8L661.1,314.7L660.4,312.1ZM660.9,320.5L667.4,320.8L665.5,322.1L661.3,321.8ZM656.2,320.8L659.0,321.3L657.8,322.6L656.2,321.8ZM668.1,314.7L671.6,313.7L675.3,314.7L675.6,319.2L677.2,321.3L680.8,318.4L684.3,316.8L688.4,318.7L691.2,319.4L690.1,336.6L686.8,334.2L683.3,334.7L685.5,331.0L683.9,327.1L679.4,324.4L674.8,322.9L672.4,323.1L672.1,320.0L673.7,318.9L670.3,318.4L668.0,316.3ZM675.0,327.1L676.2,327.3L675.8,330.0L674.7,329.2ZM667.2,332.3L668.9,331.6L668.5,333.7ZM607.8,316.8L610.1,317.3L611.0,320.5L609.2,319.4Z" fill="#41ab5d"/>
<path d="M653.0,336.3L655.4,335.0L658.4,334.7L656.5,336.3L652.9,337.6Z" fill="#d9f0a3"/>
<path d="M691.2,319.4L694.7,321.0L699.3,322.6L702.2,325.8L704.7,328.4L706.5,330.2L704.6,330.8L706.6,333.7L709.4,336.3L712.6,339.7L709.5,340.0L704.4,337.6L702.0,333.9L698.6,332.9L696.1,335.0L694.8,336.8L692.4,336.8L690.1,336.6ZM707.9,327.3L712.0,325.8L715.5,323.7L717.4,323.9L716.5,327.1L712.9,328.9L709.4,328.9ZM714.1,319.4L717.9,322.6L719.0,325.0L718.1,324.4L715.2,320.8ZM722.8,327.1L725.4,329.7L724.6,330.8L722.9,328.4ZM704.3,317.9L706.2,317.9L705.2,318.7Z" fill="#d9f0a3"/>
<path d="M726.7,330.2L728.9,331.8L728.2,332.1L726.6,331.0ZM731.2,332.3L734.2,334.7L733.7,335.2L731.1,333.4ZM733.3,337.1L736.0,338.4L734.8,338.7L733.5,337.9ZM736.1,334.7L737.2,337.6L736.5,337.9L736.0,336.0ZM737.2,339.7L739.1,340.8L737.9,341.0Z" fill="#d9f0a3"/>
<path d="M747.4,351.6L748.6,352.6L748.0,353.9L747.2,353.4ZM748.3,354.7L749.2,355.8L748.4,356.3ZM749.4,358.9L750.0,359.2L749.5,359.6Z" fill="#f7fcb9"/>
<path d="M738.2,365.5L741.0,367.9L743.5,371.3L742.2,371.3L738.8,367.6Z" fill="#005a32"/>
<path d="M770.4,358.7L773.3,358.9L772.5,360.5L770.0,360.3ZM774.1,356.8L777.2,355.2L777.0,356.3L774.4,357.4Z" fill="#78c679"/>
<path d="M639.5,263.9L643.2,263.9L643.9,267.8L642.9,270.5L643.1,273.1L643.8,275.2L646.4,275.5L649.0,276.3L649.9,279.4L647.9,278.4L645.9,276.8L642.4,276.5L641.2,274.7L641.9,274.2L640.0,273.6L638.9,270.0L639.9,268.9L639.5,266.5ZM646.1,294.2L646.6,291.5L649.3,289.7L652.1,290.2L654.0,286.8L656.1,290.2L656.8,294.2L656.0,296.0L654.5,294.4L654.5,297.9L651.6,296.3L651.0,293.6L649.5,293.1L646.8,294.4ZM650.4,279.7L652.7,279.7L654.1,283.6L652.4,282.9L651.5,281.3ZM650.7,282.6L652.4,283.1L653.2,286.3L652.3,285.7ZM647.6,283.9L649.0,284.2L649.0,288.6L647.0,287.3L646.6,285.2ZM645.3,281.5L647.9,282.3L647.1,285.0L645.4,284.7ZM648.8,283.6L650.1,283.1L649.6,287.6ZM641.1,277.3L643.4,277.6L643.9,280.2L642.5,280.0ZM635.0,290.7L637.0,289.4L639.7,285.5L639.8,282.6L638.8,283.9L636.4,288.1ZM650.0,286.5L651.6,286.3L651.5,287.3Z" fill="#78c679"/>
<path d="M637.2,246.8L639.2,246.8L639.1,249.4L638.5,254.7L636.2,252.0L636.6,248.4Z" fill="#238443"/>
<path d="M609.3,255.9L611.8,256.0L613.4,257.1L614.9,259.2L615.4,256.8L617.9,255.7L621.5,254.2L623.2,253.6L625.8,252.8L628.3,251.3L630.8,248.1L633.4,245.5L632.9,242.8L634.2,239.4L635.7,236.8L635.6,233.9L633.0,232.8L634.6,231.3L632.2,228.4L630.6,226.5L627.9,222.6L624.8,220.7L624.8,218.9L625.9,217.8L629.6,215.5L629.4,214.4L626.4,213.6L621.5,214.4L620.7,213.1L617.1,210.7L616.7,210.0L619.3,209.4L620.1,207.3L621.5,205.3L624.2,205.8L624.5,210.5L627.4,208.4L629.9,207.3L631.9,204.7L632.7,202.8L635.7,203.6L634.9,202.1L637.6,201.0L639.7,201.1L639.7,199.5L638.6,196.9L636.4,194.3L640.6,194.1L640.2,191.0L638.4,188.2L638.3,185.7L634.8,187.4L631.7,187.4L628.8,184.3L624.7,183.0L621.0,182.0L620.1,180.7L612.6,174.9L609.5,173.4L605.8,172.5L601.4,173.2L600.3,174.4L603.2,176.4L603.5,181.5L601.8,182.8L599.0,181.9L599.6,186.9L604.0,187.4L610.5,190.0L606.7,190.2L604.1,191.0L601.0,194.6L596.5,194.3L598.2,197.7L595.6,200.4L590.5,201.0L586.3,203.2L576.5,200.6L567.9,200.2L566.7,200.3L562.8,196.1L558.0,194.3L552.5,193.8L550.3,189.4L546.1,186.6L542.3,185.1L541.3,183.7L540.4,183.8L537.8,185.6L539.1,188.4L533.6,188.7L534.0,193.0L529.7,194.6L532.0,198.7L532.8,201.6L529.8,203.7L526.9,204.7L522.9,206.0L521.3,207.9L521.3,208.8L522.5,211.3L524.7,211.4L525.6,214.6L525.0,215.1L528.2,216.3L528.9,217.8L533.2,219.1L537.5,225.7L536.5,227.0L537.8,229.7L538.7,230.7L543.8,233.1L546.6,233.5L550.8,235.5L554.4,238.1L556.2,238.9L558.9,239.3L560.9,239.1L562.4,238.8L563.1,240.7L564.4,238.4L567.4,238.9L569.0,239.4L569.8,239.5L572.6,237.0L575.7,235.7L578.6,235.7L581.6,238.4L585.1,240.2L585.9,244.2L584.3,246.8L584.5,249.7L587.0,249.4L588.9,251.8L588.9,254.4L591.0,255.7L593.6,255.9L595.2,256.8L594.6,253.5L595.5,253.6L597.4,253.4L599.7,253.1L602.5,251.3L605.7,252.3L606.1,254.7ZM611.9,262.1L613.6,259.9L616.6,259.9L616.2,263.1L614.1,264.7L612.1,263.6Z" fill="#addd8e"/>
<path d="M541.3,183.7L544.2,181.7L548.3,179.5L552.6,180.1L559.8,182.1L560.8,180.2L558.7,177.7L559.8,176.2L567.4,178.2L568.7,180.0L574.5,180.5L579.2,181.5L583.2,183.3L587.9,183.7L591.6,182.8L593.5,180.8L599.0,181.9L599.6,186.9L604.0,187.4L610.5,190.0L606.7,190.2L604.1,191.0L601.0,194.6L596.5,194.3L598.2,197.7L595.6,200.4L590.5,201.0L586.3,203.2L576.5,200.6L567.9,200.2L566.7,200.3L562.8,196.1L558.0,194.3L552.5,193.8L550.3,189.4L546.1,186.6L542.3,185.1Z" fill="#78c679"/>
<path d="M629.9,207.3L632.3,208.6L633.0,211.0L632.9,212.3L635.2,213.4L637.6,213.2L638.1,211.8L640.2,211.0L637.5,209.2L637.0,207.7L638.8,206.6L640.1,205.1L639.1,203.4L639.3,201.3L640.0,201.3L639.7,201.1L637.6,201.0L634.9,202.1L635.7,203.6L632.7,202.8L631.9,204.7Z" fill="url(#h)" stroke="#c8c8c8" stroke-opacity="1"/>
<path d="M637.6,213.2L638.4,215.2L637.9,216.0L640.0,218.9L640.7,221.5L643.3,221.5L646.1,220.2L646.0,217.8L644.5,215.2L640.2,211.0L638.1,211.8Z" fill="#238443"/>
<path d="M662.9,203.4L665.9,206.0L668.5,208.6L668.0,211.8L669.7,215.5L669.9,217.0L671.3,218.6L670.2,220.7L669.1,219.1L668.2,221.5L666.9,221.5L664.2,221.5L663.6,220.5L664.4,222.3L662.9,224.5L660.4,222.3L660.4,221.4L657.6,221.5L654.7,222.3L651.5,223.2L651.2,222.0L653.8,219.3L656.9,219.0L659.1,218.6L660.7,218.6L660.9,216.0L661.1,213.9L661.4,215.7L664.0,214.2L664.2,212.8L664.7,212.1L663.8,207.9L662.5,205.8L662.2,204.2ZM661.0,203.4L663.1,202.7L660.5,201.3L661.7,201.2L667.2,202.1L667.8,199.5L670.2,198.6L667.5,196.1L665.9,196.9L658.5,193.0L659.8,195.9L660.9,199.0L658.9,198.7L658.8,200.6ZM654.9,225.7L655.4,224.1L657.9,222.2L660.1,223.6L659.5,225.1L657.7,224.4L657.2,226.4ZM651.6,223.4L653.6,224.1L655.2,226.2L655.3,229.9L654.2,231.0L652.7,230.2L651.7,227.6L650.2,226.5L649.2,224.7L650.8,224.1Z" fill="#238443"/>
<path d="M414.3,134.0L418.2,134.9L423.5,135.5L427.4,137.4L432.2,138.7L434.1,140.7L432.5,142.1L429.0,142.3L423.5,141.2L418.8,140.1L423.3,143.7L424.5,146.0L427.9,147.2L430.6,147.4L429.0,144.8L433.3,145.8L434.6,145.8L432.9,143.5L435.8,141.6L439.6,142.3L438.8,140.3L437.1,136.7L441.1,137.4L443.1,140.3L445.1,138.7L453.1,137.4L454.9,137.6L459.6,136.7L465.0,137.4L464.2,134.0L470.7,135.1L476.4,136.2L473.1,131.4L473.1,127.3L475.0,126.5L480.2,127.6L482.5,131.4L487.0,136.9L488.3,141.9L490.1,139.2L489.7,135.8L485.0,131.4L484.3,128.2L489.5,128.6L495.2,129.7L500.8,132.5L492.3,126.1L499.1,122.9L507.9,120.9L515.9,120.0L519.5,117.6L525.4,119.0L534.3,120.0L538.6,121.3L536.4,123.9L534.6,126.7L538.6,125.2L544.4,126.1L552.3,126.7L560.9,127.1L564.9,125.9L573.3,129.3L577.7,131.4L581.2,130.3L588.1,130.5L589.7,127.3L600.2,128.6L609.2,130.3L616.1,131.6L630.7,133.5L634.0,134.6L643.1,134.0L648.0,133.3L652.5,135.8L658.2,134.0L667.7,135.8L681.5,144.8L678.1,145.5L688.9,151.2L682.8,152.4L680.2,156.6L671.8,156.6L672.7,161.5L672.2,162.8L677.3,165.9L677.7,168.9L678.6,173.4L676.5,173.9L677.6,179.2L672.4,175.2L665.6,168.9L661.3,162.8L661.6,157.9L661.8,152.4L660.6,150.7L657.7,154.3L649.8,153.1L653.1,158.4L645.6,158.4L636.3,158.4L630.6,158.4L628.8,162.3L628.3,165.3L629.2,167.7L626.7,169.6L632.5,171.4L637.4,171.4L642.1,173.9L644.8,179.0L648.6,184.0L648.4,189.2L647.2,194.8L644.0,200.0L641.2,199.3L640.0,201.3L639.7,201.1L639.7,199.5L638.6,196.9L636.4,194.3L640.6,194.1L640.2,191.0L638.4,188.2L638.3,185.7L634.8,187.4L631.7,187.4L628.8,184.3L624.7,183.0L621.0,182.0L620.1,180.7L612.6,174.9L609.5,173.4L605.8,172.5L601.4,173.2L600.3,174.4L603.2,176.4L603.5,181.5L601.8,182.8L599.0,181.9L593.5,180.8L591.6,182.8L587.9,183.7L583.2,183.3L579.2,181.5L574.5,180.5L568.7,180.0L567.4,178.2L559.8,176.2L558.7,177.7L560.8,180.2L559.8,182.1L552.6,180.1L548.3,179.5L544.2,181.7L541.3,183.7L540.4,183.8L535.7,182.5L530.1,179.0L526.6,179.6L523.7,179.5L516.3,173.2L512.8,171.7L512.8,170.4L506.7,171.5L501.9,170.9L500.3,168.2L495.4,168.9L490.2,170.5L487.9,170.6L482.7,171.4L483.3,174.2L482.1,176.4L486.1,179.5L482.6,180.0L478.0,178.7L473.3,179.7L467.6,177.7L464.0,177.2L460.7,180.0L461.0,181.7L457.3,181.7L458.2,183.5L457.6,185.6L459.2,186.9L462.0,187.6L464.0,190.7L462.4,192.5L461.5,194.8L462.9,199.5L465.9,202.5L464.6,204.2L462.7,203.3L461.3,202.4L459.4,200.8L456.8,200.3L454.6,199.9L451.2,199.0L446.9,198.5L442.2,195.9L441.7,195.1L439.3,193.8L441.4,191.8L443.6,188.9L441.3,188.9L441.3,187.6L444.2,187.0L443.7,182.5L439.5,181.6L435.2,180.5L433.7,178.5L431.3,178.2L430.5,175.7L428.5,175.6L425.9,176.2L424.7,173.4L427.0,172.8L423.1,169.9L422.2,167.4L416.8,166.1L415.3,163.0L414.6,162.6L414.4,160.3L414.1,159.3L415.1,158.0L419.0,156.9L416.4,156.2L414.0,155.3L416.7,153.1L419.5,149.8L416.3,147.6L416.7,145.3L414.7,143.2L415.0,141.4L412.4,138.7L411.3,137.6L411.6,135.7L413.1,134.6ZM657.7,192.0L658.1,190.2L660.1,191.2L656.7,188.4L654.3,184.0L657.4,184.3L653.4,182.8L649.4,177.7L646.1,173.9L642.2,170.6L642.4,172.7L645.3,176.4L650.2,181.5L653.8,186.6L656.2,190.2ZM447.2,130.3L451.3,131.8L458.2,132.2L452.6,128.2L451.6,125.0L457.6,121.9L467.9,119.4L461.6,119.2L452.8,121.7L450.0,125.0L447.1,128.6ZM497.3,113.2L503.5,114.7L511.8,116.7L517.0,115.5L512.3,113.5L502.8,111.9L498.0,111.6ZM437.4,112.5L444.9,112.8L442.6,111.9ZM576.8,121.9L583.0,123.3L588.7,122.9L590.4,122.1L582.1,120.9L577.1,120.7ZM586.8,126.1L593.0,126.5L589.1,125.4ZM593.4,122.9L598.5,122.7L595.1,122.1ZM657.2,131.0L658.5,130.3L660.8,131.6L659.2,131.6ZM66.5,130.3L69.8,130.8L67.5,131.6L64.2,131.6ZM57.3,135.8L59.7,137.6L62.5,140.3L65.3,142.3L55.2,146.0L52.8,146.5L52.3,143.7L49.7,141.9L44.4,144.8L43.5,144.8ZM676.6,180.7L677.1,179.7L676.7,181.2ZM460.6,133.5L463.7,133.7L461.7,132.7Z" fill="#d9f0a3"/>
<path d="M693.2,340.8L694.8,345.5L694.9,350.2L698.0,352.1L698.2,357.1L698.4,362.1L699.3,363.3L703.1,366.6L703.7,368.1L706.0,373.7L708.6,377.9L710.3,378.4L707.8,384.7L707.8,387.9L703.9,394.2L701.1,397.9L696.7,401.6L691.4,407.4L688.5,411.3L683.8,412.4L678.6,415.5L676.7,413.4L672.7,414.7L668.3,412.9L667.2,410.0L668.2,406.8L666.3,406.3L667.3,404.2L668.0,399.5L668.3,398.2L665.2,401.3L661.5,404.5L660.4,403.4L659.8,399.5L659.2,397.1L654.3,395.5L649.8,395.8L642.4,397.6L637.2,399.5L635.2,401.8L631.7,401.8L627.5,401.8L622.0,404.9L617.8,404.2L616.3,402.9L616.7,401.1L618.5,400.3L619.8,396.8L620.1,391.6L620.1,388.2L619.9,383.7L619.2,381.0L619.8,379.7L620.3,382.1L620.6,375.8L622.0,372.1L623.1,370.0L625.2,369.5L629.8,366.8L634.1,366.0L639.9,364.2L643.4,360.0L644.1,357.4L646.0,355.8L646.9,358.4L649.2,355.5L651.7,352.1L655.7,348.9L658.6,351.8L661.6,351.8L665.5,345.2L669.8,344.2L669.8,342.3L675.3,344.7L679.4,344.7L677.1,348.1L675.5,351.8L678.0,354.5L682.6,357.1L684.5,359.2L687.4,356.0L689.9,349.5L690.7,345.5L692.1,341.6ZM672.4,419.7L675.6,420.7L679.7,419.9L677.8,423.1L674.9,426.2L671.9,427.2L670.3,425.4L670.9,423.6L671.6,421.0ZM661.8,406.8L665.1,406.8L663.4,407.6L661.8,407.4ZM664.8,342.9L667.4,342.6L666.1,343.9L664.7,343.7Z" fill="#41ab5d"/>
<path d="M743.2,403.2L743.6,404.7L745.3,405.5L743.8,409.5L745.7,408.7L745.0,411.3L746.7,412.4L750.4,411.7L747.5,414.5L744.3,416.0L743.4,417.3L739.3,420.5L736.1,422.0L735.4,421.2L738.8,418.4L737.5,416.6L737.4,416.0L740.0,414.7L741.8,412.6L742.8,410.0L743.4,408.2L743.0,404.7ZM732.8,419.2L732.0,421.0L734.8,421.0L732.5,423.1L728.3,425.7L726.7,427.2L726.9,427.8L722.1,429.1L717.2,433.2L713.3,435.0L710.8,435.0L710.1,434.0L708.6,433.2L713.3,430.1L717.6,428.0L723.0,425.7L725.7,424.1L728.4,422.3L730.7,420.2ZM708.5,436.0L710.0,435.8L708.7,436.8Z" fill="#41ab5d"/></g>
</svg>
<svg class="map" width="850" height="600" viewBox="0 0 850 600" style="font-family:'Liberation Sans',sans-serif">
<defs><pattern id="h2" patternUnits="userSpaceOnUse" width="3.4" height="3.4" patternTransform="rotate(-45)"><rect width="3.4" height="3.4" fill="#fff"/><rect width="3.4" height="1.1" fill="#dcdcdc"/></pattern></defs>
<rect x="127.4" y="538.4" width="48" height="10.0" fill="url(#h2)" stroke="#b0b0b0" stroke-width=".6"/>
<line x1="151.4" y1="535.4" x2="151.4" y2="538.4" stroke="#b0b0b0" stroke-width=".6"/>
<text x="151.4" y="531.4" font-size="13.1" text-anchor="middle" fill="#444">No data</text>
<rect x="195.4" y="538.4" width="66.2" height="10.0" fill="#ffffe5"/>
<rect x="261.3" y="538.4" width="66.2" height="10.0" fill="#f7fcb9"/>
<rect x="327.1" y="538.4" width="66.2" height="10.0" fill="#d9f0a3"/>
<rect x="393.0" y="538.4" width="66.2" height="10.0" fill="#addd8e"/>
<rect x="458.8" y="538.4" width="66.2" height="10.0" fill="#78c679"/>
<rect x="524.7" y="538.4" width="66.2" height="10.0" fill="#41ab5d"/>
<rect x="590.6" y="538.4" width="66.2" height="10.0" fill="#238443"/>
<path d="M656.4,538.4H717.5L722.3,543.4L717.5,548.4H656.4Z" fill="#005a32"/>
<path d="M195.4,538.4H656.4M195.4,548.4H656.4" stroke="#c4c4b0" stroke-width=".5" fill="none" opacity=".7"/>
<line x1="195.4" y1="520" x2="195.4" y2="548.4" stroke="#a8a8a8" stroke-width=".7"/>
<text x="195.4" y="516.4" font-size="13.6" text-anchor="middle" fill="#444">0 kg/ha</text>
<line x1="261.3" y1="535.2" x2="261.3" y2="548.4" stroke="#a8a8a8" stroke-width=".7"/>
<text x="261.3" y="531.4" font-size="13.6" text-anchor="middle" fill="#444">0.2 kg/ha</text>
<line x1="327.1" y1="520" x2="327.1" y2="548.4" stroke="#a8a8a8" stroke-width=".7"/>
<text x="327.1" y="516.4" font-size="13.6" text-anchor="middle" fill="#444">0.5 kg/ha</text>
<line x1="393.0" y1="535.2" x2="393.0" y2="548.4" stroke="#a8a8a8" stroke-width=".7"/>
<text x="393.0" y="531.4" font-size="13.6" text-anchor="middle" fill="#444">1 kg/ha</text>
<line x1="458.8" y1="520" x2="458.8" y2="548.4" stroke="#a8a8a8" stroke-width=".7"/>
<text x="458.8" y="516.4" font-size="13.6" text-anchor="middle" fill="#444">2 kg/ha</text>
<line x1="524.7" y1="535.2" x2="524.7" y2="548.4" stroke="#a8a8a8" stroke-width=".7"/>
<text x="524.7" y="531.4" font-size="13.6" text-anchor="middle" fill="#444">5 kg/ha</text>
<line x1="590.6" y1="520" x2="590.6" y2="548.4" stroke="#a8a8a8" stroke-width=".7"/>
<text x="590.6" y="516.4" font-size="13.6" text-anchor="middle" fill="#444">10 kg/ha</text>
<line x1="656.4" y1="535.2" x2="656.4" y2="548.4" stroke="#a8a8a8" stroke-width=".7"/>
<text x="656.4" y="531.4" font-size="13.6" text-anchor="middle" fill="#444">20 kg/ha</text>
<g id="logo"><rect x="769" y="16" width="65" height="33.2" fill="#002147"/><rect x="769" y="49.1" width="65" height="2.6" fill="#ce261e"/></g>
</svg>
<h1>Pesticide use per hectare of cropland, 2023</h1>
<div class="sub">Average pesticide application per unit of cropland, measured in kilograms per hectare.</div>
<div class="logo"><span>Our World<br>in Data</span></div>
<div class="foot" style="left:16px"><b>Data source:</b> Food and Agriculture Organization of the United Nations (2025)</div>
<div class="foot" style="right:18px;font-size:12.9px">OurWorldinData.org/pesticides | CC BY</div>
</body></html>
